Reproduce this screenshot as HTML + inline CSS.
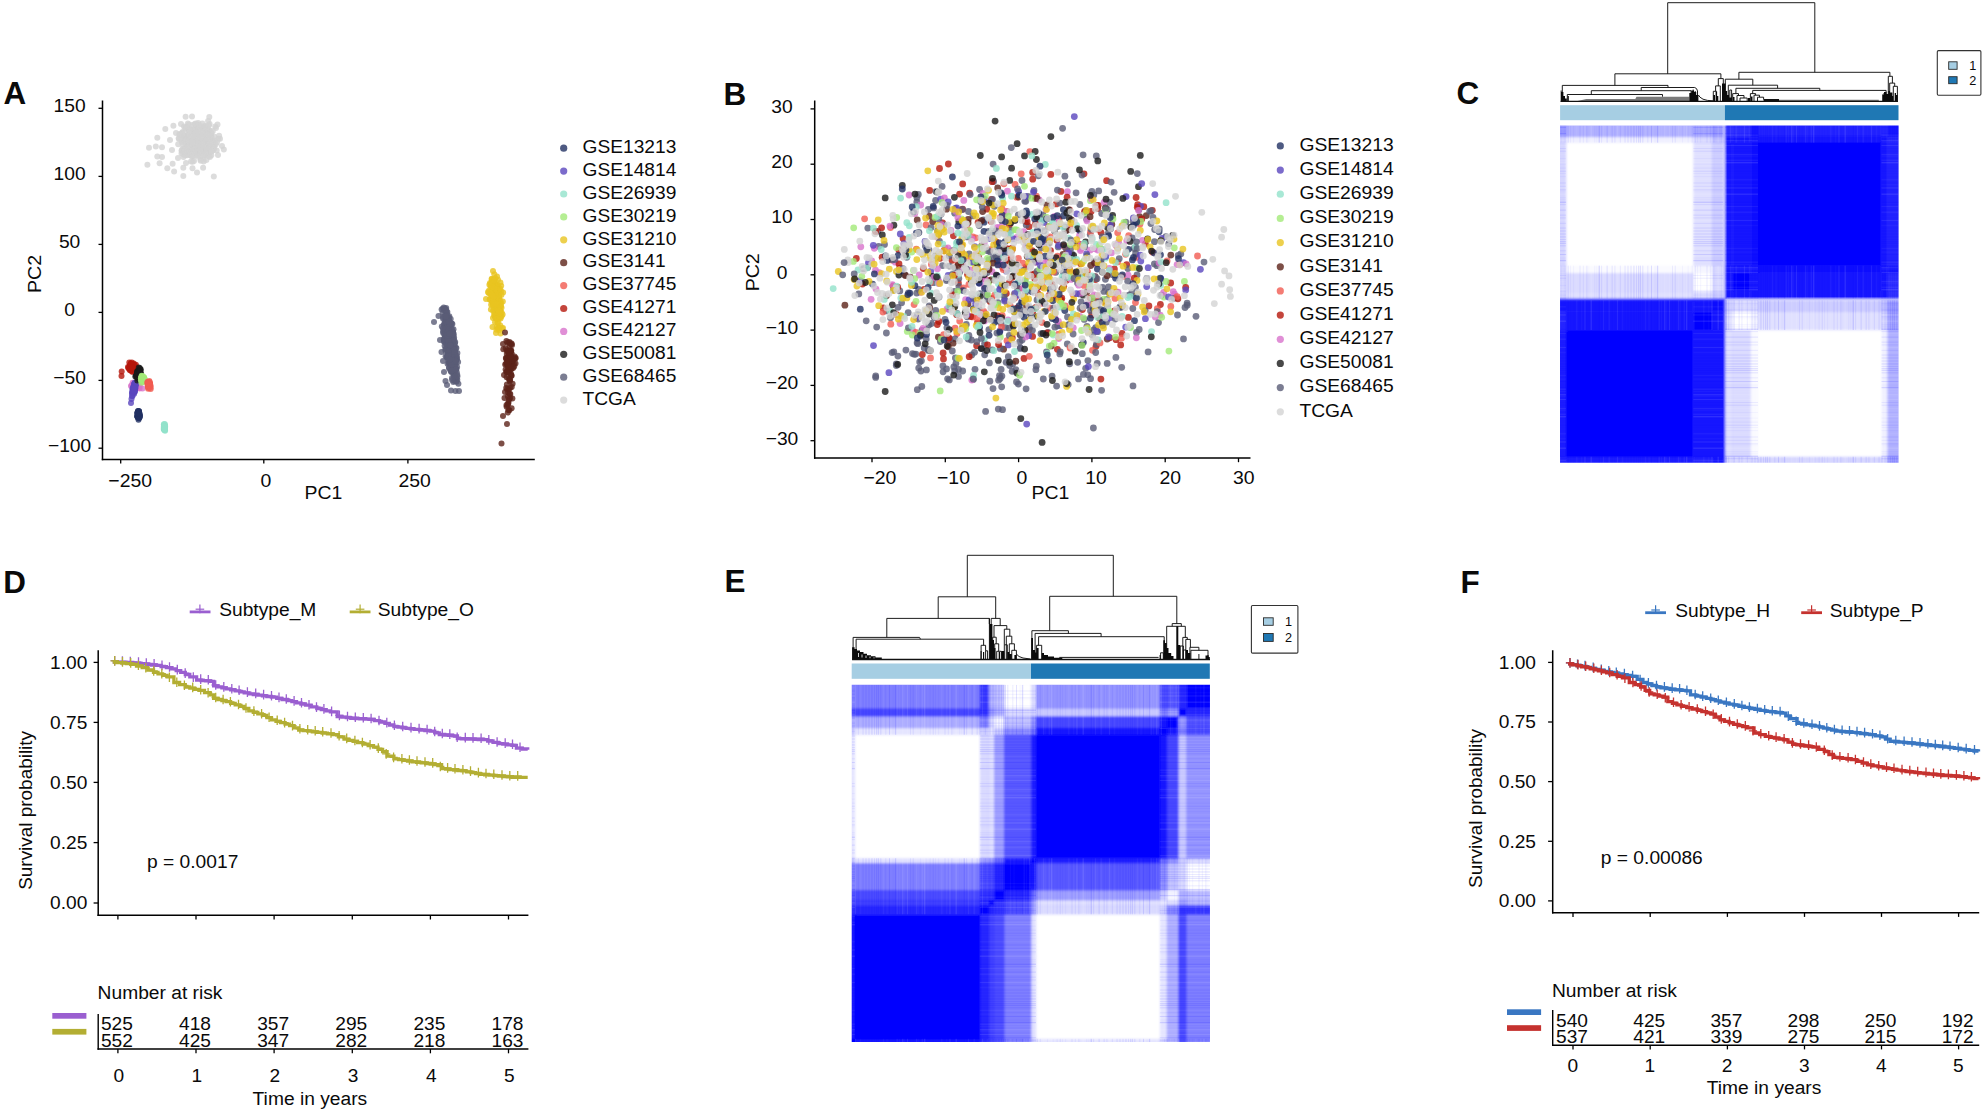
<!DOCTYPE html><html><head><meta charset="utf-8"><title>Figure</title>
<style>html,body{margin:0;padding:0;background:#fff}svg{display:block}text{font-family:'Liberation Sans', sans-serif;fill:#0a0a0a}</style></head><body>
<svg width="1984" height="1113" viewBox="0 0 1984 1113">
<rect width="1984" height="1113" fill="#fff"/>
<text transform="translate(3.4 104.1) scale(1.03 1)" font-size="30.5" text-anchor="start" font-weight="bold" fill="#000">A</text>
<text transform="translate(723.6 104.8) scale(1.03 1)" font-size="30.5" text-anchor="start" font-weight="bold" fill="#000">B</text>
<text transform="translate(1456.5 104.2) scale(1.03 1)" font-size="30.5" text-anchor="start" font-weight="bold" fill="#000">C</text>
<text transform="translate(3.2 593.0) scale(1.03 1)" font-size="30.5" text-anchor="start" font-weight="bold" fill="#000">D</text>
<text transform="translate(724.4 592.3) scale(1.03 1)" font-size="30.5" text-anchor="start" font-weight="bold" fill="#000">E</text>
<text transform="translate(1460.4 592.9) scale(1.03 1)" font-size="30.5" text-anchor="start" font-weight="bold" fill="#000">F</text>
<g fill="#d3d3d3" fill-opacity="0.8">
<circle cx="196.3" cy="145.9" r="3.0"/>
<circle cx="196.6" cy="138.8" r="3.0"/>
<circle cx="190.5" cy="139.7" r="3.0"/>
<circle cx="208.1" cy="145.1" r="3.0"/>
<circle cx="207.4" cy="143.6" r="3.0"/>
<circle cx="201.9" cy="143.1" r="3.0"/>
<circle cx="184.2" cy="148.9" r="3.0"/>
<circle cx="202.9" cy="145.8" r="3.0"/>
<circle cx="184.0" cy="126.5" r="3.0"/>
<circle cx="190.8" cy="137.5" r="3.0"/>
<circle cx="201.1" cy="141.1" r="3.0"/>
<circle cx="203.0" cy="136.0" r="3.0"/>
<circle cx="201.2" cy="144.9" r="3.0"/>
<circle cx="192.8" cy="156.3" r="3.0"/>
<circle cx="203.3" cy="151.8" r="3.0"/>
<circle cx="193.2" cy="135.1" r="3.0"/>
<circle cx="195.5" cy="140.6" r="3.0"/>
<circle cx="203.9" cy="143.6" r="3.0"/>
<circle cx="194.7" cy="133.3" r="3.0"/>
<circle cx="194.0" cy="152.0" r="3.0"/>
<circle cx="191.6" cy="143.6" r="3.0"/>
<circle cx="202.2" cy="128.7" r="3.0"/>
<circle cx="198.9" cy="152.7" r="3.0"/>
<circle cx="181.2" cy="138.7" r="3.0"/>
<circle cx="197.6" cy="134.5" r="3.0"/>
<circle cx="202.8" cy="141.0" r="3.0"/>
<circle cx="185.9" cy="148.6" r="3.0"/>
<circle cx="204.3" cy="149.6" r="3.0"/>
<circle cx="210.9" cy="144.6" r="3.0"/>
<circle cx="199.5" cy="130.3" r="3.0"/>
<circle cx="203.8" cy="136.2" r="3.0"/>
<circle cx="194.6" cy="130.6" r="3.0"/>
<circle cx="190.2" cy="136.9" r="3.0"/>
<circle cx="209.6" cy="124.0" r="3.0"/>
<circle cx="186.0" cy="143.6" r="3.0"/>
<circle cx="210.9" cy="146.5" r="3.0"/>
<circle cx="201.6" cy="135.2" r="3.0"/>
<circle cx="188.9" cy="149.9" r="3.0"/>
<circle cx="208.0" cy="142.9" r="3.0"/>
<circle cx="200.6" cy="145.2" r="3.0"/>
<circle cx="212.2" cy="146.8" r="3.0"/>
<circle cx="203.0" cy="146.2" r="3.0"/>
<circle cx="185.0" cy="152.5" r="3.0"/>
<circle cx="206.7" cy="146.1" r="3.0"/>
<circle cx="181.5" cy="136.1" r="3.0"/>
<circle cx="205.7" cy="125.9" r="3.0"/>
<circle cx="196.9" cy="150.3" r="3.0"/>
<circle cx="187.2" cy="155.3" r="3.0"/>
<circle cx="203.2" cy="140.2" r="3.0"/>
<circle cx="201.3" cy="147.1" r="3.0"/>
<circle cx="199.5" cy="151.4" r="3.0"/>
<circle cx="192.8" cy="137.9" r="3.0"/>
<circle cx="207.5" cy="141.7" r="3.0"/>
<circle cx="190.9" cy="149.6" r="3.0"/>
<circle cx="211.1" cy="137.7" r="3.0"/>
<circle cx="186.6" cy="140.3" r="3.0"/>
<circle cx="197.2" cy="138.9" r="3.0"/>
<circle cx="210.6" cy="132.7" r="3.0"/>
<circle cx="209.3" cy="130.6" r="3.0"/>
<circle cx="191.7" cy="146.9" r="3.0"/>
<circle cx="208.2" cy="148.9" r="3.0"/>
<circle cx="201.5" cy="142.7" r="3.0"/>
<circle cx="199.8" cy="146.4" r="3.0"/>
<circle cx="197.0" cy="143.9" r="3.0"/>
<circle cx="203.4" cy="141.5" r="3.0"/>
<circle cx="205.1" cy="146.4" r="3.0"/>
<circle cx="215.8" cy="144.3" r="3.0"/>
<circle cx="194.8" cy="138.3" r="3.0"/>
<circle cx="198.4" cy="149.4" r="3.0"/>
<circle cx="195.6" cy="144.8" r="3.0"/>
<circle cx="188.8" cy="143.6" r="3.0"/>
<circle cx="201.9" cy="143.6" r="3.0"/>
<circle cx="194.8" cy="147.1" r="3.0"/>
<circle cx="200.9" cy="137.0" r="3.0"/>
<circle cx="193.7" cy="140.6" r="3.0"/>
<circle cx="196.6" cy="141.0" r="3.0"/>
<circle cx="207.2" cy="131.5" r="3.0"/>
<circle cx="197.9" cy="149.7" r="3.0"/>
<circle cx="205.9" cy="154.3" r="3.0"/>
<circle cx="183.9" cy="138.5" r="3.0"/>
<circle cx="195.6" cy="146.9" r="3.0"/>
<circle cx="207.9" cy="129.1" r="3.0"/>
<circle cx="204.4" cy="128.7" r="3.0"/>
<circle cx="200.0" cy="151.8" r="3.0"/>
<circle cx="197.2" cy="143.1" r="3.0"/>
<circle cx="205.4" cy="142.7" r="3.0"/>
<circle cx="197.7" cy="154.7" r="3.0"/>
<circle cx="207.5" cy="139.0" r="3.0"/>
<circle cx="206.4" cy="139.2" r="3.0"/>
<circle cx="199.6" cy="147.6" r="3.0"/>
<circle cx="200.4" cy="147.0" r="3.0"/>
<circle cx="185.4" cy="128.5" r="3.0"/>
<circle cx="203.8" cy="133.2" r="3.0"/>
<circle cx="189.7" cy="128.9" r="3.0"/>
<circle cx="209.4" cy="147.9" r="3.0"/>
<circle cx="211.2" cy="133.4" r="3.0"/>
<circle cx="198.5" cy="131.7" r="3.0"/>
<circle cx="205.1" cy="155.2" r="3.0"/>
<circle cx="190.8" cy="154.9" r="3.0"/>
<circle cx="207.0" cy="140.0" r="3.0"/>
<circle cx="181.5" cy="153.6" r="3.0"/>
<circle cx="197.7" cy="136.3" r="3.0"/>
<circle cx="201.9" cy="145.0" r="3.0"/>
<circle cx="211.4" cy="132.7" r="3.0"/>
<circle cx="208.3" cy="154.3" r="3.0"/>
<circle cx="211.0" cy="139.9" r="3.0"/>
<circle cx="192.1" cy="150.3" r="3.0"/>
<circle cx="199.5" cy="142.6" r="3.0"/>
<circle cx="210.7" cy="139.2" r="3.0"/>
<circle cx="178.7" cy="138.2" r="3.0"/>
<circle cx="182.6" cy="148.5" r="3.0"/>
<circle cx="201.2" cy="136.2" r="3.0"/>
<circle cx="198.4" cy="148.7" r="3.0"/>
<circle cx="199.2" cy="152.9" r="3.0"/>
<circle cx="198.0" cy="150.4" r="3.0"/>
<circle cx="211.3" cy="155.3" r="3.0"/>
<circle cx="192.7" cy="149.1" r="3.0"/>
<circle cx="182.4" cy="132.2" r="3.0"/>
<circle cx="181.6" cy="150.7" r="3.0"/>
<circle cx="187.9" cy="141.4" r="3.0"/>
<circle cx="196.8" cy="141.3" r="3.0"/>
<circle cx="193.4" cy="143.5" r="3.0"/>
<circle cx="213.9" cy="141.9" r="3.0"/>
<circle cx="203.1" cy="150.1" r="3.0"/>
<circle cx="196.8" cy="130.7" r="3.0"/>
<circle cx="193.7" cy="150.7" r="3.0"/>
<circle cx="184.3" cy="136.4" r="3.0"/>
<circle cx="207.2" cy="148.3" r="3.0"/>
<circle cx="198.6" cy="148.4" r="3.0"/>
<circle cx="199.9" cy="131.4" r="3.0"/>
<circle cx="185.1" cy="136.0" r="3.0"/>
<circle cx="206.4" cy="136.6" r="3.0"/>
<circle cx="190.7" cy="134.9" r="3.0"/>
<circle cx="185.3" cy="140.5" r="3.0"/>
<circle cx="188.4" cy="144.6" r="3.0"/>
<circle cx="178.2" cy="144.3" r="3.0"/>
<circle cx="193.0" cy="124.8" r="3.0"/>
<circle cx="204.7" cy="139.1" r="3.0"/>
<circle cx="179.3" cy="134.0" r="3.0"/>
<circle cx="201.0" cy="137.6" r="3.0"/>
<circle cx="205.2" cy="147.9" r="3.0"/>
<circle cx="204.2" cy="144.3" r="3.0"/>
<circle cx="210.0" cy="147.2" r="3.0"/>
<circle cx="202.4" cy="123.6" r="3.0"/>
<circle cx="206.2" cy="152.8" r="3.0"/>
<circle cx="195.9" cy="137.5" r="3.0"/>
<circle cx="215.2" cy="126.4" r="3.0"/>
<circle cx="190.5" cy="147.4" r="3.0"/>
<circle cx="214.7" cy="140.5" r="3.0"/>
<circle cx="203.3" cy="149.3" r="3.0"/>
<circle cx="190.7" cy="140.7" r="3.0"/>
<circle cx="201.0" cy="148.6" r="3.0"/>
<circle cx="198.2" cy="139.8" r="3.0"/>
<circle cx="189.8" cy="138.4" r="3.0"/>
<circle cx="206.2" cy="142.4" r="3.0"/>
<circle cx="191.2" cy="134.3" r="3.0"/>
<circle cx="203.8" cy="145.6" r="3.0"/>
<circle cx="213.0" cy="145.2" r="3.0"/>
<circle cx="197.9" cy="146.0" r="3.0"/>
<circle cx="181.8" cy="150.4" r="3.0"/>
<circle cx="201.3" cy="135.5" r="3.0"/>
<circle cx="209.9" cy="157.1" r="3.0"/>
<circle cx="186.4" cy="135.8" r="3.0"/>
<circle cx="201.0" cy="143.1" r="3.0"/>
<circle cx="195.1" cy="133.1" r="3.0"/>
<circle cx="216.7" cy="150.4" r="3.0"/>
<circle cx="188.2" cy="129.9" r="3.0"/>
<circle cx="213.1" cy="150.0" r="3.0"/>
<circle cx="214.2" cy="148.5" r="3.0"/>
<circle cx="191.0" cy="143.7" r="3.0"/>
<circle cx="179.9" cy="135.1" r="3.0"/>
<circle cx="198.0" cy="146.0" r="3.0"/>
<circle cx="192.2" cy="140.4" r="3.0"/>
<circle cx="202.4" cy="144.7" r="3.0"/>
<circle cx="204.0" cy="143.3" r="3.0"/>
<circle cx="195.7" cy="148.3" r="3.0"/>
<circle cx="198.9" cy="134.4" r="3.0"/>
<circle cx="193.1" cy="141.5" r="3.0"/>
<circle cx="197.6" cy="142.9" r="3.0"/>
<circle cx="198.5" cy="143.0" r="3.0"/>
<circle cx="197.3" cy="130.7" r="3.0"/>
<circle cx="202.1" cy="150.6" r="3.0"/>
<circle cx="202.2" cy="139.9" r="3.0"/>
<circle cx="202.3" cy="133.2" r="3.0"/>
<circle cx="182.2" cy="142.0" r="3.0"/>
<circle cx="190.5" cy="147.9" r="3.0"/>
<circle cx="189.6" cy="155.1" r="3.0"/>
<circle cx="195.2" cy="129.7" r="3.0"/>
<circle cx="191.9" cy="146.0" r="3.0"/>
<circle cx="202.8" cy="143.0" r="3.0"/>
<circle cx="211.3" cy="147.6" r="3.0"/>
<circle cx="198.3" cy="146.6" r="3.0"/>
<circle cx="212.7" cy="149.9" r="3.0"/>
<circle cx="207.3" cy="132.2" r="3.0"/>
<circle cx="197.2" cy="147.8" r="3.0"/>
<circle cx="196.0" cy="150.7" r="3.0"/>
<circle cx="203.6" cy="149.3" r="3.0"/>
<circle cx="209.2" cy="139.6" r="3.0"/>
<circle cx="195.5" cy="149.0" r="3.0"/>
<circle cx="206.9" cy="141.6" r="3.0"/>
<circle cx="188.5" cy="143.1" r="3.0"/>
<circle cx="201.6" cy="151.2" r="3.0"/>
<circle cx="205.2" cy="141.7" r="3.0"/>
<circle cx="205.8" cy="146.1" r="3.0"/>
<circle cx="200.3" cy="142.0" r="3.0"/>
<circle cx="196.4" cy="147.4" r="3.0"/>
<circle cx="189.4" cy="136.1" r="3.0"/>
<circle cx="198.5" cy="128.9" r="3.0"/>
<circle cx="194.8" cy="124.2" r="3.0"/>
<circle cx="192.6" cy="146.4" r="3.0"/>
<circle cx="203.4" cy="141.0" r="3.0"/>
<circle cx="196.5" cy="129.3" r="3.0"/>
<circle cx="214.2" cy="145.9" r="3.0"/>
<circle cx="207.9" cy="133.9" r="3.0"/>
<circle cx="196.9" cy="125.9" r="3.0"/>
<circle cx="205.2" cy="149.5" r="3.0"/>
<circle cx="182.2" cy="141.1" r="3.0"/>
<circle cx="203.9" cy="126.3" r="3.0"/>
<circle cx="182.8" cy="132.3" r="3.0"/>
<circle cx="193.1" cy="129.4" r="3.0"/>
<circle cx="198.8" cy="143.6" r="3.0"/>
<circle cx="204.0" cy="147.5" r="3.0"/>
<circle cx="211.4" cy="151.5" r="3.0"/>
<circle cx="187.2" cy="137.2" r="3.0"/>
<circle cx="189.4" cy="132.2" r="3.0"/>
<circle cx="197.8" cy="141.5" r="3.0"/>
<circle cx="202.7" cy="127.9" r="3.0"/>
<circle cx="187.9" cy="141.3" r="3.0"/>
<circle cx="196.8" cy="138.8" r="3.0"/>
<circle cx="198.0" cy="135.0" r="3.0"/>
<circle cx="204.5" cy="144.5" r="3.0"/>
<circle cx="197.7" cy="135.7" r="3.0"/>
<circle cx="190.1" cy="141.8" r="3.0"/>
<circle cx="185.6" cy="143.2" r="3.0"/>
<circle cx="199.8" cy="129.7" r="3.0"/>
<circle cx="196.3" cy="138.8" r="3.0"/>
<circle cx="202.5" cy="146.8" r="3.0"/>
<circle cx="198.2" cy="134.2" r="3.0"/>
<circle cx="197.3" cy="140.9" r="3.0"/>
<circle cx="204.8" cy="144.0" r="3.0"/>
<circle cx="192.3" cy="129.9" r="3.0"/>
<circle cx="195.3" cy="135.1" r="3.0"/>
<circle cx="188.9" cy="140.5" r="3.0"/>
<circle cx="194.3" cy="142.4" r="3.0"/>
<circle cx="203.0" cy="137.9" r="3.0"/>
<circle cx="218.5" cy="138.7" r="3.0"/>
<circle cx="208.0" cy="142.5" r="3.0"/>
<circle cx="208.1" cy="121.1" r="3.0"/>
<circle cx="192.0" cy="143.6" r="3.0"/>
<circle cx="203.7" cy="161.6" r="3.0"/>
<circle cx="201.3" cy="152.5" r="3.0"/>
<circle cx="205.1" cy="149.6" r="3.0"/>
<circle cx="202.9" cy="140.2" r="3.0"/>
<circle cx="202.9" cy="132.2" r="3.0"/>
<circle cx="208.7" cy="132.8" r="3.0"/>
<circle cx="200.6" cy="159.7" r="3.0"/>
<circle cx="196.6" cy="141.7" r="3.0"/>
<circle cx="208.5" cy="141.7" r="3.0"/>
<circle cx="191.6" cy="143.7" r="3.0"/>
<circle cx="203.5" cy="147.6" r="3.0"/>
<circle cx="191.9" cy="156.6" r="3.0"/>
<circle cx="212.8" cy="141.7" r="3.0"/>
<circle cx="200.8" cy="137.8" r="3.0"/>
<circle cx="210.7" cy="135.4" r="3.0"/>
<circle cx="204.3" cy="137.4" r="3.0"/>
<circle cx="192.5" cy="147.7" r="3.0"/>
<circle cx="210.0" cy="141.4" r="3.0"/>
<circle cx="192.7" cy="148.5" r="3.0"/>
<circle cx="198.1" cy="144.2" r="3.0"/>
<circle cx="211.6" cy="151.2" r="3.0"/>
<circle cx="194.0" cy="161.1" r="3.0"/>
<circle cx="198.5" cy="148.3" r="3.0"/>
<circle cx="192.9" cy="141.1" r="3.0"/>
<circle cx="183.5" cy="156.9" r="3.0"/>
<circle cx="210.2" cy="131.0" r="3.0"/>
<circle cx="185.6" cy="127.6" r="3.0"/>
<circle cx="208.6" cy="137.5" r="3.0"/>
<circle cx="198.0" cy="138.8" r="3.0"/>
<circle cx="197.5" cy="132.1" r="3.0"/>
<circle cx="198.7" cy="129.1" r="3.0"/>
<circle cx="197.9" cy="144.2" r="3.0"/>
<circle cx="202.5" cy="139.5" r="3.0"/>
<circle cx="190.7" cy="142.9" r="3.0"/>
<circle cx="194.3" cy="155.0" r="3.0"/>
<circle cx="205.1" cy="140.5" r="3.0"/>
<circle cx="194.4" cy="135.5" r="3.0"/>
<circle cx="190.4" cy="138.5" r="3.0"/>
<circle cx="201.0" cy="145.9" r="3.0"/>
<circle cx="203.4" cy="159.5" r="3.0"/>
<circle cx="192.4" cy="141.6" r="3.0"/>
<circle cx="194.0" cy="143.0" r="3.0"/>
<circle cx="199.8" cy="145.0" r="3.0"/>
<circle cx="196.4" cy="144.6" r="3.0"/>
<circle cx="199.0" cy="148.1" r="3.0"/>
<circle cx="182.2" cy="133.9" r="3.0"/>
<circle cx="198.5" cy="132.6" r="3.0"/>
<circle cx="189.5" cy="146.9" r="3.0"/>
<circle cx="192.9" cy="147.0" r="3.0"/>
<circle cx="204.9" cy="144.1" r="3.0"/>
<circle cx="202.9" cy="140.6" r="3.0"/>
<circle cx="186.4" cy="141.2" r="3.0"/>
<circle cx="202.4" cy="136.9" r="3.0"/>
<circle cx="197.6" cy="147.9" r="3.0"/>
<circle cx="190.9" cy="147.0" r="3.0"/>
<circle cx="214.5" cy="136.7" r="3.0"/>
<circle cx="199.8" cy="140.2" r="3.0"/>
<circle cx="211.7" cy="144.2" r="3.0"/>
<circle cx="206.2" cy="135.6" r="3.0"/>
<circle cx="198.4" cy="141.4" r="3.0"/>
<circle cx="183.2" cy="153.9" r="3.0"/>
<circle cx="206.2" cy="126.5" r="3.0"/>
<circle cx="204.9" cy="140.4" r="3.0"/>
<circle cx="202.4" cy="144.7" r="3.0"/>
<circle cx="185.6" cy="139.7" r="3.0"/>
<circle cx="211.3" cy="136.6" r="3.0"/>
<circle cx="189.7" cy="129.8" r="3.0"/>
<circle cx="188.0" cy="144.4" r="3.0"/>
<circle cx="213.1" cy="145.2" r="3.0"/>
<circle cx="200.6" cy="160.7" r="3.0"/>
<circle cx="194.0" cy="135.7" r="3.0"/>
<circle cx="203.0" cy="146.2" r="3.0"/>
<circle cx="189.8" cy="131.4" r="3.0"/>
<circle cx="201.0" cy="143.6" r="3.0"/>
<circle cx="187.3" cy="139.8" r="3.0"/>
<circle cx="193.8" cy="145.5" r="3.0"/>
<circle cx="197.5" cy="140.8" r="3.0"/>
<circle cx="195.5" cy="150.6" r="3.0"/>
<circle cx="210.5" cy="138.3" r="3.0"/>
<circle cx="205.8" cy="135.0" r="3.0"/>
<circle cx="199.1" cy="147.9" r="3.0"/>
<circle cx="211.5" cy="138.2" r="3.0"/>
<circle cx="197.9" cy="143.2" r="3.0"/>
<circle cx="185.6" cy="141.6" r="3.0"/>
<circle cx="192.7" cy="144.7" r="3.0"/>
<circle cx="188.8" cy="124.5" r="3.0"/>
<circle cx="198.8" cy="143.7" r="3.0"/>
<circle cx="193.8" cy="149.1" r="3.0"/>
<circle cx="196.2" cy="136.3" r="3.0"/>
<circle cx="202.6" cy="128.0" r="3.0"/>
<circle cx="192.7" cy="141.3" r="3.0"/>
<circle cx="205.8" cy="140.1" r="3.0"/>
<circle cx="201.2" cy="135.9" r="3.0"/>
<circle cx="201.1" cy="155.8" r="3.0"/>
<circle cx="192.6" cy="161.8" r="3.0"/>
<circle cx="193.0" cy="141.6" r="3.0"/>
<circle cx="200.0" cy="150.3" r="3.0"/>
<circle cx="187.9" cy="123.4" r="3.0"/>
<circle cx="203.7" cy="148.3" r="3.0"/>
<circle cx="200.3" cy="143.7" r="3.0"/>
<circle cx="206.5" cy="144.7" r="3.0"/>
<circle cx="212.8" cy="130.9" r="3.0"/>
<circle cx="205.5" cy="138.3" r="3.0"/>
<circle cx="206.4" cy="160.0" r="3.0"/>
<circle cx="198.4" cy="139.3" r="3.0"/>
<circle cx="194.2" cy="134.3" r="3.0"/>
<circle cx="193.1" cy="147.0" r="3.0"/>
<circle cx="198.8" cy="142.1" r="3.0"/>
<circle cx="197.0" cy="149.4" r="3.0"/>
<circle cx="202.7" cy="140.3" r="3.0"/>
<circle cx="204.2" cy="140.2" r="3.0"/>
<circle cx="188.6" cy="154.0" r="3.0"/>
<circle cx="202.5" cy="133.3" r="3.0"/>
<circle cx="207.8" cy="144.5" r="3.0"/>
<circle cx="185.0" cy="155.3" r="3.0"/>
<circle cx="201.4" cy="149.2" r="3.0"/>
<circle cx="200.2" cy="140.2" r="3.0"/>
<circle cx="185.2" cy="149.9" r="3.0"/>
<circle cx="198.8" cy="139.0" r="3.0"/>
<circle cx="201.5" cy="142.2" r="3.0"/>
<circle cx="204.3" cy="138.3" r="3.0"/>
<circle cx="198.2" cy="123.1" r="3.0"/>
<circle cx="194.9" cy="147.3" r="3.0"/>
<circle cx="210.0" cy="138.4" r="3.0"/>
<circle cx="197.5" cy="155.1" r="3.0"/>
<circle cx="195.7" cy="147.8" r="3.0"/>
<circle cx="212.9" cy="141.8" r="3.0"/>
<circle cx="209.1" cy="135.4" r="3.0"/>
<circle cx="200.3" cy="140.8" r="3.0"/>
<circle cx="199.5" cy="151.2" r="3.0"/>
<circle cx="219.1" cy="135.8" r="3.0"/>
<circle cx="193.6" cy="145.8" r="3.0"/>
<circle cx="189.4" cy="145.8" r="3.0"/>
<circle cx="203.4" cy="139.1" r="3.0"/>
<circle cx="203.1" cy="128.2" r="3.0"/>
<circle cx="205.0" cy="128.2" r="3.0"/>
<circle cx="192.5" cy="136.7" r="3.0"/>
<circle cx="195.1" cy="148.9" r="3.0"/>
<circle cx="199.2" cy="138.1" r="3.0"/>
<circle cx="203.2" cy="155.1" r="3.0"/>
<circle cx="198.6" cy="144.6" r="3.0"/>
<circle cx="209.2" cy="143.8" r="3.0"/>
<circle cx="217.5" cy="124.4" r="3.0"/>
<circle cx="198.2" cy="145.1" r="3.0"/>
<circle cx="206.8" cy="147.3" r="3.0"/>
<circle cx="196.2" cy="132.4" r="3.0"/>
<circle cx="199.4" cy="150.4" r="3.0"/>
<circle cx="189.1" cy="132.7" r="3.0"/>
<circle cx="198.3" cy="124.8" r="3.0"/>
<circle cx="196.3" cy="137.7" r="3.0"/>
<circle cx="202.4" cy="135.5" r="3.0"/>
<circle cx="190.9" cy="138.1" r="3.0"/>
<circle cx="198.1" cy="135.8" r="3.0"/>
<circle cx="198.6" cy="148.0" r="3.0"/>
<circle cx="208.7" cy="156.2" r="3.0"/>
<circle cx="191.8" cy="137.9" r="3.0"/>
<circle cx="192.3" cy="141.2" r="3.0"/>
<circle cx="203.0" cy="129.8" r="3.0"/>
<circle cx="202.5" cy="141.3" r="3.0"/>
<circle cx="182.8" cy="144.0" r="3.0"/>
<circle cx="208.8" cy="125.4" r="3.0"/>
<circle cx="205.4" cy="143.3" r="3.0"/>
<circle cx="202.6" cy="145.3" r="3.0"/>
<circle cx="209.7" cy="139.6" r="3.0"/>
<circle cx="206.0" cy="138.0" r="3.0"/>
<circle cx="204.8" cy="134.5" r="3.0"/>
<circle cx="197.6" cy="156.4" r="3.0"/>
<circle cx="202.3" cy="140.1" r="3.0"/>
<circle cx="188.7" cy="134.7" r="3.0"/>
<circle cx="200.2" cy="149.6" r="3.0"/>
<circle cx="202.2" cy="146.0" r="3.0"/>
<circle cx="198.1" cy="153.1" r="3.0"/>
<circle cx="195.1" cy="136.8" r="3.0"/>
<circle cx="206.1" cy="142.0" r="3.0"/>
<circle cx="196.1" cy="136.5" r="3.0"/>
<circle cx="196.3" cy="146.9" r="3.0"/>
<circle cx="201.5" cy="131.1" r="3.0"/>
<circle cx="202.2" cy="143.0" r="3.0"/>
<circle cx="189.9" cy="148.1" r="3.0"/>
<circle cx="196.1" cy="138.6" r="3.0"/>
<circle cx="205.3" cy="152.9" r="3.0"/>
<circle cx="192.6" cy="145.3" r="3.0"/>
<circle cx="191.0" cy="161.4" r="3.0"/>
<circle cx="194.3" cy="151.8" r="3.0"/>
<circle cx="192.9" cy="148.5" r="3.0"/>
<circle cx="194.8" cy="145.8" r="3.0"/>
<circle cx="197.7" cy="135.8" r="3.0"/>
<circle cx="217.0" cy="142.2" r="3.0"/>
<circle cx="184.4" cy="148.8" r="3.0"/>
<circle cx="183.7" cy="151.4" r="3.0"/>
<circle cx="193.5" cy="142.7" r="3.0"/>
<circle cx="209.3" cy="142.5" r="3.0"/>
<circle cx="186.5" cy="126.9" r="3.0"/>
<circle cx="208.7" cy="147.9" r="3.0"/>
<circle cx="191.5" cy="148.9" r="3.0"/>
<circle cx="202.8" cy="147.1" r="3.0"/>
<circle cx="179.1" cy="138.9" r="3.0"/>
<circle cx="206.2" cy="147.8" r="3.0"/>
<circle cx="200.0" cy="145.7" r="3.0"/>
<circle cx="195.7" cy="141.8" r="3.0"/>
<circle cx="206.1" cy="137.7" r="3.0"/>
<circle cx="208.4" cy="134.7" r="3.0"/>
<circle cx="200.8" cy="137.0" r="3.0"/>
<circle cx="199.9" cy="135.6" r="3.0"/>
<circle cx="184.8" cy="150.9" r="3.0"/>
<circle cx="201.1" cy="136.7" r="3.0"/>
<circle cx="200.2" cy="150.0" r="3.0"/>
<circle cx="190.1" cy="140.6" r="3.0"/>
<circle cx="203.1" cy="146.0" r="3.0"/>
<circle cx="195.6" cy="123.4" r="3.0"/>
<circle cx="209.2" cy="144.3" r="3.0"/>
<circle cx="198.6" cy="139.1" r="3.0"/>
<circle cx="200.8" cy="137.8" r="3.0"/>
<circle cx="189.7" cy="135.1" r="3.0"/>
<circle cx="193.4" cy="136.2" r="3.0"/>
<circle cx="188.5" cy="147.0" r="3.0"/>
<circle cx="187.2" cy="147.2" r="3.0"/>
<circle cx="189.8" cy="144.5" r="3.0"/>
<circle cx="210.3" cy="143.2" r="3.0"/>
<circle cx="192.2" cy="141.9" r="3.0"/>
<circle cx="199.8" cy="126.6" r="3.0"/>
<circle cx="149.0" cy="147.7" r="3.0"/>
<circle cx="155.8" cy="146.4" r="3.0"/>
<circle cx="162.0" cy="147.2" r="3.0"/>
<circle cx="157.3" cy="137.7" r="3.0"/>
<circle cx="165.3" cy="128.9" r="3.0"/>
<circle cx="173.4" cy="125.8" r="3.0"/>
<circle cx="185.6" cy="116.7" r="3.0"/>
<circle cx="192.0" cy="116.4" r="3.0"/>
<circle cx="209.3" cy="117.0" r="3.0"/>
<circle cx="147.4" cy="164.8" r="3.0"/>
<circle cx="157.3" cy="156.4" r="3.0"/>
<circle cx="159.6" cy="163.2" r="3.0"/>
<circle cx="162.0" cy="157.0" r="3.0"/>
<circle cx="167.3" cy="168.3" r="3.0"/>
<circle cx="172.6" cy="163.7" r="3.0"/>
<circle cx="174.1" cy="171.6" r="3.0"/>
<circle cx="183.3" cy="167.8" r="3.0"/>
<circle cx="183.3" cy="175.9" r="3.0"/>
<circle cx="192.5" cy="168.3" r="3.0"/>
<circle cx="197.0" cy="172.4" r="3.0"/>
<circle cx="203.1" cy="167.8" r="3.0"/>
<circle cx="213.8" cy="176.5" r="3.0"/>
<circle cx="223.8" cy="149.5" r="3.0"/>
<circle cx="220.0" cy="138.8" r="3.0"/>
<circle cx="170.0" cy="140.0" r="3.0"/>
<circle cx="172.0" cy="150.0" r="3.0"/>
<circle cx="176.0" cy="133.0" r="3.0"/>
<circle cx="178.0" cy="158.0" r="3.0"/>
<circle cx="181.0" cy="124.0" r="3.0"/>
<circle cx="186.0" cy="163.0" r="3.0"/>
<circle cx="222.0" cy="146.0" r="3.0"/>
<circle cx="218.0" cy="155.0" r="3.0"/>
<circle cx="216.0" cy="128.0" r="3.0"/>
</g>
<g fill="#d873cc" fill-opacity="0.8">
<circle cx="135.4" cy="386.0" r="3.0"/>
<circle cx="135.7" cy="385.9" r="3.0"/>
<circle cx="138.5" cy="386.9" r="3.0"/>
<circle cx="138.9" cy="386.6" r="3.0"/>
<circle cx="136.1" cy="385.8" r="3.0"/>
<circle cx="136.2" cy="385.4" r="3.0"/>
<circle cx="136.4" cy="383.4" r="3.0"/>
<circle cx="136.0" cy="385.8" r="3.0"/>
<circle cx="134.6" cy="385.8" r="3.0"/>
<circle cx="138.0" cy="385.6" r="3.0"/>
<circle cx="136.3" cy="383.2" r="3.0"/>
<circle cx="131.0" cy="386.0" r="3.0"/>
<circle cx="138.0" cy="385.4" r="3.0"/>
<circle cx="138.1" cy="382.7" r="3.0"/>
<circle cx="138.8" cy="386.3" r="3.0"/>
<circle cx="136.9" cy="385.0" r="3.0"/>
<circle cx="138.3" cy="385.1" r="3.0"/>
<circle cx="137.3" cy="385.1" r="3.0"/>
<circle cx="131.6" cy="385.8" r="3.0"/>
<circle cx="137.3" cy="386.9" r="3.0"/>
<circle cx="134.8" cy="385.8" r="3.0"/>
<circle cx="138.2" cy="386.0" r="3.0"/>
<circle cx="139.7" cy="388.6" r="3.0"/>
<circle cx="134.7" cy="383.1" r="3.0"/>
<circle cx="138.8" cy="387.9" r="3.0"/>
<circle cx="138.9" cy="386.9" r="3.0"/>
<circle cx="135.4" cy="384.8" r="3.0"/>
<circle cx="138.8" cy="384.5" r="3.0"/>
<circle cx="132.6" cy="384.4" r="3.0"/>
<circle cx="142.5" cy="388.5" r="3.0"/>
<circle cx="135.2" cy="384.8" r="3.0"/>
<circle cx="137.3" cy="384.8" r="3.0"/>
<circle cx="139.8" cy="385.7" r="3.0"/>
<circle cx="134.3" cy="387.6" r="3.0"/>
<circle cx="135.5" cy="386.1" r="3.0"/>
<circle cx="136.8" cy="385.4" r="3.0"/>
<circle cx="137.5" cy="384.8" r="3.0"/>
<circle cx="132.6" cy="382.7" r="3.0"/>
<circle cx="133.9" cy="384.7" r="3.0"/>
<circle cx="136.7" cy="385.9" r="3.0"/>
</g>
<g fill="#b5160b" fill-opacity="0.8">
<circle cx="133.1" cy="367.5" r="3.0"/>
<circle cx="130.5" cy="365.9" r="3.0"/>
<circle cx="128.0" cy="367.0" r="3.0"/>
<circle cx="132.9" cy="368.4" r="3.0"/>
<circle cx="131.8" cy="367.0" r="3.0"/>
<circle cx="133.8" cy="367.3" r="3.0"/>
<circle cx="133.4" cy="368.5" r="3.0"/>
<circle cx="132.4" cy="369.9" r="3.0"/>
<circle cx="130.9" cy="366.6" r="3.0"/>
<circle cx="130.5" cy="365.7" r="3.0"/>
<circle cx="135.0" cy="370.8" r="3.0"/>
<circle cx="132.0" cy="368.4" r="3.0"/>
<circle cx="134.2" cy="368.9" r="3.0"/>
<circle cx="134.3" cy="364.8" r="3.0"/>
<circle cx="130.8" cy="368.2" r="3.0"/>
<circle cx="134.7" cy="367.5" r="3.0"/>
<circle cx="130.4" cy="366.6" r="3.0"/>
<circle cx="130.7" cy="365.6" r="3.0"/>
<circle cx="134.9" cy="366.0" r="3.0"/>
<circle cx="132.0" cy="371.6" r="3.0"/>
<circle cx="134.3" cy="368.0" r="3.0"/>
<circle cx="130.8" cy="368.1" r="3.0"/>
<circle cx="135.1" cy="368.5" r="3.0"/>
<circle cx="134.4" cy="367.5" r="3.0"/>
<circle cx="133.0" cy="366.9" r="3.0"/>
<circle cx="132.8" cy="369.9" r="3.0"/>
<circle cx="129.3" cy="367.2" r="3.0"/>
<circle cx="132.5" cy="366.2" r="3.0"/>
<circle cx="131.4" cy="368.9" r="3.0"/>
<circle cx="135.8" cy="368.6" r="3.0"/>
<circle cx="132.6" cy="364.2" r="3.0"/>
<circle cx="135.7" cy="367.5" r="3.0"/>
<circle cx="131.9" cy="365.1" r="3.0"/>
<circle cx="131.9" cy="365.1" r="3.0"/>
<circle cx="132.1" cy="368.2" r="3.0"/>
<circle cx="132.1" cy="367.9" r="3.0"/>
<circle cx="130.4" cy="370.2" r="3.0"/>
<circle cx="130.8" cy="363.7" r="3.0"/>
<circle cx="131.6" cy="365.8" r="3.0"/>
<circle cx="130.1" cy="366.6" r="3.0"/>
<circle cx="132.6" cy="364.9" r="3.0"/>
<circle cx="131.7" cy="370.2" r="3.0"/>
<circle cx="133.3" cy="367.0" r="3.0"/>
<circle cx="132.2" cy="367.1" r="3.0"/>
<circle cx="131.9" cy="368.8" r="3.0"/>
<circle cx="131.8" cy="362.5" r="3.0"/>
<circle cx="132.0" cy="365.5" r="3.0"/>
<circle cx="133.2" cy="366.1" r="3.0"/>
<circle cx="132.3" cy="371.7" r="3.0"/>
<circle cx="130.0" cy="365.1" r="3.0"/>
<circle cx="129.3" cy="362.5" r="3.0"/>
<circle cx="128.4" cy="368.0" r="3.0"/>
<circle cx="130.8" cy="363.6" r="3.0"/>
<circle cx="129.2" cy="368.5" r="3.0"/>
<circle cx="130.5" cy="366.6" r="3.0"/>
<circle cx="132.6" cy="370.0" r="3.0"/>
<circle cx="135.7" cy="369.4" r="3.0"/>
<circle cx="132.3" cy="367.7" r="3.0"/>
<circle cx="135.4" cy="370.2" r="3.0"/>
<circle cx="131.4" cy="368.2" r="3.0"/>
<circle cx="132.5" cy="367.4" r="3.0"/>
<circle cx="131.0" cy="364.6" r="3.0"/>
<circle cx="131.0" cy="364.2" r="3.0"/>
<circle cx="134.3" cy="368.4" r="3.0"/>
<circle cx="129.7" cy="370.1" r="3.0"/>
<circle cx="133.7" cy="363.5" r="3.0"/>
<circle cx="135.5" cy="368.9" r="3.0"/>
<circle cx="135.9" cy="364.8" r="3.0"/>
<circle cx="133.0" cy="368.1" r="3.0"/>
<circle cx="132.4" cy="367.6" r="3.0"/>
<circle cx="121.7" cy="371.5" r="3.0"/>
<circle cx="121.5" cy="376.0" r="3.0"/>
</g>
<g fill="#5a46be" fill-opacity="0.8">
<circle cx="136.1" cy="384.0" r="3.0"/>
<circle cx="134.0" cy="383.9" r="3.0"/>
<circle cx="134.1" cy="386.5" r="3.0"/>
<circle cx="134.4" cy="389.4" r="3.0"/>
<circle cx="134.7" cy="386.4" r="3.0"/>
<circle cx="133.2" cy="391.4" r="3.0"/>
<circle cx="134.8" cy="389.0" r="3.0"/>
<circle cx="132.9" cy="393.3" r="3.0"/>
<circle cx="133.3" cy="390.4" r="3.0"/>
<circle cx="135.4" cy="387.9" r="3.0"/>
<circle cx="135.6" cy="385.1" r="3.0"/>
<circle cx="135.0" cy="389.3" r="3.0"/>
<circle cx="132.4" cy="390.3" r="3.0"/>
<circle cx="132.6" cy="392.4" r="3.0"/>
<circle cx="133.7" cy="387.9" r="3.0"/>
<circle cx="134.7" cy="387.5" r="3.0"/>
<circle cx="134.8" cy="386.8" r="3.0"/>
<circle cx="134.8" cy="388.6" r="3.0"/>
<circle cx="135.2" cy="388.8" r="3.0"/>
<circle cx="132.6" cy="388.5" r="3.0"/>
<circle cx="133.9" cy="391.9" r="3.0"/>
<circle cx="132.3" cy="393.2" r="3.0"/>
<circle cx="132.5" cy="396.0" r="3.0"/>
<circle cx="133.6" cy="390.6" r="3.0"/>
<circle cx="134.6" cy="384.9" r="3.0"/>
<circle cx="134.6" cy="391.5" r="3.0"/>
<circle cx="135.0" cy="391.5" r="3.0"/>
<circle cx="134.8" cy="383.2" r="3.0"/>
<circle cx="134.1" cy="386.3" r="3.0"/>
<circle cx="133.1" cy="390.2" r="3.0"/>
<circle cx="134.7" cy="387.7" r="3.0"/>
<circle cx="134.4" cy="388.1" r="3.0"/>
<circle cx="133.9" cy="390.9" r="3.0"/>
<circle cx="135.5" cy="386.5" r="3.0"/>
<circle cx="132.0" cy="392.7" r="3.0"/>
<circle cx="133.6" cy="392.0" r="3.0"/>
<circle cx="133.0" cy="387.2" r="3.0"/>
<circle cx="135.1" cy="384.0" r="3.0"/>
<circle cx="133.3" cy="390.7" r="3.0"/>
<circle cx="134.1" cy="393.7" r="3.0"/>
<circle cx="134.3" cy="384.0" r="3.0"/>
<circle cx="134.1" cy="391.5" r="3.0"/>
<circle cx="135.2" cy="384.5" r="3.0"/>
<circle cx="134.4" cy="391.1" r="3.0"/>
<circle cx="135.0" cy="387.1" r="3.0"/>
<circle cx="134.0" cy="391.0" r="3.0"/>
<circle cx="134.9" cy="382.6" r="3.0"/>
<circle cx="134.2" cy="390.1" r="3.0"/>
<circle cx="133.6" cy="391.3" r="3.0"/>
<circle cx="133.7" cy="388.1" r="3.0"/>
<circle cx="131.5" cy="399.0" r="3.0"/>
<circle cx="131.0" cy="403.0" r="3.0"/>
<circle cx="132.0" cy="396.0" r="3.0"/>
</g>
<g fill="#1a1a1a" fill-opacity="0.8">
<circle cx="137.8" cy="375.0" r="3.0"/>
<circle cx="140.6" cy="373.3" r="3.0"/>
<circle cx="139.9" cy="378.3" r="3.0"/>
<circle cx="139.1" cy="375.3" r="3.0"/>
<circle cx="140.8" cy="373.5" r="3.0"/>
<circle cx="139.2" cy="370.6" r="3.0"/>
<circle cx="138.2" cy="377.3" r="3.0"/>
<circle cx="138.9" cy="374.8" r="3.0"/>
<circle cx="138.2" cy="373.9" r="3.0"/>
<circle cx="136.2" cy="375.9" r="3.0"/>
<circle cx="138.9" cy="370.4" r="3.0"/>
<circle cx="138.3" cy="371.0" r="3.0"/>
<circle cx="138.9" cy="376.6" r="3.0"/>
<circle cx="136.4" cy="375.6" r="3.0"/>
<circle cx="140.0" cy="372.2" r="3.0"/>
<circle cx="137.4" cy="371.0" r="3.0"/>
<circle cx="137.6" cy="374.2" r="3.0"/>
<circle cx="139.6" cy="367.9" r="3.0"/>
<circle cx="139.9" cy="369.4" r="3.0"/>
<circle cx="140.5" cy="370.5" r="3.0"/>
<circle cx="138.4" cy="371.0" r="3.0"/>
<circle cx="137.1" cy="376.9" r="3.0"/>
<circle cx="139.2" cy="375.4" r="3.0"/>
<circle cx="140.0" cy="369.4" r="3.0"/>
<circle cx="138.4" cy="371.8" r="3.0"/>
<circle cx="137.1" cy="374.6" r="3.0"/>
<circle cx="138.2" cy="371.4" r="3.0"/>
<circle cx="138.8" cy="367.6" r="3.0"/>
<circle cx="138.4" cy="377.3" r="3.0"/>
<circle cx="139.5" cy="370.9" r="3.0"/>
<circle cx="139.8" cy="374.7" r="3.0"/>
<circle cx="138.7" cy="377.8" r="3.0"/>
<circle cx="140.2" cy="372.6" r="3.0"/>
<circle cx="139.3" cy="375.9" r="3.0"/>
<circle cx="137.1" cy="371.9" r="3.0"/>
<circle cx="137.0" cy="372.8" r="3.0"/>
<circle cx="140.0" cy="370.8" r="3.0"/>
<circle cx="135.3" cy="376.4" r="3.0"/>
<circle cx="138.0" cy="377.6" r="3.0"/>
<circle cx="136.3" cy="376.0" r="3.0"/>
<circle cx="139.6" cy="379.6" r="3.0"/>
<circle cx="138.2" cy="374.2" r="3.0"/>
<circle cx="137.7" cy="376.2" r="3.0"/>
<circle cx="139.7" cy="374.0" r="3.0"/>
<circle cx="136.5" cy="375.1" r="3.0"/>
<circle cx="137.6" cy="375.1" r="3.0"/>
<circle cx="137.8" cy="378.0" r="3.0"/>
<circle cx="140.2" cy="372.6" r="3.0"/>
<circle cx="137.8" cy="378.4" r="3.0"/>
<circle cx="137.7" cy="374.5" r="3.0"/>
<circle cx="139.1" cy="377.3" r="3.0"/>
<circle cx="140.1" cy="370.1" r="3.0"/>
<circle cx="137.0" cy="373.8" r="3.0"/>
<circle cx="137.3" cy="380.5" r="3.0"/>
<circle cx="136.8" cy="376.3" r="3.0"/>
<circle cx="140.7" cy="369.2" r="3.0"/>
<circle cx="137.5" cy="373.7" r="3.0"/>
<circle cx="138.1" cy="372.9" r="3.0"/>
<circle cx="139.7" cy="371.4" r="3.0"/>
<circle cx="139.6" cy="371.9" r="3.0"/>
</g>
<g fill="#a2ea78" fill-opacity="0.8">
<circle cx="142.1" cy="379.8" r="3.0"/>
<circle cx="142.1" cy="379.4" r="3.0"/>
<circle cx="144.0" cy="379.0" r="3.0"/>
<circle cx="142.5" cy="380.1" r="3.0"/>
<circle cx="142.3" cy="380.6" r="3.0"/>
<circle cx="141.4" cy="379.9" r="3.0"/>
<circle cx="142.1" cy="377.8" r="3.0"/>
<circle cx="144.2" cy="377.7" r="3.0"/>
<circle cx="144.2" cy="380.0" r="3.0"/>
<circle cx="143.9" cy="377.5" r="3.0"/>
<circle cx="143.7" cy="381.2" r="3.0"/>
<circle cx="142.5" cy="378.8" r="3.0"/>
<circle cx="144.8" cy="379.3" r="3.0"/>
<circle cx="142.2" cy="378.1" r="3.0"/>
<circle cx="143.0" cy="379.5" r="3.0"/>
<circle cx="142.8" cy="381.6" r="3.0"/>
<circle cx="142.3" cy="379.7" r="3.0"/>
<circle cx="143.9" cy="377.5" r="3.0"/>
<circle cx="143.5" cy="381.7" r="3.0"/>
<circle cx="141.4" cy="377.4" r="3.0"/>
<circle cx="141.7" cy="376.2" r="3.0"/>
<circle cx="143.0" cy="376.2" r="3.0"/>
<circle cx="143.0" cy="381.2" r="3.0"/>
<circle cx="141.1" cy="378.5" r="3.0"/>
<circle cx="140.9" cy="380.2" r="3.0"/>
<circle cx="141.9" cy="378.6" r="3.0"/>
<circle cx="142.6" cy="379.8" r="3.0"/>
<circle cx="142.3" cy="379.0" r="3.0"/>
<circle cx="142.1" cy="379.2" r="3.0"/>
<circle cx="141.5" cy="379.1" r="3.0"/>
<circle cx="140.9" cy="378.3" r="3.0"/>
<circle cx="144.3" cy="379.1" r="3.0"/>
<circle cx="141.5" cy="379.4" r="3.0"/>
<circle cx="141.7" cy="376.5" r="3.0"/>
<circle cx="141.9" cy="380.1" r="3.0"/>
<circle cx="142.9" cy="378.9" r="3.0"/>
<circle cx="141.8" cy="377.4" r="3.0"/>
<circle cx="143.8" cy="379.4" r="3.0"/>
<circle cx="141.7" cy="375.8" r="3.0"/>
<circle cx="141.4" cy="382.7" r="3.0"/>
</g>
<g fill="#f15b51" fill-opacity="0.8">
<circle cx="148.0" cy="385.1" r="3.0"/>
<circle cx="149.2" cy="385.0" r="3.0"/>
<circle cx="148.7" cy="382.6" r="3.0"/>
<circle cx="148.1" cy="388.7" r="3.0"/>
<circle cx="148.3" cy="387.0" r="3.0"/>
<circle cx="147.5" cy="384.8" r="3.0"/>
<circle cx="149.2" cy="387.4" r="3.0"/>
<circle cx="148.0" cy="386.5" r="3.0"/>
<circle cx="149.3" cy="383.8" r="3.0"/>
<circle cx="149.4" cy="383.5" r="3.0"/>
<circle cx="148.3" cy="385.3" r="3.0"/>
<circle cx="148.1" cy="382.4" r="3.0"/>
<circle cx="148.6" cy="386.8" r="3.0"/>
<circle cx="148.6" cy="387.8" r="3.0"/>
<circle cx="148.0" cy="382.7" r="3.0"/>
<circle cx="150.4" cy="386.1" r="3.0"/>
<circle cx="149.9" cy="383.6" r="3.0"/>
<circle cx="149.7" cy="385.8" r="3.0"/>
<circle cx="149.6" cy="385.4" r="3.0"/>
<circle cx="150.1" cy="384.0" r="3.0"/>
<circle cx="148.1" cy="382.3" r="3.0"/>
<circle cx="150.0" cy="383.8" r="3.0"/>
<circle cx="148.1" cy="383.4" r="3.0"/>
<circle cx="148.6" cy="382.8" r="3.0"/>
<circle cx="148.7" cy="384.0" r="3.0"/>
<circle cx="148.5" cy="383.4" r="3.0"/>
<circle cx="149.0" cy="384.4" r="3.0"/>
<circle cx="149.1" cy="385.8" r="3.0"/>
<circle cx="149.3" cy="380.9" r="3.0"/>
<circle cx="148.5" cy="383.7" r="3.0"/>
<circle cx="149.7" cy="382.1" r="3.0"/>
<circle cx="148.4" cy="384.7" r="3.0"/>
<circle cx="148.7" cy="387.3" r="3.0"/>
<circle cx="148.6" cy="387.2" r="3.0"/>
<circle cx="147.7" cy="381.7" r="3.0"/>
<circle cx="150.1" cy="386.2" r="3.0"/>
<circle cx="149.4" cy="385.5" r="3.0"/>
<circle cx="149.4" cy="382.9" r="3.0"/>
<circle cx="149.9" cy="384.2" r="3.0"/>
<circle cx="149.9" cy="385.5" r="3.0"/>
<circle cx="147.2" cy="382.7" r="3.0"/>
<circle cx="150.0" cy="385.0" r="3.0"/>
<circle cx="148.6" cy="385.8" r="3.0"/>
<circle cx="148.6" cy="384.2" r="3.0"/>
<circle cx="149.1" cy="385.6" r="3.0"/>
<circle cx="150.4" cy="385.4" r="3.0"/>
<circle cx="150.7" cy="388.9" r="3.0"/>
<circle cx="150.5" cy="387.4" r="3.0"/>
<circle cx="149.1" cy="385.6" r="3.0"/>
<circle cx="148.9" cy="383.8" r="3.0"/>
</g>
<g fill="#223163" fill-opacity="0.8">
<circle cx="138.5" cy="413.6" r="3.0"/>
<circle cx="139.5" cy="415.8" r="3.0"/>
<circle cx="138.2" cy="411.2" r="3.0"/>
<circle cx="138.5" cy="414.0" r="3.0"/>
<circle cx="137.8" cy="412.6" r="3.0"/>
<circle cx="137.1" cy="415.9" r="3.0"/>
<circle cx="138.5" cy="419.7" r="3.0"/>
<circle cx="138.5" cy="414.5" r="3.0"/>
<circle cx="139.4" cy="415.1" r="3.0"/>
<circle cx="138.6" cy="414.1" r="3.0"/>
<circle cx="138.1" cy="417.6" r="3.0"/>
<circle cx="139.1" cy="418.1" r="3.0"/>
<circle cx="138.3" cy="414.9" r="3.0"/>
<circle cx="138.0" cy="416.6" r="3.0"/>
<circle cx="137.7" cy="415.9" r="3.0"/>
<circle cx="139.2" cy="417.5" r="3.0"/>
<circle cx="137.9" cy="416.9" r="3.0"/>
<circle cx="138.1" cy="413.4" r="3.0"/>
<circle cx="137.7" cy="417.0" r="3.0"/>
<circle cx="139.5" cy="413.7" r="3.0"/>
<circle cx="138.0" cy="414.2" r="3.0"/>
<circle cx="140.0" cy="416.7" r="3.0"/>
<circle cx="138.2" cy="411.4" r="3.0"/>
<circle cx="138.1" cy="417.1" r="3.0"/>
<circle cx="139.6" cy="414.3" r="3.0"/>
<circle cx="138.1" cy="413.8" r="3.0"/>
<circle cx="137.4" cy="416.5" r="3.0"/>
<circle cx="137.8" cy="416.8" r="3.0"/>
<circle cx="137.5" cy="412.4" r="3.0"/>
<circle cx="138.7" cy="413.3" r="3.0"/>
<circle cx="139.0" cy="414.8" r="3.0"/>
<circle cx="137.8" cy="416.0" r="3.0"/>
<circle cx="139.0" cy="411.2" r="3.0"/>
<circle cx="139.6" cy="415.7" r="3.0"/>
<circle cx="139.0" cy="411.3" r="3.0"/>
<circle cx="138.1" cy="414.1" r="3.0"/>
<circle cx="139.1" cy="412.0" r="3.0"/>
<circle cx="138.0" cy="410.9" r="3.0"/>
<circle cx="138.4" cy="415.5" r="3.0"/>
<circle cx="137.5" cy="413.7" r="3.0"/>
<circle cx="138.8" cy="417.8" r="3.0"/>
<circle cx="138.9" cy="414.2" r="3.0"/>
<circle cx="137.8" cy="413.0" r="3.0"/>
<circle cx="138.1" cy="415.1" r="3.0"/>
<circle cx="138.5" cy="418.0" r="3.0"/>
<circle cx="138.7" cy="412.8" r="3.0"/>
<circle cx="139.4" cy="416.6" r="3.0"/>
<circle cx="138.6" cy="413.4" r="3.0"/>
<circle cx="137.4" cy="412.9" r="3.0"/>
<circle cx="139.0" cy="413.3" r="3.0"/>
</g>
<g fill="#92e2ca" fill-opacity="0.8">
<circle cx="164.0" cy="428.3" r="3.0"/>
<circle cx="164.6" cy="429.0" r="3.0"/>
<circle cx="164.7" cy="430.3" r="3.0"/>
<circle cx="164.2" cy="429.6" r="3.0"/>
<circle cx="164.2" cy="429.1" r="3.0"/>
<circle cx="164.6" cy="428.4" r="3.0"/>
<circle cx="164.8" cy="428.0" r="3.0"/>
<circle cx="164.9" cy="429.4" r="3.0"/>
<circle cx="164.5" cy="427.1" r="3.0"/>
<circle cx="164.2" cy="427.2" r="3.0"/>
<circle cx="164.4" cy="428.0" r="3.0"/>
<circle cx="164.8" cy="426.6" r="3.0"/>
<circle cx="164.3" cy="427.5" r="3.0"/>
<circle cx="164.6" cy="426.3" r="3.0"/>
<circle cx="165.1" cy="427.1" r="3.0"/>
<circle cx="164.9" cy="424.3" r="3.0"/>
<circle cx="164.5" cy="428.4" r="3.0"/>
<circle cx="164.6" cy="429.0" r="3.0"/>
<circle cx="164.6" cy="428.3" r="3.0"/>
<circle cx="163.8" cy="426.9" r="3.0"/>
<circle cx="163.7" cy="429.0" r="3.0"/>
<circle cx="164.6" cy="427.7" r="3.0"/>
<circle cx="164.2" cy="427.1" r="3.0"/>
<circle cx="165.1" cy="430.8" r="3.0"/>
<circle cx="164.5" cy="430.1" r="3.0"/>
<circle cx="163.9" cy="424.9" r="3.0"/>
<circle cx="164.3" cy="426.6" r="3.0"/>
<circle cx="164.3" cy="428.3" r="3.0"/>
<circle cx="164.5" cy="428.4" r="3.0"/>
<circle cx="164.5" cy="429.5" r="3.0"/>
<circle cx="165.1" cy="426.0" r="3.0"/>
<circle cx="164.6" cy="427.6" r="3.0"/>
<circle cx="164.6" cy="425.5" r="3.0"/>
<circle cx="163.9" cy="424.3" r="3.0"/>
<circle cx="164.7" cy="428.3" r="3.0"/>
<circle cx="164.5" cy="424.2" r="3.0"/>
<circle cx="164.4" cy="426.8" r="3.0"/>
<circle cx="164.0" cy="426.5" r="3.0"/>
<circle cx="164.7" cy="428.9" r="3.0"/>
<circle cx="164.5" cy="428.8" r="3.0"/>
</g>
<g fill="#5a5c77" fill-opacity="0.8">
<circle cx="448.1" cy="329.9" r="3.0"/>
<circle cx="451.5" cy="342.8" r="3.0"/>
<circle cx="449.0" cy="340.6" r="3.0"/>
<circle cx="447.4" cy="339.3" r="3.0"/>
<circle cx="452.4" cy="352.3" r="3.0"/>
<circle cx="450.2" cy="370.1" r="3.0"/>
<circle cx="454.0" cy="355.9" r="3.0"/>
<circle cx="457.3" cy="379.7" r="3.0"/>
<circle cx="448.7" cy="357.4" r="3.0"/>
<circle cx="447.9" cy="324.6" r="3.0"/>
<circle cx="448.2" cy="352.1" r="3.0"/>
<circle cx="447.4" cy="334.3" r="3.0"/>
<circle cx="450.9" cy="343.2" r="3.0"/>
<circle cx="445.2" cy="336.3" r="3.0"/>
<circle cx="457.1" cy="366.9" r="3.0"/>
<circle cx="452.4" cy="339.9" r="3.0"/>
<circle cx="452.9" cy="350.9" r="3.0"/>
<circle cx="448.8" cy="351.6" r="3.0"/>
<circle cx="454.2" cy="353.5" r="3.0"/>
<circle cx="452.4" cy="324.1" r="3.0"/>
<circle cx="458.4" cy="383.8" r="3.0"/>
<circle cx="456.6" cy="381.8" r="3.0"/>
<circle cx="446.9" cy="335.2" r="3.0"/>
<circle cx="447.7" cy="325.7" r="3.0"/>
<circle cx="451.6" cy="341.3" r="3.0"/>
<circle cx="451.6" cy="341.5" r="3.0"/>
<circle cx="451.8" cy="351.5" r="3.0"/>
<circle cx="448.7" cy="337.8" r="3.0"/>
<circle cx="447.8" cy="325.5" r="3.0"/>
<circle cx="450.6" cy="341.5" r="3.0"/>
<circle cx="447.3" cy="324.9" r="3.0"/>
<circle cx="451.6" cy="343.0" r="3.0"/>
<circle cx="447.7" cy="320.7" r="3.0"/>
<circle cx="454.1" cy="361.7" r="3.0"/>
<circle cx="447.2" cy="334.6" r="3.0"/>
<circle cx="451.2" cy="337.3" r="3.0"/>
<circle cx="453.8" cy="373.1" r="3.0"/>
<circle cx="448.9" cy="329.1" r="3.0"/>
<circle cx="447.6" cy="346.1" r="3.0"/>
<circle cx="447.3" cy="327.3" r="3.0"/>
<circle cx="448.3" cy="355.4" r="3.0"/>
<circle cx="448.0" cy="321.6" r="3.0"/>
<circle cx="446.4" cy="317.5" r="3.0"/>
<circle cx="450.4" cy="349.0" r="3.0"/>
<circle cx="446.6" cy="321.6" r="3.0"/>
<circle cx="449.7" cy="335.4" r="3.0"/>
<circle cx="450.2" cy="325.2" r="3.0"/>
<circle cx="444.5" cy="308.5" r="3.0"/>
<circle cx="452.6" cy="342.2" r="3.0"/>
<circle cx="449.5" cy="329.8" r="3.0"/>
<circle cx="450.2" cy="330.7" r="3.0"/>
<circle cx="453.9" cy="376.7" r="3.0"/>
<circle cx="448.2" cy="350.9" r="3.0"/>
<circle cx="455.6" cy="361.5" r="3.0"/>
<circle cx="446.4" cy="342.7" r="3.0"/>
<circle cx="454.2" cy="350.0" r="3.0"/>
<circle cx="454.9" cy="363.8" r="3.0"/>
<circle cx="451.7" cy="328.4" r="3.0"/>
<circle cx="448.9" cy="317.5" r="3.0"/>
<circle cx="456.4" cy="379.6" r="3.0"/>
<circle cx="452.1" cy="364.4" r="3.0"/>
<circle cx="445.9" cy="317.5" r="3.0"/>
<circle cx="449.0" cy="338.0" r="3.0"/>
<circle cx="451.3" cy="355.9" r="3.0"/>
<circle cx="451.5" cy="345.8" r="3.0"/>
<circle cx="455.2" cy="341.9" r="3.0"/>
<circle cx="451.2" cy="350.8" r="3.0"/>
<circle cx="447.2" cy="337.8" r="3.0"/>
<circle cx="453.9" cy="368.9" r="3.0"/>
<circle cx="445.1" cy="320.4" r="3.0"/>
<circle cx="447.9" cy="339.3" r="3.0"/>
<circle cx="449.9" cy="363.7" r="3.0"/>
<circle cx="451.5" cy="351.8" r="3.0"/>
<circle cx="446.4" cy="318.4" r="3.0"/>
<circle cx="450.9" cy="340.1" r="3.0"/>
<circle cx="449.3" cy="333.0" r="3.0"/>
<circle cx="442.7" cy="308.7" r="3.0"/>
<circle cx="454.8" cy="357.7" r="3.0"/>
<circle cx="447.8" cy="341.7" r="3.0"/>
<circle cx="447.5" cy="363.7" r="3.0"/>
<circle cx="449.2" cy="326.0" r="3.0"/>
<circle cx="448.6" cy="355.1" r="3.0"/>
<circle cx="454.2" cy="371.0" r="3.0"/>
<circle cx="447.2" cy="324.1" r="3.0"/>
<circle cx="452.3" cy="360.0" r="3.0"/>
<circle cx="454.7" cy="364.2" r="3.0"/>
<circle cx="447.0" cy="357.4" r="3.0"/>
<circle cx="453.9" cy="364.8" r="3.0"/>
<circle cx="447.9" cy="329.8" r="3.0"/>
<circle cx="451.1" cy="362.9" r="3.0"/>
<circle cx="446.6" cy="327.9" r="3.0"/>
<circle cx="446.2" cy="340.5" r="3.0"/>
<circle cx="452.6" cy="351.7" r="3.0"/>
<circle cx="455.0" cy="343.4" r="3.0"/>
<circle cx="452.6" cy="335.4" r="3.0"/>
<circle cx="450.3" cy="331.1" r="3.0"/>
<circle cx="449.7" cy="346.0" r="3.0"/>
<circle cx="446.5" cy="332.1" r="3.0"/>
<circle cx="446.5" cy="335.1" r="3.0"/>
<circle cx="446.4" cy="330.1" r="3.0"/>
<circle cx="445.1" cy="331.5" r="3.0"/>
<circle cx="451.6" cy="339.3" r="3.0"/>
<circle cx="447.5" cy="337.0" r="3.0"/>
<circle cx="455.8" cy="369.1" r="3.0"/>
<circle cx="455.4" cy="360.4" r="3.0"/>
<circle cx="448.4" cy="335.5" r="3.0"/>
<circle cx="451.5" cy="364.3" r="3.0"/>
<circle cx="450.5" cy="339.6" r="3.0"/>
<circle cx="449.9" cy="349.5" r="3.0"/>
<circle cx="452.0" cy="361.7" r="3.0"/>
<circle cx="454.7" cy="356.5" r="3.0"/>
<circle cx="453.6" cy="355.2" r="3.0"/>
<circle cx="443.1" cy="318.8" r="3.0"/>
<circle cx="449.3" cy="329.6" r="3.0"/>
<circle cx="451.4" cy="372.0" r="3.0"/>
<circle cx="448.0" cy="348.1" r="3.0"/>
<circle cx="446.8" cy="327.4" r="3.0"/>
<circle cx="452.3" cy="355.8" r="3.0"/>
<circle cx="450.7" cy="365.6" r="3.0"/>
<circle cx="454.7" cy="359.8" r="3.0"/>
<circle cx="451.3" cy="343.4" r="3.0"/>
<circle cx="444.9" cy="330.7" r="3.0"/>
<circle cx="446.6" cy="333.9" r="3.0"/>
<circle cx="453.1" cy="332.3" r="3.0"/>
<circle cx="451.2" cy="346.0" r="3.0"/>
<circle cx="449.7" cy="356.9" r="3.0"/>
<circle cx="453.3" cy="360.3" r="3.0"/>
<circle cx="446.6" cy="311.7" r="3.0"/>
<circle cx="452.6" cy="353.1" r="3.0"/>
<circle cx="453.4" cy="373.7" r="3.0"/>
<circle cx="453.3" cy="352.2" r="3.0"/>
<circle cx="450.3" cy="324.0" r="3.0"/>
<circle cx="442.6" cy="313.0" r="3.0"/>
<circle cx="448.0" cy="352.4" r="3.0"/>
<circle cx="444.4" cy="339.7" r="3.0"/>
<circle cx="446.5" cy="343.4" r="3.0"/>
<circle cx="446.1" cy="348.8" r="3.0"/>
<circle cx="450.2" cy="351.0" r="3.0"/>
<circle cx="449.7" cy="343.3" r="3.0"/>
<circle cx="446.1" cy="344.6" r="3.0"/>
<circle cx="447.0" cy="342.7" r="3.0"/>
<circle cx="449.6" cy="332.9" r="3.0"/>
<circle cx="445.8" cy="326.7" r="3.0"/>
<circle cx="447.5" cy="320.9" r="3.0"/>
<circle cx="446.8" cy="339.2" r="3.0"/>
<circle cx="449.0" cy="322.3" r="3.0"/>
<circle cx="449.4" cy="328.8" r="3.0"/>
<circle cx="445.5" cy="351.0" r="3.0"/>
<circle cx="446.6" cy="320.3" r="3.0"/>
<circle cx="453.0" cy="348.8" r="3.0"/>
<circle cx="454.8" cy="358.0" r="3.0"/>
<circle cx="448.0" cy="334.5" r="3.0"/>
<circle cx="450.7" cy="357.5" r="3.0"/>
<circle cx="448.7" cy="363.1" r="3.0"/>
<circle cx="451.1" cy="355.1" r="3.0"/>
<circle cx="453.3" cy="361.6" r="3.0"/>
<circle cx="446.5" cy="342.4" r="3.0"/>
<circle cx="452.8" cy="332.7" r="3.0"/>
<circle cx="447.3" cy="325.5" r="3.0"/>
<circle cx="443.9" cy="324.9" r="3.0"/>
<circle cx="448.1" cy="339.4" r="3.0"/>
<circle cx="444.8" cy="323.8" r="3.0"/>
<circle cx="449.0" cy="363.0" r="3.0"/>
<circle cx="454.4" cy="381.1" r="3.0"/>
<circle cx="448.5" cy="320.1" r="3.0"/>
<circle cx="448.3" cy="353.3" r="3.0"/>
<circle cx="446.7" cy="357.0" r="3.0"/>
<circle cx="450.0" cy="323.5" r="3.0"/>
<circle cx="445.1" cy="336.9" r="3.0"/>
<circle cx="453.8" cy="352.3" r="3.0"/>
<circle cx="444.2" cy="341.6" r="3.0"/>
<circle cx="449.9" cy="335.1" r="3.0"/>
<circle cx="457.0" cy="357.4" r="3.0"/>
<circle cx="447.5" cy="336.9" r="3.0"/>
<circle cx="453.2" cy="341.2" r="3.0"/>
<circle cx="450.4" cy="323.2" r="3.0"/>
<circle cx="450.1" cy="358.0" r="3.0"/>
<circle cx="453.0" cy="351.2" r="3.0"/>
<circle cx="446.1" cy="318.3" r="3.0"/>
<circle cx="452.1" cy="346.8" r="3.0"/>
<circle cx="444.4" cy="323.4" r="3.0"/>
<circle cx="448.5" cy="338.2" r="3.0"/>
<circle cx="447.4" cy="312.1" r="3.0"/>
<circle cx="452.3" cy="331.3" r="3.0"/>
<circle cx="452.2" cy="359.0" r="3.0"/>
<circle cx="448.7" cy="356.5" r="3.0"/>
<circle cx="447.0" cy="335.5" r="3.0"/>
<circle cx="446.1" cy="316.6" r="3.0"/>
<circle cx="453.6" cy="339.1" r="3.0"/>
<circle cx="445.1" cy="328.6" r="3.0"/>
<circle cx="449.6" cy="332.7" r="3.0"/>
<circle cx="450.9" cy="350.1" r="3.0"/>
<circle cx="449.8" cy="332.5" r="3.0"/>
<circle cx="445.3" cy="349.2" r="3.0"/>
<circle cx="444.8" cy="336.8" r="3.0"/>
<circle cx="446.6" cy="318.4" r="3.0"/>
<circle cx="450.2" cy="343.2" r="3.0"/>
<circle cx="446.6" cy="324.5" r="3.0"/>
<circle cx="448.1" cy="323.7" r="3.0"/>
<circle cx="456.6" cy="355.8" r="3.0"/>
<circle cx="451.4" cy="367.3" r="3.0"/>
<circle cx="445.6" cy="332.8" r="3.0"/>
<circle cx="456.4" cy="348.1" r="3.0"/>
<circle cx="445.6" cy="356.2" r="3.0"/>
<circle cx="442.9" cy="316.9" r="3.0"/>
<circle cx="451.2" cy="352.3" r="3.0"/>
<circle cx="455.8" cy="348.0" r="3.0"/>
<circle cx="445.0" cy="325.5" r="3.0"/>
<circle cx="455.9" cy="381.3" r="3.0"/>
<circle cx="441.8" cy="326.4" r="3.0"/>
<circle cx="445.3" cy="311.5" r="3.0"/>
<circle cx="450.0" cy="343.4" r="3.0"/>
<circle cx="452.2" cy="361.9" r="3.0"/>
<circle cx="445.6" cy="328.1" r="3.0"/>
<circle cx="452.1" cy="380.0" r="3.0"/>
<circle cx="450.3" cy="345.5" r="3.0"/>
<circle cx="450.3" cy="354.3" r="3.0"/>
<circle cx="453.5" cy="352.0" r="3.0"/>
<circle cx="447.9" cy="339.1" r="3.0"/>
<circle cx="446.3" cy="338.3" r="3.0"/>
<circle cx="448.2" cy="337.8" r="3.0"/>
<circle cx="454.3" cy="346.2" r="3.0"/>
<circle cx="452.4" cy="368.2" r="3.0"/>
<circle cx="452.2" cy="354.1" r="3.0"/>
<circle cx="451.9" cy="357.2" r="3.0"/>
<circle cx="449.0" cy="347.3" r="3.0"/>
<circle cx="449.8" cy="326.3" r="3.0"/>
<circle cx="455.0" cy="368.0" r="3.0"/>
<circle cx="451.7" cy="350.7" r="3.0"/>
<circle cx="443.2" cy="333.0" r="3.0"/>
<circle cx="452.1" cy="355.3" r="3.0"/>
<circle cx="445.3" cy="330.9" r="3.0"/>
<circle cx="449.1" cy="367.6" r="3.0"/>
<circle cx="455.9" cy="377.2" r="3.0"/>
<circle cx="447.6" cy="327.6" r="3.0"/>
<circle cx="448.7" cy="331.9" r="3.0"/>
<circle cx="446.8" cy="337.8" r="3.0"/>
<circle cx="450.8" cy="363.5" r="3.0"/>
<circle cx="449.8" cy="331.8" r="3.0"/>
<circle cx="446.9" cy="331.2" r="3.0"/>
<circle cx="449.6" cy="349.1" r="3.0"/>
<circle cx="445.8" cy="317.1" r="3.0"/>
<circle cx="454.1" cy="337.6" r="3.0"/>
<circle cx="449.0" cy="320.1" r="3.0"/>
<circle cx="446.4" cy="326.3" r="3.0"/>
<circle cx="449.5" cy="335.5" r="3.0"/>
<circle cx="456.9" cy="359.3" r="3.0"/>
<circle cx="451.6" cy="329.3" r="3.0"/>
<circle cx="454.6" cy="361.9" r="3.0"/>
<circle cx="450.0" cy="326.8" r="3.0"/>
<circle cx="450.4" cy="339.9" r="3.0"/>
<circle cx="450.9" cy="336.6" r="3.0"/>
<circle cx="455.7" cy="364.3" r="3.0"/>
<circle cx="452.1" cy="337.9" r="3.0"/>
<circle cx="451.8" cy="371.0" r="3.0"/>
<circle cx="451.0" cy="371.4" r="3.0"/>
<circle cx="452.9" cy="352.9" r="3.0"/>
<circle cx="454.5" cy="371.7" r="3.0"/>
<circle cx="446.0" cy="332.4" r="3.0"/>
<circle cx="447.9" cy="317.0" r="3.0"/>
<circle cx="446.9" cy="337.3" r="3.0"/>
<circle cx="449.0" cy="352.6" r="3.0"/>
<circle cx="447.1" cy="333.3" r="3.0"/>
<circle cx="457.3" cy="375.1" r="3.0"/>
<circle cx="444.5" cy="338.8" r="3.0"/>
<circle cx="450.7" cy="347.5" r="3.0"/>
<circle cx="452.3" cy="349.0" r="3.0"/>
<circle cx="451.5" cy="335.6" r="3.0"/>
<circle cx="452.7" cy="358.7" r="3.0"/>
<circle cx="447.1" cy="333.9" r="3.0"/>
<circle cx="448.6" cy="355.9" r="3.0"/>
<circle cx="447.0" cy="338.8" r="3.0"/>
<circle cx="447.0" cy="314.1" r="3.0"/>
<circle cx="449.7" cy="341.5" r="3.0"/>
<circle cx="448.2" cy="359.5" r="3.0"/>
<circle cx="450.3" cy="340.7" r="3.0"/>
<circle cx="449.1" cy="358.6" r="3.0"/>
<circle cx="452.3" cy="356.3" r="3.0"/>
<circle cx="456.2" cy="369.1" r="3.0"/>
<circle cx="457.4" cy="353.0" r="3.0"/>
<circle cx="448.4" cy="342.0" r="3.0"/>
<circle cx="445.9" cy="335.2" r="3.0"/>
<circle cx="444.0" cy="341.4" r="3.0"/>
<circle cx="450.7" cy="340.3" r="3.0"/>
<circle cx="451.6" cy="361.8" r="3.0"/>
<circle cx="452.2" cy="369.8" r="3.0"/>
<circle cx="443.7" cy="339.3" r="3.0"/>
<circle cx="445.3" cy="326.8" r="3.0"/>
<circle cx="455.0" cy="371.2" r="3.0"/>
<circle cx="447.9" cy="320.4" r="3.0"/>
<circle cx="450.4" cy="351.4" r="3.0"/>
<circle cx="448.8" cy="342.4" r="3.0"/>
<circle cx="443.1" cy="331.4" r="3.0"/>
<circle cx="453.2" cy="340.2" r="3.0"/>
<circle cx="453.1" cy="370.0" r="3.0"/>
<circle cx="447.0" cy="327.4" r="3.0"/>
<circle cx="453.1" cy="359.5" r="3.0"/>
<circle cx="449.1" cy="330.6" r="3.0"/>
<circle cx="450.6" cy="338.0" r="3.0"/>
<circle cx="444.3" cy="334.0" r="3.0"/>
<circle cx="452.1" cy="343.1" r="3.0"/>
<circle cx="446.3" cy="320.4" r="3.0"/>
<circle cx="451.2" cy="359.1" r="3.0"/>
<circle cx="453.5" cy="329.3" r="3.0"/>
<circle cx="454.7" cy="358.2" r="3.0"/>
<circle cx="451.3" cy="323.6" r="3.0"/>
<circle cx="444.0" cy="309.7" r="3.0"/>
<circle cx="455.3" cy="356.4" r="3.0"/>
<circle cx="445.3" cy="323.9" r="3.0"/>
<circle cx="444.6" cy="345.8" r="3.0"/>
<circle cx="453.0" cy="354.4" r="3.0"/>
<circle cx="450.0" cy="333.3" r="3.0"/>
<circle cx="452.7" cy="357.1" r="3.0"/>
<circle cx="455.4" cy="352.1" r="3.0"/>
<circle cx="448.8" cy="332.7" r="3.0"/>
<circle cx="451.1" cy="331.9" r="3.0"/>
<circle cx="449.9" cy="334.1" r="3.0"/>
<circle cx="450.2" cy="344.7" r="3.0"/>
<circle cx="454.3" cy="375.3" r="3.0"/>
<circle cx="455.4" cy="369.5" r="3.0"/>
<circle cx="453.0" cy="367.6" r="3.0"/>
<circle cx="454.2" cy="360.0" r="3.0"/>
<circle cx="448.7" cy="330.1" r="3.0"/>
<circle cx="449.2" cy="339.5" r="3.0"/>
<circle cx="451.6" cy="367.2" r="3.0"/>
<circle cx="441.6" cy="309.5" r="3.0"/>
<circle cx="446.6" cy="333.3" r="3.0"/>
<circle cx="451.4" cy="342.3" r="3.0"/>
<circle cx="455.1" cy="376.0" r="3.0"/>
<circle cx="448.9" cy="350.9" r="3.0"/>
<circle cx="455.0" cy="353.2" r="3.0"/>
<circle cx="449.0" cy="367.9" r="3.0"/>
<circle cx="456.3" cy="359.2" r="3.0"/>
<circle cx="448.0" cy="357.9" r="3.0"/>
<circle cx="450.5" cy="336.1" r="3.0"/>
<circle cx="448.5" cy="350.0" r="3.0"/>
<circle cx="449.7" cy="324.8" r="3.0"/>
<circle cx="449.3" cy="316.3" r="3.0"/>
<circle cx="450.6" cy="342.4" r="3.0"/>
<circle cx="444.6" cy="316.3" r="3.0"/>
<circle cx="447.6" cy="355.3" r="3.0"/>
<circle cx="453.3" cy="381.9" r="3.0"/>
<circle cx="446.4" cy="318.5" r="3.0"/>
<circle cx="453.1" cy="351.3" r="3.0"/>
<circle cx="448.1" cy="334.9" r="3.0"/>
<circle cx="447.4" cy="337.5" r="3.0"/>
<circle cx="453.0" cy="360.5" r="3.0"/>
<circle cx="448.3" cy="345.0" r="3.0"/>
<circle cx="450.3" cy="346.8" r="3.0"/>
<circle cx="452.6" cy="340.5" r="3.0"/>
<circle cx="445.4" cy="308.9" r="3.0"/>
<circle cx="445.9" cy="321.5" r="3.0"/>
<circle cx="451.5" cy="370.8" r="3.0"/>
<circle cx="447.7" cy="340.1" r="3.0"/>
<circle cx="449.8" cy="360.2" r="3.0"/>
<circle cx="446.0" cy="309.7" r="3.0"/>
<circle cx="447.8" cy="335.2" r="3.0"/>
<circle cx="450.5" cy="362.8" r="3.0"/>
<circle cx="449.1" cy="334.8" r="3.0"/>
<circle cx="449.4" cy="349.9" r="3.0"/>
<circle cx="458.1" cy="361.9" r="3.0"/>
<circle cx="453.8" cy="334.2" r="3.0"/>
<circle cx="452.8" cy="369.0" r="3.0"/>
<circle cx="449.1" cy="344.6" r="3.0"/>
<circle cx="444.4" cy="329.8" r="3.0"/>
<circle cx="452.3" cy="334.4" r="3.0"/>
<circle cx="452.0" cy="363.9" r="3.0"/>
<circle cx="446.3" cy="331.9" r="3.0"/>
<circle cx="450.7" cy="319.0" r="3.0"/>
<circle cx="451.8" cy="354.7" r="3.0"/>
<circle cx="445.5" cy="332.6" r="3.0"/>
<circle cx="455.1" cy="367.3" r="3.0"/>
<circle cx="449.6" cy="323.7" r="3.0"/>
<circle cx="448.2" cy="320.7" r="3.0"/>
<circle cx="446.0" cy="323.5" r="3.0"/>
<circle cx="452.2" cy="351.5" r="3.0"/>
<circle cx="450.4" cy="361.4" r="3.0"/>
<circle cx="456.8" cy="372.3" r="3.0"/>
<circle cx="451.0" cy="341.8" r="3.0"/>
<circle cx="447.1" cy="327.1" r="3.0"/>
<circle cx="446.2" cy="316.6" r="3.0"/>
<circle cx="454.1" cy="345.8" r="3.0"/>
<circle cx="454.4" cy="360.2" r="3.0"/>
<circle cx="448.0" cy="335.1" r="3.0"/>
<circle cx="449.4" cy="335.5" r="3.0"/>
<circle cx="447.6" cy="356.8" r="3.0"/>
<circle cx="448.3" cy="332.1" r="3.0"/>
<circle cx="452.9" cy="332.1" r="3.0"/>
<circle cx="453.9" cy="340.1" r="3.0"/>
<circle cx="451.7" cy="364.5" r="3.0"/>
<circle cx="454.4" cy="349.7" r="3.0"/>
<circle cx="449.0" cy="335.6" r="3.0"/>
<circle cx="448.3" cy="331.3" r="3.0"/>
<circle cx="448.9" cy="335.2" r="3.0"/>
<circle cx="455.9" cy="361.2" r="3.0"/>
<circle cx="450.6" cy="344.6" r="3.0"/>
<circle cx="451.3" cy="358.4" r="3.0"/>
<circle cx="449.5" cy="321.7" r="3.0"/>
<circle cx="449.5" cy="324.1" r="3.0"/>
<circle cx="451.7" cy="323.5" r="3.0"/>
<circle cx="448.9" cy="322.0" r="3.0"/>
<circle cx="451.8" cy="370.8" r="3.0"/>
<circle cx="452.0" cy="370.5" r="3.0"/>
<circle cx="446.2" cy="308.1" r="3.0"/>
<circle cx="451.1" cy="355.5" r="3.0"/>
<circle cx="448.6" cy="340.9" r="3.0"/>
<circle cx="447.8" cy="334.7" r="3.0"/>
<circle cx="443.7" cy="307.6" r="3.0"/>
<circle cx="457.4" cy="376.6" r="3.0"/>
<circle cx="446.7" cy="335.1" r="3.0"/>
<circle cx="453.8" cy="349.6" r="3.0"/>
<circle cx="448.5" cy="355.9" r="3.0"/>
<circle cx="450.5" cy="345.1" r="3.0"/>
<circle cx="456.2" cy="369.6" r="3.0"/>
<circle cx="454.5" cy="352.1" r="3.0"/>
<circle cx="452.9" cy="334.4" r="3.0"/>
<circle cx="449.6" cy="333.8" r="3.0"/>
<circle cx="449.9" cy="359.6" r="3.0"/>
<circle cx="443.0" cy="328.5" r="3.0"/>
<circle cx="450.0" cy="345.2" r="3.0"/>
<circle cx="434.0" cy="322.0" r="3.0"/>
<circle cx="438.5" cy="316.0" r="3.0"/>
<circle cx="440.0" cy="340.0" r="3.0"/>
<circle cx="441.5" cy="352.0" r="3.0"/>
<circle cx="443.0" cy="361.0" r="3.0"/>
<circle cx="444.0" cy="372.0" r="3.0"/>
<circle cx="445.5" cy="381.0" r="3.0"/>
<circle cx="451.0" cy="390.5" r="3.0"/>
<circle cx="455.5" cy="391.0" r="3.0"/>
<circle cx="459.0" cy="391.0" r="3.0"/>
<circle cx="447.0" cy="385.0" r="3.0"/>
<circle cx="452.0" cy="378.0" r="3.0"/>
</g>
<g fill="#e8c420" fill-opacity="0.8">
<circle cx="497.6" cy="294.8" r="3.0"/>
<circle cx="496.5" cy="298.9" r="3.0"/>
<circle cx="498.7" cy="295.6" r="3.0"/>
<circle cx="497.4" cy="322.8" r="3.0"/>
<circle cx="493.2" cy="286.6" r="3.0"/>
<circle cx="498.4" cy="300.4" r="3.0"/>
<circle cx="498.4" cy="287.6" r="3.0"/>
<circle cx="497.5" cy="285.4" r="3.0"/>
<circle cx="498.3" cy="304.9" r="3.0"/>
<circle cx="498.4" cy="328.2" r="3.0"/>
<circle cx="497.7" cy="297.0" r="3.0"/>
<circle cx="493.1" cy="310.8" r="3.0"/>
<circle cx="494.0" cy="302.9" r="3.0"/>
<circle cx="501.5" cy="307.7" r="3.0"/>
<circle cx="495.9" cy="299.9" r="3.0"/>
<circle cx="496.5" cy="301.7" r="3.0"/>
<circle cx="499.0" cy="309.6" r="3.0"/>
<circle cx="495.1" cy="301.4" r="3.0"/>
<circle cx="494.8" cy="289.4" r="3.0"/>
<circle cx="497.4" cy="315.5" r="3.0"/>
<circle cx="497.9" cy="317.3" r="3.0"/>
<circle cx="496.6" cy="293.0" r="3.0"/>
<circle cx="490.5" cy="299.0" r="3.0"/>
<circle cx="499.5" cy="290.3" r="3.0"/>
<circle cx="491.9" cy="281.8" r="3.0"/>
<circle cx="493.3" cy="284.5" r="3.0"/>
<circle cx="499.0" cy="307.8" r="3.0"/>
<circle cx="496.5" cy="318.8" r="3.0"/>
<circle cx="501.1" cy="291.3" r="3.0"/>
<circle cx="491.9" cy="298.1" r="3.0"/>
<circle cx="493.1" cy="290.6" r="3.0"/>
<circle cx="494.0" cy="285.6" r="3.0"/>
<circle cx="498.4" cy="311.0" r="3.0"/>
<circle cx="494.6" cy="280.6" r="3.0"/>
<circle cx="495.4" cy="285.9" r="3.0"/>
<circle cx="498.9" cy="299.6" r="3.0"/>
<circle cx="497.4" cy="294.8" r="3.0"/>
<circle cx="498.9" cy="327.5" r="3.0"/>
<circle cx="495.9" cy="284.7" r="3.0"/>
<circle cx="494.1" cy="288.4" r="3.0"/>
<circle cx="497.6" cy="301.7" r="3.0"/>
<circle cx="498.8" cy="295.4" r="3.0"/>
<circle cx="491.5" cy="296.6" r="3.0"/>
<circle cx="496.2" cy="311.0" r="3.0"/>
<circle cx="495.9" cy="315.5" r="3.0"/>
<circle cx="498.0" cy="306.9" r="3.0"/>
<circle cx="491.6" cy="279.1" r="3.0"/>
<circle cx="493.0" cy="318.1" r="3.0"/>
<circle cx="500.7" cy="311.5" r="3.0"/>
<circle cx="499.1" cy="305.9" r="3.0"/>
<circle cx="495.6" cy="292.5" r="3.0"/>
<circle cx="498.0" cy="302.2" r="3.0"/>
<circle cx="496.4" cy="308.7" r="3.0"/>
<circle cx="493.6" cy="289.8" r="3.0"/>
<circle cx="491.1" cy="304.7" r="3.0"/>
<circle cx="493.6" cy="282.4" r="3.0"/>
<circle cx="494.7" cy="291.8" r="3.0"/>
<circle cx="495.0" cy="294.6" r="3.0"/>
<circle cx="490.9" cy="309.6" r="3.0"/>
<circle cx="497.5" cy="295.1" r="3.0"/>
<circle cx="500.8" cy="305.8" r="3.0"/>
<circle cx="494.4" cy="313.4" r="3.0"/>
<circle cx="495.9" cy="307.8" r="3.0"/>
<circle cx="500.2" cy="288.4" r="3.0"/>
<circle cx="492.7" cy="290.7" r="3.0"/>
<circle cx="492.9" cy="293.7" r="3.0"/>
<circle cx="498.6" cy="312.7" r="3.0"/>
<circle cx="499.0" cy="318.0" r="3.0"/>
<circle cx="499.0" cy="290.9" r="3.0"/>
<circle cx="493.9" cy="290.4" r="3.0"/>
<circle cx="496.2" cy="296.9" r="3.0"/>
<circle cx="496.0" cy="315.3" r="3.0"/>
<circle cx="496.6" cy="303.9" r="3.0"/>
<circle cx="491.6" cy="282.3" r="3.0"/>
<circle cx="497.4" cy="296.2" r="3.0"/>
<circle cx="498.3" cy="303.5" r="3.0"/>
<circle cx="494.8" cy="299.9" r="3.0"/>
<circle cx="493.4" cy="304.9" r="3.0"/>
<circle cx="493.7" cy="281.1" r="3.0"/>
<circle cx="493.2" cy="279.9" r="3.0"/>
<circle cx="493.6" cy="289.1" r="3.0"/>
<circle cx="493.4" cy="298.6" r="3.0"/>
<circle cx="489.9" cy="293.5" r="3.0"/>
<circle cx="493.4" cy="301.2" r="3.0"/>
<circle cx="496.7" cy="304.7" r="3.0"/>
<circle cx="496.1" cy="288.4" r="3.0"/>
<circle cx="496.1" cy="294.3" r="3.0"/>
<circle cx="491.2" cy="300.6" r="3.0"/>
<circle cx="497.0" cy="302.3" r="3.0"/>
<circle cx="497.4" cy="286.1" r="3.0"/>
<circle cx="496.3" cy="298.5" r="3.0"/>
<circle cx="497.6" cy="293.1" r="3.0"/>
<circle cx="500.3" cy="300.5" r="3.0"/>
<circle cx="494.7" cy="305.3" r="3.0"/>
<circle cx="499.2" cy="296.2" r="3.0"/>
<circle cx="497.1" cy="294.3" r="3.0"/>
<circle cx="496.3" cy="306.3" r="3.0"/>
<circle cx="497.2" cy="301.0" r="3.0"/>
<circle cx="493.8" cy="301.0" r="3.0"/>
<circle cx="497.3" cy="315.6" r="3.0"/>
<circle cx="493.1" cy="290.8" r="3.0"/>
<circle cx="493.0" cy="304.1" r="3.0"/>
<circle cx="501.2" cy="285.7" r="3.0"/>
<circle cx="500.7" cy="316.9" r="3.0"/>
<circle cx="499.5" cy="317.7" r="3.0"/>
<circle cx="497.0" cy="276.4" r="3.0"/>
<circle cx="499.1" cy="316.0" r="3.0"/>
<circle cx="501.6" cy="316.0" r="3.0"/>
<circle cx="496.1" cy="292.5" r="3.0"/>
<circle cx="496.9" cy="309.7" r="3.0"/>
<circle cx="497.8" cy="314.1" r="3.0"/>
<circle cx="497.4" cy="308.6" r="3.0"/>
<circle cx="491.9" cy="279.1" r="3.0"/>
<circle cx="501.1" cy="303.0" r="3.0"/>
<circle cx="502.6" cy="314.6" r="3.0"/>
<circle cx="494.9" cy="306.7" r="3.0"/>
<circle cx="489.6" cy="299.5" r="3.0"/>
<circle cx="499.2" cy="296.6" r="3.0"/>
<circle cx="499.3" cy="301.9" r="3.0"/>
<circle cx="495.3" cy="317.2" r="3.0"/>
<circle cx="489.2" cy="290.3" r="3.0"/>
<circle cx="496.6" cy="285.4" r="3.0"/>
<circle cx="496.7" cy="327.3" r="3.0"/>
<circle cx="499.1" cy="317.9" r="3.0"/>
<circle cx="503.1" cy="292.5" r="3.0"/>
<circle cx="496.9" cy="298.3" r="3.0"/>
<circle cx="502.0" cy="328.2" r="3.0"/>
<circle cx="499.2" cy="330.0" r="3.0"/>
<circle cx="501.6" cy="312.5" r="3.0"/>
<circle cx="498.1" cy="306.2" r="3.0"/>
<circle cx="494.6" cy="296.7" r="3.0"/>
<circle cx="500.4" cy="282.5" r="3.0"/>
<circle cx="488.6" cy="293.1" r="3.0"/>
<circle cx="496.5" cy="302.8" r="3.0"/>
<circle cx="502.8" cy="301.6" r="3.0"/>
<circle cx="495.2" cy="297.8" r="3.0"/>
<circle cx="495.3" cy="289.0" r="3.0"/>
<circle cx="496.4" cy="293.2" r="3.0"/>
<circle cx="493.8" cy="304.6" r="3.0"/>
<circle cx="500.3" cy="325.5" r="3.0"/>
<circle cx="499.5" cy="310.3" r="3.0"/>
<circle cx="499.4" cy="310.4" r="3.0"/>
<circle cx="500.6" cy="318.4" r="3.0"/>
<circle cx="496.5" cy="317.6" r="3.0"/>
<circle cx="493.7" cy="299.2" r="3.0"/>
<circle cx="500.0" cy="312.2" r="3.0"/>
<circle cx="497.7" cy="292.9" r="3.0"/>
<circle cx="494.6" cy="316.1" r="3.0"/>
<circle cx="498.4" cy="297.9" r="3.0"/>
<circle cx="497.6" cy="298.7" r="3.0"/>
<circle cx="498.6" cy="315.3" r="3.0"/>
<circle cx="497.1" cy="284.2" r="3.0"/>
<circle cx="496.5" cy="297.9" r="3.0"/>
<circle cx="490.9" cy="291.5" r="3.0"/>
<circle cx="493.7" cy="282.2" r="3.0"/>
<circle cx="494.9" cy="284.6" r="3.0"/>
<circle cx="494.3" cy="314.9" r="3.0"/>
<circle cx="497.1" cy="289.3" r="3.0"/>
<circle cx="495.8" cy="317.5" r="3.0"/>
<circle cx="495.5" cy="308.2" r="3.0"/>
<circle cx="497.0" cy="303.4" r="3.0"/>
<circle cx="489.8" cy="299.2" r="3.0"/>
<circle cx="494.4" cy="279.2" r="3.0"/>
<circle cx="496.5" cy="318.4" r="3.0"/>
<circle cx="497.4" cy="306.5" r="3.0"/>
<circle cx="500.2" cy="305.8" r="3.0"/>
<circle cx="495.1" cy="278.8" r="3.0"/>
<circle cx="494.9" cy="296.8" r="3.0"/>
<circle cx="492.7" cy="287.6" r="3.0"/>
<circle cx="491.6" cy="285.2" r="3.0"/>
<circle cx="498.3" cy="322.4" r="3.0"/>
<circle cx="494.0" cy="309.3" r="3.0"/>
<circle cx="494.3" cy="274.3" r="3.0"/>
<circle cx="497.9" cy="318.8" r="3.0"/>
<circle cx="494.3" cy="285.5" r="3.0"/>
<circle cx="490.7" cy="285.6" r="3.0"/>
<circle cx="494.6" cy="296.0" r="3.0"/>
<circle cx="492.4" cy="288.1" r="3.0"/>
<circle cx="495.9" cy="286.5" r="3.0"/>
<circle cx="497.4" cy="318.2" r="3.0"/>
<circle cx="496.4" cy="329.7" r="3.0"/>
<circle cx="492.6" cy="302.9" r="3.0"/>
<circle cx="496.4" cy="297.0" r="3.0"/>
<circle cx="500.7" cy="306.8" r="3.0"/>
<circle cx="491.4" cy="291.6" r="3.0"/>
<circle cx="497.0" cy="296.6" r="3.0"/>
<circle cx="498.4" cy="289.7" r="3.0"/>
<circle cx="495.0" cy="322.2" r="3.0"/>
<circle cx="500.2" cy="304.1" r="3.0"/>
<circle cx="495.7" cy="302.0" r="3.0"/>
<circle cx="498.0" cy="279.8" r="3.0"/>
<circle cx="494.8" cy="302.2" r="3.0"/>
<circle cx="499.0" cy="305.3" r="3.0"/>
<circle cx="499.1" cy="309.7" r="3.0"/>
<circle cx="492.7" cy="304.8" r="3.0"/>
<circle cx="496.2" cy="293.5" r="3.0"/>
<circle cx="498.2" cy="328.3" r="3.0"/>
<circle cx="489.4" cy="284.8" r="3.0"/>
<circle cx="496.7" cy="302.6" r="3.0"/>
<circle cx="494.1" cy="291.2" r="3.0"/>
<circle cx="492.8" cy="287.1" r="3.0"/>
<circle cx="493.9" cy="297.9" r="3.0"/>
<circle cx="496.6" cy="308.5" r="3.0"/>
<circle cx="497.8" cy="301.0" r="3.0"/>
<circle cx="499.5" cy="316.5" r="3.0"/>
<circle cx="496.0" cy="302.3" r="3.0"/>
<circle cx="494.2" cy="288.2" r="3.0"/>
<circle cx="497.8" cy="308.5" r="3.0"/>
<circle cx="491.2" cy="293.9" r="3.0"/>
<circle cx="495.2" cy="278.3" r="3.0"/>
<circle cx="498.6" cy="313.2" r="3.0"/>
<circle cx="494.0" cy="280.5" r="3.0"/>
<circle cx="493.3" cy="302.2" r="3.0"/>
<circle cx="496.0" cy="303.9" r="3.0"/>
<circle cx="491.2" cy="287.8" r="3.0"/>
<circle cx="498.4" cy="310.3" r="3.0"/>
<circle cx="491.9" cy="287.1" r="3.0"/>
<circle cx="499.2" cy="311.3" r="3.0"/>
<circle cx="501.4" cy="295.0" r="3.0"/>
<circle cx="492.2" cy="295.2" r="3.0"/>
<circle cx="486.0" cy="299.0" r="3.0"/>
<circle cx="488.0" cy="292.0" r="3.0"/>
<circle cx="490.0" cy="283.0" r="3.0"/>
<circle cx="492.5" cy="327.0" r="3.0"/>
<circle cx="496.0" cy="333.0" r="3.0"/>
<circle cx="500.5" cy="333.5" r="3.0"/>
<circle cx="503.0" cy="328.0" r="3.0"/>
<circle cx="493.0" cy="271.0" r="3.0"/>
</g>
<g fill="#5c2319" fill-opacity="0.8">
<circle cx="512.7" cy="358.4" r="3.0"/>
<circle cx="510.7" cy="360.3" r="3.0"/>
<circle cx="507.2" cy="350.2" r="3.0"/>
<circle cx="509.3" cy="371.6" r="3.0"/>
<circle cx="507.2" cy="371.2" r="3.0"/>
<circle cx="510.4" cy="350.8" r="3.0"/>
<circle cx="510.5" cy="364.7" r="3.0"/>
<circle cx="507.4" cy="342.4" r="3.0"/>
<circle cx="510.7" cy="350.8" r="3.0"/>
<circle cx="511.0" cy="344.2" r="3.0"/>
<circle cx="509.4" cy="353.3" r="3.0"/>
<circle cx="505.9" cy="358.0" r="3.0"/>
<circle cx="510.3" cy="355.4" r="3.0"/>
<circle cx="506.7" cy="361.8" r="3.0"/>
<circle cx="505.2" cy="364.4" r="3.0"/>
<circle cx="511.1" cy="373.9" r="3.0"/>
<circle cx="512.1" cy="362.9" r="3.0"/>
<circle cx="510.5" cy="360.2" r="3.0"/>
<circle cx="506.3" cy="372.1" r="3.0"/>
<circle cx="511.2" cy="357.6" r="3.0"/>
<circle cx="506.8" cy="372.3" r="3.0"/>
<circle cx="511.2" cy="350.2" r="3.0"/>
<circle cx="511.6" cy="375.7" r="3.0"/>
<circle cx="509.7" cy="363.3" r="3.0"/>
<circle cx="508.7" cy="354.8" r="3.0"/>
<circle cx="510.1" cy="359.0" r="3.0"/>
<circle cx="511.9" cy="357.5" r="3.0"/>
<circle cx="511.7" cy="366.8" r="3.0"/>
<circle cx="507.1" cy="351.1" r="3.0"/>
<circle cx="509.6" cy="366.9" r="3.0"/>
<circle cx="510.5" cy="370.2" r="3.0"/>
<circle cx="506.2" cy="364.1" r="3.0"/>
<circle cx="508.2" cy="360.8" r="3.0"/>
<circle cx="510.6" cy="352.0" r="3.0"/>
<circle cx="509.2" cy="350.4" r="3.0"/>
<circle cx="510.5" cy="353.0" r="3.0"/>
<circle cx="508.5" cy="361.8" r="3.0"/>
<circle cx="508.1" cy="369.5" r="3.0"/>
<circle cx="508.1" cy="367.0" r="3.0"/>
<circle cx="510.5" cy="351.5" r="3.0"/>
<circle cx="509.2" cy="353.1" r="3.0"/>
<circle cx="508.9" cy="357.8" r="3.0"/>
<circle cx="514.6" cy="356.5" r="3.0"/>
<circle cx="513.9" cy="363.7" r="3.0"/>
<circle cx="506.4" cy="340.9" r="3.0"/>
<circle cx="511.6" cy="343.6" r="3.0"/>
<circle cx="511.7" cy="368.5" r="3.0"/>
<circle cx="510.8" cy="358.3" r="3.0"/>
<circle cx="509.1" cy="362.1" r="3.0"/>
<circle cx="509.0" cy="355.6" r="3.0"/>
<circle cx="508.8" cy="369.6" r="3.0"/>
<circle cx="508.2" cy="363.1" r="3.0"/>
<circle cx="506.8" cy="354.1" r="3.0"/>
<circle cx="506.2" cy="358.4" r="3.0"/>
<circle cx="511.6" cy="362.5" r="3.0"/>
<circle cx="508.5" cy="365.0" r="3.0"/>
<circle cx="508.9" cy="363.1" r="3.0"/>
<circle cx="510.5" cy="364.5" r="3.0"/>
<circle cx="503.3" cy="349.3" r="3.0"/>
<circle cx="511.8" cy="359.1" r="3.0"/>
<circle cx="515.7" cy="358.1" r="3.0"/>
<circle cx="508.4" cy="372.3" r="3.0"/>
<circle cx="511.3" cy="375.6" r="3.0"/>
<circle cx="511.1" cy="358.3" r="3.0"/>
<circle cx="511.7" cy="353.5" r="3.0"/>
<circle cx="508.6" cy="355.4" r="3.0"/>
<circle cx="509.2" cy="366.4" r="3.0"/>
<circle cx="508.5" cy="362.6" r="3.0"/>
<circle cx="508.5" cy="367.3" r="3.0"/>
<circle cx="510.2" cy="351.1" r="3.0"/>
<circle cx="512.4" cy="361.8" r="3.0"/>
<circle cx="513.1" cy="367.9" r="3.0"/>
<circle cx="511.5" cy="358.8" r="3.0"/>
<circle cx="507.0" cy="358.2" r="3.0"/>
<circle cx="508.6" cy="362.1" r="3.0"/>
<circle cx="505.6" cy="369.6" r="3.0"/>
<circle cx="508.6" cy="358.0" r="3.0"/>
<circle cx="512.2" cy="360.0" r="3.0"/>
<circle cx="506.6" cy="363.4" r="3.0"/>
<circle cx="509.3" cy="343.1" r="3.0"/>
<circle cx="510.3" cy="351.3" r="3.0"/>
<circle cx="507.9" cy="364.0" r="3.0"/>
<circle cx="510.6" cy="357.6" r="3.0"/>
<circle cx="515.5" cy="363.4" r="3.0"/>
<circle cx="508.2" cy="361.9" r="3.0"/>
<circle cx="509.5" cy="341.9" r="3.0"/>
<circle cx="505.7" cy="348.6" r="3.0"/>
<circle cx="515.2" cy="358.5" r="3.0"/>
<circle cx="509.1" cy="355.4" r="3.0"/>
<circle cx="512.4" cy="360.2" r="3.0"/>
<circle cx="514.2" cy="366.5" r="3.0"/>
<circle cx="514.1" cy="359.0" r="3.0"/>
<circle cx="510.8" cy="356.4" r="3.0"/>
<circle cx="509.4" cy="345.8" r="3.0"/>
<circle cx="508.3" cy="352.2" r="3.0"/>
<circle cx="506.6" cy="377.2" r="3.0"/>
<circle cx="508.6" cy="378.6" r="3.0"/>
<circle cx="509.8" cy="379.8" r="3.0"/>
<circle cx="510.1" cy="379.8" r="3.0"/>
<circle cx="509.7" cy="381.5" r="3.0"/>
<circle cx="506.9" cy="384.4" r="3.0"/>
<circle cx="512.6" cy="383.8" r="3.0"/>
<circle cx="511.7" cy="387.0" r="3.0"/>
<circle cx="506.2" cy="387.9" r="3.0"/>
<circle cx="508.8" cy="389.4" r="3.0"/>
<circle cx="507.2" cy="389.3" r="3.0"/>
<circle cx="508.1" cy="392.8" r="3.0"/>
<circle cx="509.7" cy="394.0" r="3.0"/>
<circle cx="510.3" cy="393.9" r="3.0"/>
<circle cx="507.9" cy="396.6" r="3.0"/>
<circle cx="510.1" cy="397.9" r="3.0"/>
<circle cx="509.1" cy="399.3" r="3.0"/>
<circle cx="512.4" cy="398.5" r="3.0"/>
<circle cx="507.9" cy="404.5" r="3.0"/>
<circle cx="508.5" cy="401.8" r="3.0"/>
<circle cx="508.3" cy="403.6" r="3.0"/>
<circle cx="506.6" cy="406.7" r="3.0"/>
<circle cx="511.6" cy="408.3" r="3.0"/>
<circle cx="509.4" cy="410.3" r="3.0"/>
<circle cx="508.4" cy="410.0" r="3.0"/>
<circle cx="507.8" cy="412.6" r="3.0"/>
<circle cx="505.0" cy="332.5" r="3.0"/>
<circle cx="503.0" cy="344.0" r="3.0"/>
<circle cx="512.0" cy="345.0" r="3.0"/>
<circle cx="504.0" cy="375.0" r="3.0"/>
<circle cx="505.0" cy="392.0" r="3.0"/>
<circle cx="506.5" cy="405.0" r="3.0"/>
<circle cx="503.0" cy="416.0" r="3.0"/>
<circle cx="507.0" cy="424.0" r="3.0"/>
<circle cx="501.5" cy="443.5" r="3.0"/>
<circle cx="504.5" cy="398.0" r="3.0"/>
<circle cx="510.0" cy="388.0" r="3.0"/>
</g>
<line x1="102.5" y1="100.5" x2="102.5" y2="460.3" stroke="#000" stroke-width="1.5" />
<line x1="101.8" y1="459.6" x2="534.8" y2="459.6" stroke="#000" stroke-width="1.5" />
<line x1="98.5" y1="108.3" x2="102.5" y2="108.3" stroke="#000" stroke-width="1.3" />
<text transform="translate(69.6 112.0) scale(1.04 1)" font-size="18.5" text-anchor="middle" >150</text>
<line x1="98.5" y1="176.4" x2="102.5" y2="176.4" stroke="#000" stroke-width="1.3" />
<text transform="translate(69.6 180.1) scale(1.04 1)" font-size="18.5" text-anchor="middle" >100</text>
<line x1="98.5" y1="244.4" x2="102.5" y2="244.4" stroke="#000" stroke-width="1.3" />
<text transform="translate(69.6 248.1) scale(1.04 1)" font-size="18.5" text-anchor="middle" >50</text>
<line x1="98.5" y1="312.4" x2="102.5" y2="312.4" stroke="#000" stroke-width="1.3" />
<text transform="translate(69.6 316.1) scale(1.04 1)" font-size="18.5" text-anchor="middle" >0</text>
<line x1="98.5" y1="380.4" x2="102.5" y2="380.4" stroke="#000" stroke-width="1.3" />
<text transform="translate(69.6 384.1) scale(1.04 1)" font-size="18.5" text-anchor="middle" >−50</text>
<line x1="98.5" y1="448.2" x2="102.5" y2="448.2" stroke="#000" stroke-width="1.3" />
<text transform="translate(69.6 451.9) scale(1.04 1)" font-size="18.5" text-anchor="middle" >−100</text>
<line x1="120.7" y1="459.6" x2="120.7" y2="463.6" stroke="#000" stroke-width="1.3" />
<line x1="263.8" y1="459.6" x2="263.8" y2="463.6" stroke="#000" stroke-width="1.3" />
<line x1="407.9" y1="459.6" x2="407.9" y2="463.6" stroke="#000" stroke-width="1.3" />
<text transform="translate(130.2 486.6) scale(1.05 1)" font-size="18.5" text-anchor="middle" >−250</text>
<text transform="translate(265.8 486.6) scale(1.05 1)" font-size="18.5" text-anchor="middle" >0</text>
<text transform="translate(414.6 486.6) scale(1.05 1)" font-size="18.5" text-anchor="middle" >250</text>
<text transform="translate(323.4 498.8) scale(1.05 1)" font-size="18.5" text-anchor="middle" >PC1</text>
<text transform="translate(41,273.9) rotate(-90) scale(1.06 1)" font-size="18.5" text-anchor="middle">PC2</text>
<circle cx="563.7" cy="148.2" r="3.6" fill="#223163" fill-opacity="0.8"/>
<text transform="translate(582.5 152.9) scale(1.01 1)" font-size="19" text-anchor="start" >GSE13213</text>
<circle cx="563.7" cy="171.1" r="3.6" fill="#5a46be" fill-opacity="0.8"/>
<text transform="translate(582.5 175.8) scale(1.01 1)" font-size="19" text-anchor="start" >GSE14814</text>
<circle cx="563.7" cy="194.0" r="3.6" fill="#92e2ca" fill-opacity="0.8"/>
<text transform="translate(582.5 198.7) scale(1.01 1)" font-size="19" text-anchor="start" >GSE26939</text>
<circle cx="563.7" cy="216.9" r="3.6" fill="#a2ea78" fill-opacity="0.8"/>
<text transform="translate(582.5 221.6) scale(1.01 1)" font-size="19" text-anchor="start" >GSE30219</text>
<circle cx="563.7" cy="239.8" r="3.6" fill="#e8c420" fill-opacity="0.8"/>
<text transform="translate(582.5 244.5) scale(1.01 1)" font-size="19" text-anchor="start" >GSE31210</text>
<circle cx="563.7" cy="262.7" r="3.6" fill="#5c2319" fill-opacity="0.8"/>
<text transform="translate(582.5 267.4) scale(1.01 1)" font-size="19" text-anchor="start" >GSE3141</text>
<circle cx="563.7" cy="285.6" r="3.6" fill="#f15b51" fill-opacity="0.8"/>
<text transform="translate(582.5 290.3) scale(1.01 1)" font-size="19" text-anchor="start" >GSE37745</text>
<circle cx="563.7" cy="308.5" r="3.6" fill="#b5160b" fill-opacity="0.8"/>
<text transform="translate(582.5 313.2) scale(1.01 1)" font-size="19" text-anchor="start" >GSE41271</text>
<circle cx="563.7" cy="331.4" r="3.6" fill="#d873cc" fill-opacity="0.8"/>
<text transform="translate(582.5 336.1) scale(1.01 1)" font-size="19" text-anchor="start" >GSE42127</text>
<circle cx="563.7" cy="354.3" r="3.6" fill="#1a1a1a" fill-opacity="0.8"/>
<text transform="translate(582.5 359.0) scale(1.01 1)" font-size="19" text-anchor="start" >GSE50081</text>
<circle cx="563.7" cy="377.2" r="3.6" fill="#5a5c77" fill-opacity="0.8"/>
<text transform="translate(582.5 381.9) scale(1.01 1)" font-size="19" text-anchor="start" >GSE68465</text>
<circle cx="563.7" cy="400.1" r="3.6" fill="#d3d3d3" fill-opacity="0.8"/>
<text transform="translate(582.5 404.8) scale(1.01 1)" font-size="19" text-anchor="start" >TCGA</text>
<g fill-opacity="0.8">
<circle cx="1170.7" cy="283.0" r="3.4" fill="#b5160b"/>
<circle cx="1066.9" cy="270.5" r="3.4" fill="#5a5c77"/>
<circle cx="1060.9" cy="191.4" r="3.4" fill="#b5160b"/>
<circle cx="1116.1" cy="339.7" r="3.4" fill="#b5160b"/>
<circle cx="1025.5" cy="299.2" r="3.4" fill="#b5160b"/>
<circle cx="1019.6" cy="342.0" r="3.4" fill="#5a5c77"/>
<circle cx="1137.7" cy="204.7" r="3.4" fill="#b5160b"/>
<circle cx="1114.6" cy="310.9" r="3.4" fill="#b5160b"/>
<circle cx="923.3" cy="268.5" r="3.4" fill="#b5160b"/>
<circle cx="1085.6" cy="210.7" r="3.4" fill="#5a5c77"/>
<circle cx="924.2" cy="289.4" r="3.4" fill="#b5160b"/>
<circle cx="962.6" cy="209.2" r="3.4" fill="#b5160b"/>
<circle cx="1029.0" cy="226.7" r="3.4" fill="#b5160b"/>
<circle cx="1049.1" cy="295.4" r="3.4" fill="#b5160b"/>
<circle cx="1048.9" cy="243.2" r="3.4" fill="#f15b51"/>
<circle cx="1056.3" cy="203.9" r="3.4" fill="#b5160b"/>
<circle cx="1115.0" cy="298.4" r="3.4" fill="#f15b51"/>
<circle cx="1012.4" cy="277.3" r="3.4" fill="#b5160b"/>
<circle cx="959.7" cy="321.1" r="3.4" fill="#f15b51"/>
<circle cx="886.4" cy="333.0" r="3.4" fill="#5a5c77"/>
<circle cx="1095.6" cy="279.6" r="3.4" fill="#b5160b"/>
<circle cx="1038.4" cy="260.0" r="3.4" fill="#b5160b"/>
<circle cx="1015.9" cy="369.7" r="3.4" fill="#5a5c77"/>
<circle cx="877.8" cy="231.3" r="3.4" fill="#5a5c77"/>
<circle cx="1072.2" cy="260.8" r="3.4" fill="#b5160b"/>
<circle cx="1056.6" cy="386.1" r="3.4" fill="#5a5c77"/>
<circle cx="1154.7" cy="229.6" r="3.4" fill="#5a5c77"/>
<circle cx="1017.4" cy="307.9" r="3.4" fill="#b5160b"/>
<circle cx="1034.7" cy="278.4" r="3.4" fill="#b5160b"/>
<circle cx="1064.9" cy="176.2" r="3.4" fill="#5a5c77"/>
<circle cx="937.6" cy="230.9" r="3.4" fill="#5a5c77"/>
<circle cx="1032.6" cy="336.4" r="3.4" fill="#b5160b"/>
<circle cx="972.7" cy="316.9" r="3.4" fill="#f15b51"/>
<circle cx="1012.3" cy="337.8" r="3.4" fill="#b5160b"/>
<circle cx="991.5" cy="199.4" r="3.4" fill="#b5160b"/>
<circle cx="878.7" cy="246.3" r="3.4" fill="#5a5c77"/>
<circle cx="1084.5" cy="211.7" r="3.4" fill="#b5160b"/>
<circle cx="1128.4" cy="317.4" r="3.4" fill="#b5160b"/>
<circle cx="1031.8" cy="274.7" r="3.4" fill="#b5160b"/>
<circle cx="1026.1" cy="388.8" r="3.4" fill="#5a5c77"/>
<circle cx="1116.2" cy="292.2" r="3.4" fill="#b5160b"/>
<circle cx="1029.0" cy="329.9" r="3.4" fill="#f15b51"/>
<circle cx="1059.0" cy="218.8" r="3.4" fill="#b5160b"/>
<circle cx="942.6" cy="222.9" r="3.4" fill="#b5160b"/>
<circle cx="1187.2" cy="305.2" r="3.4" fill="#5a5c77"/>
<circle cx="1148.9" cy="305.9" r="3.4" fill="#b5160b"/>
<circle cx="1180.8" cy="253.9" r="3.4" fill="#5a5c77"/>
<circle cx="1027.3" cy="246.1" r="3.4" fill="#5a5c77"/>
<circle cx="1099.6" cy="318.4" r="3.4" fill="#b5160b"/>
<circle cx="1057.4" cy="349.3" r="3.4" fill="#b5160b"/>
<circle cx="979.3" cy="309.4" r="3.4" fill="#5a5c77"/>
<circle cx="978.1" cy="222.4" r="3.4" fill="#b5160b"/>
<circle cx="993.1" cy="164.1" r="3.4" fill="#5a5c77"/>
<circle cx="1117.7" cy="232.8" r="3.4" fill="#f15b51"/>
<circle cx="1090.2" cy="234.6" r="3.4" fill="#5a5c77"/>
<circle cx="1125.8" cy="222.2" r="3.4" fill="#5a5c77"/>
<circle cx="1064.6" cy="258.8" r="3.4" fill="#5a5c77"/>
<circle cx="976.6" cy="345.7" r="3.4" fill="#b5160b"/>
<circle cx="1025.5" cy="292.6" r="3.4" fill="#5a5c77"/>
<circle cx="1066.6" cy="248.9" r="3.4" fill="#b5160b"/>
<circle cx="968.5" cy="211.5" r="3.4" fill="#5a5c77"/>
<circle cx="942.1" cy="186.4" r="3.4" fill="#5a5c77"/>
<circle cx="1167.1" cy="260.9" r="3.4" fill="#f15b51"/>
<circle cx="1025.3" cy="221.3" r="3.4" fill="#b5160b"/>
<circle cx="1006.3" cy="293.5" r="3.4" fill="#b5160b"/>
<circle cx="940.1" cy="258.3" r="3.4" fill="#b5160b"/>
<circle cx="939.5" cy="168.5" r="3.4" fill="#b5160b"/>
<circle cx="939.0" cy="297.0" r="3.4" fill="#5a5c77"/>
<circle cx="937.8" cy="278.1" r="3.4" fill="#5a5c77"/>
<circle cx="948.8" cy="340.4" r="3.4" fill="#b5160b"/>
<circle cx="1084.8" cy="246.9" r="3.4" fill="#5a5c77"/>
<circle cx="1000.8" cy="288.5" r="3.4" fill="#f15b51"/>
<circle cx="1063.8" cy="246.0" r="3.4" fill="#f15b51"/>
<circle cx="937.1" cy="237.1" r="3.4" fill="#f15b51"/>
<circle cx="906.8" cy="257.3" r="3.4" fill="#5a5c77"/>
<circle cx="1084.2" cy="272.1" r="3.4" fill="#d873cc"/>
<circle cx="971.3" cy="340.0" r="3.4" fill="#5a5c77"/>
<circle cx="899.8" cy="268.2" r="3.4" fill="#b5160b"/>
<circle cx="1009.4" cy="224.8" r="3.4" fill="#b5160b"/>
<circle cx="1009.9" cy="268.3" r="3.4" fill="#5a5c77"/>
<circle cx="921.4" cy="360.8" r="3.4" fill="#5a5c77"/>
<circle cx="1084.0" cy="173.8" r="3.4" fill="#b5160b"/>
<circle cx="1032.9" cy="310.9" r="3.4" fill="#b5160b"/>
<circle cx="929.7" cy="190.4" r="3.4" fill="#b5160b"/>
<circle cx="928.4" cy="350.4" r="3.4" fill="#5a5c77"/>
<circle cx="1097.2" cy="229.1" r="3.4" fill="#f15b51"/>
<circle cx="988.9" cy="329.7" r="3.4" fill="#5a5c77"/>
<circle cx="933.6" cy="207.9" r="3.4" fill="#5a5c77"/>
<circle cx="1093.8" cy="329.8" r="3.4" fill="#5a5c77"/>
<circle cx="949.5" cy="307.3" r="3.4" fill="#f15b51"/>
<circle cx="1106.6" cy="180.7" r="3.4" fill="#b5160b"/>
<circle cx="991.8" cy="279.7" r="3.4" fill="#b5160b"/>
<circle cx="1118.1" cy="292.1" r="3.4" fill="#d873cc"/>
<circle cx="1035.9" cy="307.5" r="3.4" fill="#b5160b"/>
<circle cx="1026.2" cy="266.8" r="3.4" fill="#b5160b"/>
<circle cx="1018.3" cy="282.6" r="3.4" fill="#5a5c77"/>
<circle cx="979.2" cy="225.5" r="3.4" fill="#5a5c77"/>
<circle cx="1096.0" cy="346.3" r="3.4" fill="#b5160b"/>
<circle cx="1096.6" cy="205.3" r="3.4" fill="#b5160b"/>
<circle cx="989.4" cy="362.9" r="3.4" fill="#5a5c77"/>
<circle cx="1073.1" cy="294.5" r="3.4" fill="#f15b51"/>
<circle cx="1095.2" cy="276.6" r="3.4" fill="#f15b51"/>
<circle cx="1101.0" cy="232.6" r="3.4" fill="#b5160b"/>
<circle cx="1069.3" cy="268.9" r="3.4" fill="#b5160b"/>
<circle cx="1092.5" cy="350.3" r="3.4" fill="#f15b51"/>
<circle cx="972.8" cy="237.0" r="3.4" fill="#f15b51"/>
<circle cx="866.2" cy="320.8" r="3.4" fill="#5a5c77"/>
<circle cx="1042.1" cy="322.6" r="3.4" fill="#f15b51"/>
<circle cx="973.4" cy="379.5" r="3.4" fill="#5a5c77"/>
<circle cx="1117.8" cy="261.9" r="3.4" fill="#f15b51"/>
<circle cx="930.5" cy="357.9" r="3.4" fill="#f15b51"/>
<circle cx="946.5" cy="280.6" r="3.4" fill="#5a5c77"/>
<circle cx="1038.3" cy="294.2" r="3.4" fill="#b5160b"/>
<circle cx="1090.5" cy="232.1" r="3.4" fill="#f15b51"/>
<circle cx="1007.4" cy="191.2" r="3.4" fill="#d873cc"/>
<circle cx="992.5" cy="199.5" r="3.4" fill="#5a5c77"/>
<circle cx="958.4" cy="283.0" r="3.4" fill="#b5160b"/>
<circle cx="985.0" cy="279.0" r="3.4" fill="#f15b51"/>
<circle cx="1114.1" cy="192.3" r="3.4" fill="#5a5c77"/>
<circle cx="993.6" cy="181.5" r="3.4" fill="#5a5c77"/>
<circle cx="994.4" cy="206.3" r="3.4" fill="#5a5c77"/>
<circle cx="1052.1" cy="264.4" r="3.4" fill="#b5160b"/>
<circle cx="1037.0" cy="299.9" r="3.4" fill="#5a5c77"/>
<circle cx="1042.9" cy="214.9" r="3.4" fill="#5a5c77"/>
<circle cx="1008.0" cy="319.8" r="3.4" fill="#d873cc"/>
<circle cx="882.1" cy="257.2" r="3.4" fill="#b5160b"/>
<circle cx="954.2" cy="291.4" r="3.4" fill="#5a5c77"/>
<circle cx="1091.7" cy="314.9" r="3.4" fill="#b5160b"/>
<circle cx="1032.1" cy="250.6" r="3.4" fill="#b5160b"/>
<circle cx="1017.9" cy="290.9" r="3.4" fill="#5a5c77"/>
<circle cx="1057.1" cy="226.8" r="3.4" fill="#5a5c77"/>
<circle cx="890.5" cy="317.7" r="3.4" fill="#5a5c77"/>
<circle cx="1025.8" cy="311.2" r="3.4" fill="#5a5c77"/>
<circle cx="1050.1" cy="308.1" r="3.4" fill="#f15b51"/>
<circle cx="1079.9" cy="244.3" r="3.4" fill="#b5160b"/>
<circle cx="1174.5" cy="294.1" r="3.4" fill="#d873cc"/>
<circle cx="892.4" cy="260.2" r="3.4" fill="#f15b51"/>
<circle cx="1067.5" cy="316.9" r="3.4" fill="#5a5c77"/>
<circle cx="1002.4" cy="225.5" r="3.4" fill="#d873cc"/>
<circle cx="1004.2" cy="295.7" r="3.4" fill="#5a5c77"/>
<circle cx="1025.9" cy="246.0" r="3.4" fill="#d873cc"/>
<circle cx="1024.0" cy="358.4" r="3.4" fill="#b5160b"/>
<circle cx="958.9" cy="286.4" r="3.4" fill="#5a5c77"/>
<circle cx="1096.4" cy="344.4" r="3.4" fill="#5a5c77"/>
<circle cx="945.1" cy="248.1" r="3.4" fill="#f15b51"/>
<circle cx="1094.2" cy="261.7" r="3.4" fill="#5a5c77"/>
<circle cx="969.6" cy="193.2" r="3.4" fill="#b5160b"/>
<circle cx="1032.7" cy="179.2" r="3.4" fill="#b5160b"/>
<circle cx="1111.1" cy="182.1" r="3.4" fill="#5a5c77"/>
<circle cx="903.1" cy="238.6" r="3.4" fill="#b5160b"/>
<circle cx="991.2" cy="221.6" r="3.4" fill="#b5160b"/>
<circle cx="1160.4" cy="304.5" r="3.4" fill="#b5160b"/>
<circle cx="928.8" cy="325.0" r="3.4" fill="#5a5c77"/>
<circle cx="990.2" cy="249.6" r="3.4" fill="#f15b51"/>
<circle cx="1076.1" cy="192.8" r="3.4" fill="#5a5c77"/>
<circle cx="1090.0" cy="297.8" r="3.4" fill="#b5160b"/>
<circle cx="856.3" cy="258.5" r="3.4" fill="#b5160b"/>
<circle cx="1054.6" cy="216.5" r="3.4" fill="#d873cc"/>
<circle cx="971.8" cy="380.1" r="3.4" fill="#d873cc"/>
<circle cx="915.8" cy="354.1" r="3.4" fill="#5a5c77"/>
<circle cx="1137.0" cy="275.0" r="3.4" fill="#5a5c77"/>
<circle cx="1178.2" cy="255.5" r="3.4" fill="#5a5c77"/>
<circle cx="1010.6" cy="263.9" r="3.4" fill="#b5160b"/>
<circle cx="898.9" cy="250.0" r="3.4" fill="#b5160b"/>
<circle cx="1156.9" cy="265.7" r="3.4" fill="#5a5c77"/>
<circle cx="1125.6" cy="254.3" r="3.4" fill="#f15b51"/>
<circle cx="968.9" cy="284.3" r="3.4" fill="#f15b51"/>
<circle cx="1087.5" cy="271.6" r="3.4" fill="#f15b51"/>
<circle cx="982.7" cy="278.8" r="3.4" fill="#d873cc"/>
<circle cx="933.3" cy="265.8" r="3.4" fill="#5a5c77"/>
<circle cx="871.1" cy="299.3" r="3.4" fill="#d873cc"/>
<circle cx="1097.6" cy="331.7" r="3.4" fill="#5a5c77"/>
<circle cx="1152.3" cy="210.3" r="3.4" fill="#b5160b"/>
<circle cx="1031.1" cy="315.3" r="3.4" fill="#5a5c77"/>
<circle cx="1123.0" cy="276.6" r="3.4" fill="#f15b51"/>
<circle cx="1003.6" cy="349.2" r="3.4" fill="#5c2319"/>
<circle cx="959.8" cy="272.0" r="3.4" fill="#5a5c77"/>
<circle cx="1082.4" cy="309.5" r="3.4" fill="#b5160b"/>
<circle cx="1170.8" cy="306.4" r="3.4" fill="#f15b51"/>
<circle cx="1000.5" cy="257.4" r="3.4" fill="#5a5c77"/>
<circle cx="998.3" cy="409.1" r="3.4" fill="#5a5c77"/>
<circle cx="1007.0" cy="340.7" r="3.4" fill="#f15b51"/>
<circle cx="1111.5" cy="252.8" r="3.4" fill="#d873cc"/>
<circle cx="938.4" cy="337.1" r="3.4" fill="#5c2319"/>
<circle cx="1068.2" cy="384.6" r="3.4" fill="#5a5c77"/>
<circle cx="966.3" cy="324.4" r="3.4" fill="#5a5c77"/>
<circle cx="967.0" cy="258.1" r="3.4" fill="#f15b51"/>
<circle cx="1022.8" cy="263.2" r="3.4" fill="#f15b51"/>
<circle cx="1110.6" cy="228.8" r="3.4" fill="#5a5c77"/>
<circle cx="1114.4" cy="268.9" r="3.4" fill="#b5160b"/>
<circle cx="1109.2" cy="268.3" r="3.4" fill="#d873cc"/>
<circle cx="1011.9" cy="250.3" r="3.4" fill="#b5160b"/>
<circle cx="991.6" cy="298.4" r="3.4" fill="#b5160b"/>
<circle cx="959.6" cy="194.1" r="3.4" fill="#b5160b"/>
<circle cx="892.1" cy="352.6" r="3.4" fill="#5a5c77"/>
<circle cx="1048.7" cy="226.4" r="3.4" fill="#b5160b"/>
<circle cx="1146.3" cy="215.6" r="3.4" fill="#5c2319"/>
<circle cx="1090.3" cy="250.1" r="3.4" fill="#d873cc"/>
<circle cx="1129.9" cy="327.6" r="3.4" fill="#92e2ca"/>
<circle cx="979.6" cy="189.5" r="3.4" fill="#5a5c77"/>
<circle cx="955.9" cy="363.4" r="3.4" fill="#5a5c77"/>
<circle cx="952.0" cy="260.3" r="3.4" fill="#b5160b"/>
<circle cx="920.9" cy="371.0" r="3.4" fill="#5a5c77"/>
<circle cx="1046.5" cy="351.9" r="3.4" fill="#5a5c77"/>
<circle cx="918.5" cy="316.6" r="3.4" fill="#5a5c77"/>
<circle cx="1154.4" cy="241.7" r="3.4" fill="#5a5c77"/>
<circle cx="1008.3" cy="234.0" r="3.4" fill="#5a5c77"/>
<circle cx="898.0" cy="307.3" r="3.4" fill="#5a5c77"/>
<circle cx="862.5" cy="284.0" r="3.4" fill="#b5160b"/>
<circle cx="1084.3" cy="319.4" r="3.4" fill="#5a5c77"/>
<circle cx="1036.4" cy="196.2" r="3.4" fill="#f15b51"/>
<circle cx="1096.7" cy="301.7" r="3.4" fill="#b5160b"/>
<circle cx="1066.4" cy="280.2" r="3.4" fill="#b5160b"/>
<circle cx="1054.9" cy="327.2" r="3.4" fill="#5a5c77"/>
<circle cx="992.2" cy="181.7" r="3.4" fill="#b5160b"/>
<circle cx="922.3" cy="354.5" r="3.4" fill="#b5160b"/>
<circle cx="972.9" cy="298.1" r="3.4" fill="#5a5c77"/>
<circle cx="1047.6" cy="279.4" r="3.4" fill="#f15b51"/>
<circle cx="1107.9" cy="233.9" r="3.4" fill="#5a5c77"/>
<circle cx="1126.8" cy="240.8" r="3.4" fill="#d873cc"/>
<circle cx="1022.1" cy="340.0" r="3.4" fill="#5a5c77"/>
<circle cx="974.8" cy="246.6" r="3.4" fill="#5a46be"/>
<circle cx="1136.1" cy="257.4" r="3.4" fill="#f15b51"/>
<circle cx="973.5" cy="280.5" r="3.4" fill="#b5160b"/>
<circle cx="1128.7" cy="235.6" r="3.4" fill="#f15b51"/>
<circle cx="1002.2" cy="218.5" r="3.4" fill="#b5160b"/>
<circle cx="871.7" cy="260.8" r="3.4" fill="#d873cc"/>
<circle cx="1012.9" cy="324.6" r="3.4" fill="#5c2319"/>
<circle cx="926.4" cy="369.9" r="3.4" fill="#5a5c77"/>
<circle cx="920.6" cy="336.1" r="3.4" fill="#5a5c77"/>
<circle cx="1015.1" cy="298.0" r="3.4" fill="#f15b51"/>
<circle cx="1050.5" cy="250.6" r="3.4" fill="#b5160b"/>
<circle cx="977.4" cy="322.9" r="3.4" fill="#b5160b"/>
<circle cx="1071.1" cy="279.4" r="3.4" fill="#d873cc"/>
<circle cx="1082.0" cy="175.0" r="3.4" fill="#5a5c77"/>
<circle cx="1151.5" cy="331.6" r="3.4" fill="#92e2ca"/>
<circle cx="1060.1" cy="325.7" r="3.4" fill="#5a46be"/>
<circle cx="979.1" cy="303.7" r="3.4" fill="#d873cc"/>
<circle cx="1002.8" cy="267.5" r="3.4" fill="#b5160b"/>
<circle cx="948.4" cy="164.0" r="3.4" fill="#b5160b"/>
<circle cx="1100.8" cy="309.6" r="3.4" fill="#5a5c77"/>
<circle cx="989.9" cy="381.2" r="3.4" fill="#5a5c77"/>
<circle cx="1102.2" cy="236.9" r="3.4" fill="#5a5c77"/>
<circle cx="1107.6" cy="305.4" r="3.4" fill="#5a5c77"/>
<circle cx="935.6" cy="200.4" r="3.4" fill="#5a5c77"/>
<circle cx="985.3" cy="313.4" r="3.4" fill="#d873cc"/>
<circle cx="1050.8" cy="174.4" r="3.4" fill="#b5160b"/>
<circle cx="923.8" cy="332.6" r="3.4" fill="#d873cc"/>
<circle cx="1065.4" cy="305.9" r="3.4" fill="#f15b51"/>
<circle cx="1100.9" cy="379.1" r="3.4" fill="#b5160b"/>
<circle cx="987.5" cy="266.9" r="3.4" fill="#d873cc"/>
<circle cx="1126.1" cy="196.6" r="3.4" fill="#5a46be"/>
<circle cx="978.6" cy="257.0" r="3.4" fill="#b5160b"/>
<circle cx="1024.0" cy="237.6" r="3.4" fill="#5a5c77"/>
<circle cx="1145.2" cy="310.6" r="3.4" fill="#5a5c77"/>
<circle cx="1049.5" cy="263.6" r="3.4" fill="#b5160b"/>
<circle cx="1154.4" cy="263.9" r="3.4" fill="#5a5c77"/>
<circle cx="946.9" cy="327.8" r="3.4" fill="#5a5c77"/>
<circle cx="953.1" cy="299.1" r="3.4" fill="#92e2ca"/>
<circle cx="957.0" cy="333.6" r="3.4" fill="#f15b51"/>
<circle cx="863.4" cy="268.7" r="3.4" fill="#5a5c77"/>
<circle cx="984.6" cy="343.6" r="3.4" fill="#5a5c77"/>
<circle cx="929.0" cy="249.8" r="3.4" fill="#5a5c77"/>
<circle cx="1041.7" cy="303.3" r="3.4" fill="#f15b51"/>
<circle cx="1106.7" cy="299.4" r="3.4" fill="#5a5c77"/>
<circle cx="986.8" cy="209.2" r="3.4" fill="#b5160b"/>
<circle cx="1118.6" cy="242.1" r="3.4" fill="#d873cc"/>
<circle cx="1004.6" cy="299.6" r="3.4" fill="#5a5c77"/>
<circle cx="955.0" cy="338.9" r="3.4" fill="#5a5c77"/>
<circle cx="928.1" cy="349.5" r="3.4" fill="#5a5c77"/>
<circle cx="1108.6" cy="292.5" r="3.4" fill="#5a5c77"/>
<circle cx="967.2" cy="316.8" r="3.4" fill="#5a5c77"/>
<circle cx="1068.2" cy="325.3" r="3.4" fill="#5a5c77"/>
<circle cx="1012.7" cy="363.9" r="3.4" fill="#5a5c77"/>
<circle cx="918.3" cy="194.5" r="3.4" fill="#5a5c77"/>
<circle cx="926.2" cy="338.9" r="3.4" fill="#5a5c77"/>
<circle cx="919.2" cy="275.0" r="3.4" fill="#d873cc"/>
<circle cx="1035.5" cy="198.4" r="3.4" fill="#5c2319"/>
<circle cx="988.9" cy="259.9" r="3.4" fill="#5a5c77"/>
<circle cx="1079.8" cy="293.9" r="3.4" fill="#5a5c77"/>
<circle cx="1087.9" cy="360.6" r="3.4" fill="#5a5c77"/>
<circle cx="883.2" cy="308.0" r="3.4" fill="#b5160b"/>
<circle cx="945.0" cy="319.3" r="3.4" fill="#5a5c77"/>
<circle cx="1069.7" cy="363.8" r="3.4" fill="#5a5c77"/>
<circle cx="893.1" cy="285.8" r="3.4" fill="#b5160b"/>
<circle cx="988.6" cy="231.4" r="3.4" fill="#5a5c77"/>
<circle cx="1040.0" cy="298.9" r="3.4" fill="#d873cc"/>
<circle cx="998.6" cy="380.2" r="3.4" fill="#5a5c77"/>
<circle cx="1134.1" cy="248.5" r="3.4" fill="#5a5c77"/>
<circle cx="1052.0" cy="284.5" r="3.4" fill="#b5160b"/>
<circle cx="1048.5" cy="275.0" r="3.4" fill="#5a5c77"/>
<circle cx="1024.8" cy="201.2" r="3.4" fill="#5a5c77"/>
<circle cx="1040.1" cy="243.0" r="3.4" fill="#5a46be"/>
<circle cx="980.1" cy="293.6" r="3.4" fill="#5a5c77"/>
<circle cx="895.3" cy="262.2" r="3.4" fill="#d873cc"/>
<circle cx="1039.2" cy="199.8" r="3.4" fill="#d873cc"/>
<circle cx="1048.4" cy="242.7" r="3.4" fill="#b5160b"/>
<circle cx="953.1" cy="343.2" r="3.4" fill="#5c2319"/>
<circle cx="1083.4" cy="272.6" r="3.4" fill="#5a5c77"/>
<circle cx="896.3" cy="365.5" r="3.4" fill="#5a5c77"/>
<circle cx="1139.6" cy="216.7" r="3.4" fill="#5c2319"/>
<circle cx="1041.1" cy="248.1" r="3.4" fill="#5a5c77"/>
<circle cx="941.9" cy="229.6" r="3.4" fill="#5a5c77"/>
<circle cx="1009.4" cy="282.6" r="3.4" fill="#b5160b"/>
<circle cx="940.4" cy="341.6" r="3.4" fill="#5a5c77"/>
<circle cx="943.1" cy="352.9" r="3.4" fill="#b5160b"/>
<circle cx="958.5" cy="376.4" r="3.4" fill="#5a5c77"/>
<circle cx="942.5" cy="265.6" r="3.4" fill="#5a5c77"/>
<circle cx="956.7" cy="314.7" r="3.4" fill="#b5160b"/>
<circle cx="1097.0" cy="278.7" r="3.4" fill="#5a5c77"/>
<circle cx="1136.1" cy="197.5" r="3.4" fill="#b5160b"/>
<circle cx="1088.5" cy="304.7" r="3.4" fill="#5a5c77"/>
<circle cx="1011.2" cy="248.6" r="3.4" fill="#b5160b"/>
<circle cx="1177.5" cy="315.0" r="3.4" fill="#5a5c77"/>
<circle cx="1021.2" cy="173.8" r="3.4" fill="#f15b51"/>
<circle cx="1111.8" cy="224.5" r="3.4" fill="#5c2319"/>
<circle cx="957.1" cy="313.4" r="3.4" fill="#5a5c77"/>
<circle cx="1134.2" cy="278.2" r="3.4" fill="#b5160b"/>
<circle cx="1067.6" cy="183.8" r="3.4" fill="#5a5c77"/>
<circle cx="998.4" cy="263.9" r="3.4" fill="#f15b51"/>
<circle cx="1016.5" cy="382.0" r="3.4" fill="#5a5c77"/>
<circle cx="948.7" cy="309.1" r="3.4" fill="#5a5c77"/>
<circle cx="949.3" cy="379.9" r="3.4" fill="#5a5c77"/>
<circle cx="963.3" cy="268.6" r="3.4" fill="#d873cc"/>
<circle cx="1073.4" cy="273.2" r="3.4" fill="#f15b51"/>
<circle cx="1057.4" cy="190.1" r="3.4" fill="#5a5c77"/>
<circle cx="975.0" cy="369.3" r="3.4" fill="#5a5c77"/>
<circle cx="1006.4" cy="271.2" r="3.4" fill="#5a46be"/>
<circle cx="953.4" cy="235.8" r="3.4" fill="#b5160b"/>
<circle cx="890.5" cy="227.6" r="3.4" fill="#f15b51"/>
<circle cx="1011.2" cy="230.4" r="3.4" fill="#5a5c77"/>
<circle cx="858.0" cy="270.0" r="3.4" fill="#92e2ca"/>
<circle cx="1139.9" cy="224.3" r="3.4" fill="#f15b51"/>
<circle cx="1126.7" cy="264.6" r="3.4" fill="#b5160b"/>
<circle cx="1103.8" cy="291.4" r="3.4" fill="#5a5c77"/>
<circle cx="962.7" cy="371.0" r="3.4" fill="#5a5c77"/>
<circle cx="1029.9" cy="307.9" r="3.4" fill="#5a5c77"/>
<circle cx="1083.9" cy="285.4" r="3.4" fill="#f15b51"/>
<circle cx="975.8" cy="237.8" r="3.4" fill="#f15b51"/>
<circle cx="920.4" cy="292.4" r="3.4" fill="#d873cc"/>
<circle cx="1177.1" cy="264.6" r="3.4" fill="#d873cc"/>
<circle cx="1064.2" cy="279.8" r="3.4" fill="#b5160b"/>
<circle cx="1103.0" cy="301.3" r="3.4" fill="#d873cc"/>
<circle cx="986.8" cy="293.0" r="3.4" fill="#5a5c77"/>
<circle cx="944.0" cy="250.8" r="3.4" fill="#b5160b"/>
<circle cx="928.3" cy="209.5" r="3.4" fill="#5a5c77"/>
<circle cx="1029.8" cy="151.6" r="3.4" fill="#f15b51"/>
<circle cx="1069.9" cy="226.6" r="3.4" fill="#f15b51"/>
<circle cx="997.4" cy="227.3" r="3.4" fill="#d873cc"/>
<circle cx="1153.0" cy="217.5" r="3.4" fill="#5a5c77"/>
<circle cx="1043.8" cy="222.5" r="3.4" fill="#5a46be"/>
<circle cx="940.6" cy="199.1" r="3.4" fill="#5a46be"/>
<circle cx="1097.9" cy="208.6" r="3.4" fill="#b5160b"/>
<circle cx="934.2" cy="317.3" r="3.4" fill="#5a5c77"/>
<circle cx="1055.8" cy="272.3" r="3.4" fill="#5a5c77"/>
<circle cx="938.8" cy="321.5" r="3.4" fill="#b5160b"/>
<circle cx="1098.2" cy="205.3" r="3.4" fill="#b5160b"/>
<circle cx="1065.5" cy="230.9" r="3.4" fill="#5a5c77"/>
<circle cx="1044.1" cy="230.9" r="3.4" fill="#5a5c77"/>
<circle cx="963.5" cy="288.0" r="3.4" fill="#f15b51"/>
<circle cx="1184.4" cy="281.4" r="3.4" fill="#a2ea78"/>
<circle cx="1109.8" cy="337.8" r="3.4" fill="#b5160b"/>
<circle cx="938.8" cy="219.4" r="3.4" fill="#5a5c77"/>
<circle cx="976.2" cy="254.4" r="3.4" fill="#f15b51"/>
<circle cx="1165.9" cy="236.6" r="3.4" fill="#5a5c77"/>
<circle cx="901.5" cy="271.0" r="3.4" fill="#d873cc"/>
<circle cx="989.7" cy="238.5" r="3.4" fill="#5a46be"/>
<circle cx="1001.5" cy="194.6" r="3.4" fill="#5a5c77"/>
<circle cx="908.4" cy="292.9" r="3.4" fill="#5a5c77"/>
<circle cx="987.5" cy="344.9" r="3.4" fill="#b5160b"/>
<circle cx="990.1" cy="301.6" r="3.4" fill="#b5160b"/>
<circle cx="1143.8" cy="206.7" r="3.4" fill="#b5160b"/>
<circle cx="1005.5" cy="327.6" r="3.4" fill="#5a5c77"/>
<circle cx="1022.0" cy="180.5" r="3.4" fill="#5a5c77"/>
<circle cx="1003.2" cy="269.6" r="3.4" fill="#f15b51"/>
<circle cx="1079.6" cy="235.2" r="3.4" fill="#d873cc"/>
<circle cx="899.8" cy="290.9" r="3.4" fill="#5a5c77"/>
<circle cx="997.5" cy="320.6" r="3.4" fill="#5a5c77"/>
<circle cx="1055.0" cy="265.0" r="3.4" fill="#5a5c77"/>
<circle cx="1034.0" cy="190.5" r="3.4" fill="#5a5c77"/>
<circle cx="1036.3" cy="289.2" r="3.4" fill="#f15b51"/>
<circle cx="1168.8" cy="243.7" r="3.4" fill="#5a5c77"/>
<circle cx="1095.3" cy="264.1" r="3.4" fill="#d873cc"/>
<circle cx="930.7" cy="271.3" r="3.4" fill="#5a46be"/>
<circle cx="996.2" cy="242.0" r="3.4" fill="#b5160b"/>
<circle cx="1157.3" cy="308.7" r="3.4" fill="#f15b51"/>
<circle cx="881.6" cy="227.8" r="3.4" fill="#b5160b"/>
<circle cx="1019.0" cy="289.2" r="3.4" fill="#b5160b"/>
<circle cx="1015.1" cy="184.5" r="3.4" fill="#f15b51"/>
<circle cx="1000.3" cy="348.4" r="3.4" fill="#5a5c77"/>
<circle cx="1152.5" cy="252.2" r="3.4" fill="#f15b51"/>
<circle cx="899.0" cy="263.9" r="3.4" fill="#b5160b"/>
<circle cx="1120.7" cy="344.9" r="3.4" fill="#b5160b"/>
<circle cx="1100.0" cy="342.9" r="3.4" fill="#f15b51"/>
<circle cx="973.0" cy="298.3" r="3.4" fill="#5a5c77"/>
<circle cx="1063.0" cy="254.5" r="3.4" fill="#5c2319"/>
<circle cx="875.6" cy="231.5" r="3.4" fill="#b5160b"/>
<circle cx="1148.1" cy="351.9" r="3.4" fill="#5a5c77"/>
<circle cx="886.0" cy="310.9" r="3.4" fill="#5a5c77"/>
<circle cx="1028.7" cy="256.2" r="3.4" fill="#5a5c77"/>
<circle cx="1145.4" cy="244.0" r="3.4" fill="#b5160b"/>
<circle cx="1149.7" cy="211.4" r="3.4" fill="#5a5c77"/>
<circle cx="1102.8" cy="311.9" r="3.4" fill="#5a5c77"/>
<circle cx="1012.4" cy="248.4" r="3.4" fill="#b5160b"/>
<circle cx="1010.1" cy="305.3" r="3.4" fill="#f15b51"/>
<circle cx="1058.7" cy="338.5" r="3.4" fill="#d873cc"/>
<circle cx="1136.5" cy="332.5" r="3.4" fill="#5a5c77"/>
<circle cx="1140.8" cy="261.0" r="3.4" fill="#5a46be"/>
<circle cx="1029.7" cy="243.9" r="3.4" fill="#b5160b"/>
<circle cx="917.3" cy="389.7" r="3.4" fill="#5a5c77"/>
<circle cx="957.8" cy="262.5" r="3.4" fill="#f15b51"/>
<circle cx="893.4" cy="290.1" r="3.4" fill="#5a5c77"/>
<circle cx="1018.2" cy="295.2" r="3.4" fill="#5a46be"/>
<circle cx="987.8" cy="299.3" r="3.4" fill="#5a5c77"/>
<circle cx="1087.8" cy="374.8" r="3.4" fill="#5a5c77"/>
<circle cx="1029.3" cy="356.3" r="3.4" fill="#f15b51"/>
<circle cx="957.5" cy="242.1" r="3.4" fill="#5a5c77"/>
<circle cx="935.6" cy="255.8" r="3.4" fill="#5a5c77"/>
<circle cx="1008.3" cy="356.7" r="3.4" fill="#5a5c77"/>
<circle cx="1185.7" cy="287.3" r="3.4" fill="#b5160b"/>
<circle cx="1001.1" cy="323.3" r="3.4" fill="#5a5c77"/>
<circle cx="972.2" cy="239.0" r="3.4" fill="#d873cc"/>
<circle cx="897.7" cy="287.2" r="3.4" fill="#b5160b"/>
<circle cx="1187.1" cy="303.2" r="3.4" fill="#5a5c77"/>
<circle cx="1142.5" cy="240.3" r="3.4" fill="#d873cc"/>
<circle cx="1185.0" cy="307.5" r="3.4" fill="#5a5c77"/>
<circle cx="1053.6" cy="272.0" r="3.4" fill="#f15b51"/>
<circle cx="1041.0" cy="333.7" r="3.4" fill="#5a5c77"/>
<circle cx="1022.5" cy="270.5" r="3.4" fill="#5a5c77"/>
<circle cx="1032.7" cy="172.4" r="3.4" fill="#b5160b"/>
<circle cx="1002.2" cy="315.3" r="3.4" fill="#f15b51"/>
<circle cx="1161.5" cy="295.2" r="3.4" fill="#5a5c77"/>
<circle cx="1116.0" cy="245.6" r="3.4" fill="#d873cc"/>
<circle cx="912.5" cy="330.2" r="3.4" fill="#d873cc"/>
<circle cx="1104.8" cy="302.0" r="3.4" fill="#b5160b"/>
<circle cx="1119.2" cy="258.7" r="3.4" fill="#5a5c77"/>
<circle cx="916.8" cy="202.0" r="3.4" fill="#5a5c77"/>
<circle cx="1006.7" cy="211.6" r="3.4" fill="#b5160b"/>
<circle cx="1141.8" cy="218.9" r="3.4" fill="#b5160b"/>
<circle cx="1091.1" cy="211.4" r="3.4" fill="#b5160b"/>
<circle cx="997.7" cy="316.0" r="3.4" fill="#b5160b"/>
<circle cx="999.4" cy="227.8" r="3.4" fill="#d873cc"/>
<circle cx="943.5" cy="358.9" r="3.4" fill="#b5160b"/>
<circle cx="1038.3" cy="287.3" r="3.4" fill="#b5160b"/>
<circle cx="1083.4" cy="374.4" r="3.4" fill="#5a5c77"/>
<circle cx="983.5" cy="219.8" r="3.4" fill="#5a5c77"/>
<circle cx="893.9" cy="225.2" r="3.4" fill="#1a1a1a"/>
<circle cx="937.3" cy="324.5" r="3.4" fill="#b5160b"/>
<circle cx="1056.7" cy="220.0" r="3.4" fill="#d873cc"/>
<circle cx="908.2" cy="312.7" r="3.4" fill="#5a5c77"/>
<circle cx="1101.7" cy="249.3" r="3.4" fill="#f15b51"/>
<circle cx="1107.4" cy="209.4" r="3.4" fill="#5a5c77"/>
<circle cx="917.1" cy="342.7" r="3.4" fill="#5a5c77"/>
<circle cx="1063.7" cy="286.2" r="3.4" fill="#b5160b"/>
<circle cx="1108.5" cy="286.8" r="3.4" fill="#5a5c77"/>
<circle cx="1021.7" cy="314.5" r="3.4" fill="#5a5c77"/>
<circle cx="1067.4" cy="191.6" r="3.4" fill="#d873cc"/>
<circle cx="1101.6" cy="390.3" r="3.4" fill="#5a5c77"/>
<circle cx="1027.9" cy="196.3" r="3.4" fill="#5a5c77"/>
<circle cx="1002.6" cy="198.5" r="3.4" fill="#92e2ca"/>
<circle cx="992.2" cy="349.9" r="3.4" fill="#5a5c77"/>
<circle cx="918.7" cy="368.1" r="3.4" fill="#5a5c77"/>
<circle cx="1020.2" cy="348.4" r="3.4" fill="#5a5c77"/>
<circle cx="987.5" cy="250.7" r="3.4" fill="#5a5c77"/>
<circle cx="904.0" cy="243.6" r="3.4" fill="#5a46be"/>
<circle cx="1042.4" cy="287.1" r="3.4" fill="#f15b51"/>
<circle cx="944.4" cy="197.8" r="3.4" fill="#d873cc"/>
<circle cx="1109.7" cy="202.3" r="3.4" fill="#5a5c77"/>
<circle cx="1121.9" cy="306.5" r="3.4" fill="#5a46be"/>
<circle cx="1000.0" cy="330.8" r="3.4" fill="#5a46be"/>
<circle cx="1064.8" cy="227.0" r="3.4" fill="#5a5c77"/>
<circle cx="933.4" cy="282.7" r="3.4" fill="#5a5c77"/>
<circle cx="955.0" cy="268.0" r="3.4" fill="#5a5c77"/>
<circle cx="1101.7" cy="213.5" r="3.4" fill="#5a5c77"/>
<circle cx="1090.9" cy="229.0" r="3.4" fill="#5a5c77"/>
<circle cx="954.7" cy="370.9" r="3.4" fill="#5a5c77"/>
<circle cx="943.1" cy="371.8" r="3.4" fill="#5a5c77"/>
<circle cx="968.0" cy="303.9" r="3.4" fill="#5c2319"/>
<circle cx="991.1" cy="300.8" r="3.4" fill="#5c2319"/>
<circle cx="1068.5" cy="238.2" r="3.4" fill="#92e2ca"/>
<circle cx="998.1" cy="247.7" r="3.4" fill="#92e2ca"/>
<circle cx="1025.8" cy="201.3" r="3.4" fill="#5a5c77"/>
<circle cx="948.3" cy="346.8" r="3.4" fill="#5c2319"/>
<circle cx="854.2" cy="273.9" r="3.4" fill="#5a5c77"/>
<circle cx="947.0" cy="308.9" r="3.4" fill="#d873cc"/>
<circle cx="1035.6" cy="262.1" r="3.4" fill="#f15b51"/>
<circle cx="993.3" cy="279.2" r="3.4" fill="#92e2ca"/>
<circle cx="1018.4" cy="384.1" r="3.4" fill="#5a5c77"/>
<circle cx="1016.6" cy="270.2" r="3.4" fill="#d873cc"/>
<circle cx="977.3" cy="275.1" r="3.4" fill="#f15b51"/>
<circle cx="972.9" cy="215.9" r="3.4" fill="#5a5c77"/>
<circle cx="924.2" cy="348.0" r="3.4" fill="#5a5c77"/>
<circle cx="896.4" cy="247.6" r="3.4" fill="#a2ea78"/>
<circle cx="1006.8" cy="248.7" r="3.4" fill="#b5160b"/>
<circle cx="1083.3" cy="295.2" r="3.4" fill="#1a1a1a"/>
<circle cx="1001.1" cy="369.4" r="3.4" fill="#5a5c77"/>
<circle cx="982.6" cy="211.6" r="3.4" fill="#5c2319"/>
<circle cx="938.3" cy="283.2" r="3.4" fill="#92e2ca"/>
<circle cx="1079.8" cy="204.5" r="3.4" fill="#5a5c77"/>
<circle cx="983.0" cy="193.3" r="3.4" fill="#d873cc"/>
<circle cx="1135.6" cy="253.5" r="3.4" fill="#5a5c77"/>
<circle cx="1073.1" cy="334.0" r="3.4" fill="#5a5c77"/>
<circle cx="1043.9" cy="266.3" r="3.4" fill="#5c2319"/>
<circle cx="1085.7" cy="213.1" r="3.4" fill="#a2ea78"/>
<circle cx="1129.0" cy="295.2" r="3.4" fill="#5a5c77"/>
<circle cx="1150.9" cy="223.6" r="3.4" fill="#5a5c77"/>
<circle cx="1095.2" cy="276.6" r="3.4" fill="#5a5c77"/>
<circle cx="951.6" cy="250.7" r="3.4" fill="#5a5c77"/>
<circle cx="1058.5" cy="334.2" r="3.4" fill="#f15b51"/>
<circle cx="917.8" cy="343.7" r="3.4" fill="#5a5c77"/>
<circle cx="916.3" cy="249.1" r="3.4" fill="#f15b51"/>
<circle cx="1053.1" cy="288.1" r="3.4" fill="#5a5c77"/>
<circle cx="931.4" cy="264.4" r="3.4" fill="#f15b51"/>
<circle cx="983.5" cy="274.9" r="3.4" fill="#5a5c77"/>
<circle cx="958.8" cy="278.4" r="3.4" fill="#5a5c77"/>
<circle cx="890.8" cy="324.2" r="3.4" fill="#f15b51"/>
<circle cx="970.2" cy="275.0" r="3.4" fill="#5a5c77"/>
<circle cx="1122.0" cy="333.4" r="3.4" fill="#b5160b"/>
<circle cx="1034.5" cy="290.5" r="3.4" fill="#5a5c77"/>
<circle cx="1025.0" cy="281.4" r="3.4" fill="#5a5c77"/>
<circle cx="1133.1" cy="221.4" r="3.4" fill="#5a5c77"/>
<circle cx="1127.9" cy="268.6" r="3.4" fill="#5a5c77"/>
<circle cx="1100.6" cy="260.0" r="3.4" fill="#5a5c77"/>
<circle cx="1086.5" cy="253.8" r="3.4" fill="#5a46be"/>
<circle cx="1056.9" cy="240.2" r="3.4" fill="#b5160b"/>
<circle cx="946.5" cy="209.2" r="3.4" fill="#5c2319"/>
<circle cx="930.8" cy="292.9" r="3.4" fill="#92e2ca"/>
<circle cx="1052.3" cy="221.6" r="3.4" fill="#92e2ca"/>
<circle cx="1001.9" cy="208.4" r="3.4" fill="#f15b51"/>
<circle cx="968.9" cy="335.5" r="3.4" fill="#5a5c77"/>
<circle cx="996.4" cy="257.7" r="3.4" fill="#5a5c77"/>
<circle cx="1179.9" cy="264.5" r="3.4" fill="#f15b51"/>
<circle cx="1009.3" cy="335.4" r="3.4" fill="#5a5c77"/>
<circle cx="1061.8" cy="298.2" r="3.4" fill="#b5160b"/>
<circle cx="971.7" cy="354.9" r="3.4" fill="#5a5c77"/>
<circle cx="1105.3" cy="258.2" r="3.4" fill="#92e2ca"/>
<circle cx="1001.9" cy="376.1" r="3.4" fill="#5a5c77"/>
<circle cx="1004.3" cy="214.0" r="3.4" fill="#d873cc"/>
<circle cx="1092.5" cy="335.1" r="3.4" fill="#5a5c77"/>
<circle cx="1018.3" cy="214.8" r="3.4" fill="#5a5c77"/>
<circle cx="1093.8" cy="194.9" r="3.4" fill="#5a5c77"/>
<circle cx="1050.5" cy="289.6" r="3.4" fill="#5a5c77"/>
<circle cx="999.5" cy="375.6" r="3.4" fill="#5a5c77"/>
<circle cx="1039.4" cy="275.1" r="3.4" fill="#5a5c77"/>
<circle cx="954.7" cy="213.2" r="3.4" fill="#5a5c77"/>
<circle cx="956.3" cy="243.1" r="3.4" fill="#92e2ca"/>
<circle cx="1095.7" cy="352.5" r="3.4" fill="#5a5c77"/>
<circle cx="1053.6" cy="308.1" r="3.4" fill="#5a5c77"/>
<circle cx="935.9" cy="191.6" r="3.4" fill="#5a5c77"/>
<circle cx="1087.3" cy="275.2" r="3.4" fill="#5c2319"/>
<circle cx="1014.2" cy="312.0" r="3.4" fill="#5a5c77"/>
<circle cx="1067.4" cy="230.0" r="3.4" fill="#5c2319"/>
<circle cx="1026.2" cy="224.9" r="3.4" fill="#5a5c77"/>
<circle cx="1020.0" cy="309.3" r="3.4" fill="#5a5c77"/>
<circle cx="868.5" cy="262.7" r="3.4" fill="#5a46be"/>
<circle cx="1025.2" cy="285.8" r="3.4" fill="#92e2ca"/>
<circle cx="971.0" cy="316.6" r="3.4" fill="#b5160b"/>
<circle cx="1106.6" cy="322.0" r="3.4" fill="#5a5c77"/>
<circle cx="963.8" cy="200.4" r="3.4" fill="#d873cc"/>
<circle cx="1070.6" cy="248.7" r="3.4" fill="#5a5c77"/>
<circle cx="900.0" cy="269.3" r="3.4" fill="#d873cc"/>
<circle cx="939.1" cy="281.6" r="3.4" fill="#d873cc"/>
<circle cx="962.7" cy="183.9" r="3.4" fill="#b5160b"/>
<circle cx="1159.0" cy="262.8" r="3.4" fill="#d873cc"/>
<circle cx="1059.8" cy="353.9" r="3.4" fill="#5a5c77"/>
<circle cx="969.2" cy="254.0" r="3.4" fill="#5a5c77"/>
<circle cx="998.4" cy="283.8" r="3.4" fill="#92e2ca"/>
<circle cx="902.8" cy="268.6" r="3.4" fill="#5a5c77"/>
<circle cx="998.0" cy="302.6" r="3.4" fill="#5a5c77"/>
<circle cx="1061.0" cy="300.0" r="3.4" fill="#b5160b"/>
<circle cx="1001.7" cy="386.8" r="3.4" fill="#5a5c77"/>
<circle cx="1097.2" cy="363.4" r="3.4" fill="#5a5c77"/>
<circle cx="1155.3" cy="317.0" r="3.4" fill="#d873cc"/>
<circle cx="896.5" cy="314.7" r="3.4" fill="#b5160b"/>
<circle cx="1054.6" cy="297.4" r="3.4" fill="#b5160b"/>
<circle cx="939.5" cy="241.5" r="3.4" fill="#5a5c77"/>
<circle cx="1052.1" cy="376.1" r="3.4" fill="#5a5c77"/>
<circle cx="974.5" cy="352.3" r="3.4" fill="#5a5c77"/>
<circle cx="1135.4" cy="287.5" r="3.4" fill="#5a5c77"/>
<circle cx="1000.2" cy="217.7" r="3.4" fill="#f15b51"/>
<circle cx="875.7" cy="376.0" r="3.4" fill="#5a5c77"/>
<circle cx="1132.2" cy="237.9" r="3.4" fill="#5a5c77"/>
<circle cx="931.3" cy="323.5" r="3.4" fill="#5a5c77"/>
<circle cx="904.8" cy="274.9" r="3.4" fill="#5a5c77"/>
<circle cx="1020.0" cy="334.5" r="3.4" fill="#5c2319"/>
<circle cx="1132.8" cy="308.5" r="3.4" fill="#5a5c77"/>
<circle cx="984.2" cy="243.1" r="3.4" fill="#d873cc"/>
<circle cx="1020.3" cy="347.9" r="3.4" fill="#5a5c77"/>
<circle cx="977.1" cy="318.2" r="3.4" fill="#f15b51"/>
<circle cx="910.2" cy="277.2" r="3.4" fill="#5c2319"/>
<circle cx="1034.5" cy="274.0" r="3.4" fill="#b5160b"/>
<circle cx="918.9" cy="232.4" r="3.4" fill="#5a5c77"/>
<circle cx="929.2" cy="305.8" r="3.4" fill="#5a5c77"/>
<circle cx="1138.9" cy="209.8" r="3.4" fill="#5a5c77"/>
<circle cx="1027.2" cy="256.4" r="3.4" fill="#5c2319"/>
<circle cx="943.7" cy="334.6" r="3.4" fill="#f15b51"/>
<circle cx="930.3" cy="282.5" r="3.4" fill="#f15b51"/>
<circle cx="1043.3" cy="379.0" r="3.4" fill="#5a5c77"/>
<circle cx="976.9" cy="256.1" r="3.4" fill="#5c2319"/>
<circle cx="1055.0" cy="318.1" r="3.4" fill="#d873cc"/>
<circle cx="1039.4" cy="218.4" r="3.4" fill="#5a5c77"/>
<circle cx="989.9" cy="280.3" r="3.4" fill="#5c2319"/>
<circle cx="1006.5" cy="260.5" r="3.4" fill="#5a5c77"/>
<circle cx="1003.9" cy="183.8" r="3.4" fill="#f15b51"/>
<circle cx="1097.8" cy="250.0" r="3.4" fill="#d873cc"/>
<circle cx="1000.2" cy="378.5" r="3.4" fill="#5a5c77"/>
<circle cx="997.8" cy="304.3" r="3.4" fill="#a2ea78"/>
<circle cx="1025.0" cy="239.9" r="3.4" fill="#f15b51"/>
<circle cx="914.8" cy="213.6" r="3.4" fill="#d873cc"/>
<circle cx="1157.3" cy="311.6" r="3.4" fill="#5a5c77"/>
<circle cx="942.9" cy="365.9" r="3.4" fill="#5a5c77"/>
<circle cx="1086.7" cy="219.2" r="3.4" fill="#5a5c77"/>
<circle cx="1085.7" cy="368.3" r="3.4" fill="#5a5c77"/>
<circle cx="1048.1" cy="238.2" r="3.4" fill="#5a5c77"/>
<circle cx="926.1" cy="225.0" r="3.4" fill="#f15b51"/>
<circle cx="993.0" cy="216.5" r="3.4" fill="#e8c420"/>
<circle cx="1047.8" cy="260.8" r="3.4" fill="#d873cc"/>
<circle cx="1107.2" cy="339.1" r="3.4" fill="#5c2319"/>
<circle cx="874.3" cy="248.3" r="3.4" fill="#d873cc"/>
<circle cx="962.8" cy="264.5" r="3.4" fill="#d873cc"/>
<circle cx="932.7" cy="221.8" r="3.4" fill="#5c2319"/>
<circle cx="1050.2" cy="236.8" r="3.4" fill="#f15b51"/>
<circle cx="918.7" cy="289.4" r="3.4" fill="#5a5c77"/>
<circle cx="1037.0" cy="271.5" r="3.4" fill="#5a5c77"/>
<circle cx="915.7" cy="332.3" r="3.4" fill="#f15b51"/>
<circle cx="949.8" cy="339.2" r="3.4" fill="#5a5c77"/>
<circle cx="1185.7" cy="290.0" r="3.4" fill="#5a46be"/>
<circle cx="938.9" cy="283.6" r="3.4" fill="#d873cc"/>
<circle cx="901.6" cy="302.8" r="3.4" fill="#5a5c77"/>
<circle cx="947.2" cy="279.1" r="3.4" fill="#5a5c77"/>
<circle cx="921.8" cy="386.5" r="3.4" fill="#5a5c77"/>
<circle cx="1065.6" cy="247.8" r="3.4" fill="#5a5c77"/>
<circle cx="967.0" cy="314.4" r="3.4" fill="#5a46be"/>
<circle cx="1067.1" cy="197.2" r="3.4" fill="#b5160b"/>
<circle cx="969.0" cy="231.8" r="3.4" fill="#f15b51"/>
<circle cx="873.3" cy="245.3" r="3.4" fill="#5a46be"/>
<circle cx="1012.6" cy="309.3" r="3.4" fill="#a2ea78"/>
<circle cx="1028.7" cy="335.7" r="3.4" fill="#5a46be"/>
<circle cx="990.7" cy="201.4" r="3.4" fill="#5a5c77"/>
<circle cx="1160.9" cy="279.0" r="3.4" fill="#5a46be"/>
<circle cx="1039.5" cy="236.8" r="3.4" fill="#5a5c77"/>
<circle cx="952.6" cy="294.7" r="3.4" fill="#b5160b"/>
<circle cx="1140.5" cy="206.1" r="3.4" fill="#5a46be"/>
<circle cx="976.8" cy="341.7" r="3.4" fill="#5a5c77"/>
<circle cx="1057.7" cy="325.8" r="3.4" fill="#5a5c77"/>
<circle cx="941.0" cy="214.3" r="3.4" fill="#5a5c77"/>
<circle cx="1146.7" cy="286.6" r="3.4" fill="#5a46be"/>
<circle cx="1103.9" cy="299.2" r="3.4" fill="#a2ea78"/>
<circle cx="944.1" cy="224.8" r="3.4" fill="#5a5c77"/>
<circle cx="1101.1" cy="263.3" r="3.4" fill="#5a5c77"/>
<circle cx="967.5" cy="274.5" r="3.4" fill="#b5160b"/>
<circle cx="1135.5" cy="302.5" r="3.4" fill="#f15b51"/>
<circle cx="982.0" cy="348.6" r="3.4" fill="#5a5c77"/>
<circle cx="1133.0" cy="385.9" r="3.4" fill="#5a5c77"/>
<circle cx="919.7" cy="361.9" r="3.4" fill="#5a5c77"/>
<circle cx="1023.8" cy="231.6" r="3.4" fill="#d873cc"/>
<circle cx="1005.6" cy="266.3" r="3.4" fill="#b5160b"/>
<circle cx="1067.3" cy="344.0" r="3.4" fill="#5a5c77"/>
<circle cx="984.5" cy="338.6" r="3.4" fill="#92e2ca"/>
<circle cx="946.5" cy="368.9" r="3.4" fill="#5a5c77"/>
<circle cx="1005.9" cy="267.4" r="3.4" fill="#d873cc"/>
<circle cx="1016.7" cy="197.2" r="3.4" fill="#f15b51"/>
<circle cx="941.3" cy="224.7" r="3.4" fill="#d873cc"/>
<circle cx="1086.9" cy="220.8" r="3.4" fill="#d873cc"/>
<circle cx="1090.5" cy="310.8" r="3.4" fill="#5a5c77"/>
<circle cx="1061.8" cy="289.1" r="3.4" fill="#5c2319"/>
<circle cx="906.8" cy="222.7" r="3.4" fill="#92e2ca"/>
<circle cx="1173.2" cy="291.6" r="3.4" fill="#d873cc"/>
<circle cx="955.4" cy="208.5" r="3.4" fill="#5a5c77"/>
<circle cx="914.1" cy="304.6" r="3.4" fill="#f15b51"/>
<circle cx="954.6" cy="250.5" r="3.4" fill="#f15b51"/>
<circle cx="984.6" cy="286.4" r="3.4" fill="#d873cc"/>
<circle cx="1121.5" cy="338.2" r="3.4" fill="#f15b51"/>
<circle cx="1137.3" cy="207.3" r="3.4" fill="#b5160b"/>
<circle cx="1035.9" cy="369.7" r="3.4" fill="#5a5c77"/>
<circle cx="971.3" cy="262.5" r="3.4" fill="#a2ea78"/>
<circle cx="1136.4" cy="222.7" r="3.4" fill="#5a5c77"/>
<circle cx="858.8" cy="293.9" r="3.4" fill="#5a5c77"/>
<circle cx="1102.6" cy="287.3" r="3.4" fill="#5a5c77"/>
<circle cx="1093.5" cy="308.8" r="3.4" fill="#223163"/>
<circle cx="1038.3" cy="175.8" r="3.4" fill="#5a5c77"/>
<circle cx="918.1" cy="319.1" r="3.4" fill="#5a5c77"/>
<circle cx="1090.1" cy="216.7" r="3.4" fill="#5c2319"/>
<circle cx="1088.4" cy="366.6" r="3.4" fill="#5a46be"/>
<circle cx="1027.1" cy="221.7" r="3.4" fill="#b5160b"/>
<circle cx="955.1" cy="328.1" r="3.4" fill="#f15b51"/>
<circle cx="984.7" cy="354.8" r="3.4" fill="#5a5c77"/>
<circle cx="970.7" cy="269.8" r="3.4" fill="#d873cc"/>
<circle cx="989.9" cy="251.8" r="3.4" fill="#5a5c77"/>
<circle cx="1039.6" cy="269.1" r="3.4" fill="#a2ea78"/>
<circle cx="1071.8" cy="254.0" r="3.4" fill="#5a5c77"/>
<circle cx="1112.7" cy="274.7" r="3.4" fill="#5a5c77"/>
<circle cx="1048.2" cy="332.3" r="3.4" fill="#5a5c77"/>
<circle cx="1053.2" cy="335.1" r="3.4" fill="#92e2ca"/>
<circle cx="1079.7" cy="316.3" r="3.4" fill="#d873cc"/>
<circle cx="937.4" cy="268.7" r="3.4" fill="#d873cc"/>
<circle cx="1011.6" cy="168.2" r="3.4" fill="#1a1a1a"/>
<circle cx="1009.0" cy="328.1" r="3.4" fill="#5a5c77"/>
<circle cx="986.8" cy="296.4" r="3.4" fill="#5a5c77"/>
<circle cx="1133.4" cy="218.0" r="3.4" fill="#5a46be"/>
<circle cx="994.7" cy="295.1" r="3.4" fill="#f15b51"/>
<circle cx="1001.8" cy="220.7" r="3.4" fill="#5a5c77"/>
<circle cx="1000.3" cy="337.0" r="3.4" fill="#a2ea78"/>
<circle cx="882.9" cy="312.1" r="3.4" fill="#f15b51"/>
<circle cx="1009.7" cy="365.5" r="3.4" fill="#5a5c77"/>
<circle cx="1094.6" cy="262.9" r="3.4" fill="#5c2319"/>
<circle cx="1136.6" cy="267.7" r="3.4" fill="#a2ea78"/>
<circle cx="1016.9" cy="237.5" r="3.4" fill="#d873cc"/>
<circle cx="1080.5" cy="250.6" r="3.4" fill="#d873cc"/>
<circle cx="1104.9" cy="303.2" r="3.4" fill="#e8c420"/>
<circle cx="1042.4" cy="243.4" r="3.4" fill="#5a46be"/>
<circle cx="1109.5" cy="318.1" r="3.4" fill="#5a46be"/>
<circle cx="975.9" cy="274.1" r="3.4" fill="#92e2ca"/>
<circle cx="889.9" cy="226.1" r="3.4" fill="#d873cc"/>
<circle cx="961.1" cy="263.7" r="3.4" fill="#5c2319"/>
<circle cx="1069.1" cy="324.3" r="3.4" fill="#5a5c77"/>
<circle cx="917.2" cy="219.9" r="3.4" fill="#5c2319"/>
<circle cx="950.1" cy="307.0" r="3.4" fill="#5c2319"/>
<circle cx="948.9" cy="338.0" r="3.4" fill="#b5160b"/>
<circle cx="911.8" cy="252.0" r="3.4" fill="#a2ea78"/>
<circle cx="1080.7" cy="263.8" r="3.4" fill="#b5160b"/>
<circle cx="1070.8" cy="240.0" r="3.4" fill="#5a5c77"/>
<circle cx="968.2" cy="339.1" r="3.4" fill="#5a5c77"/>
<circle cx="997.7" cy="187.9" r="3.4" fill="#5c2319"/>
<circle cx="1174.0" cy="298.3" r="3.4" fill="#5a5c77"/>
<circle cx="909.3" cy="225.8" r="3.4" fill="#92e2ca"/>
<circle cx="1057.5" cy="256.2" r="3.4" fill="#f15b51"/>
<circle cx="1139.2" cy="329.5" r="3.4" fill="#5a5c77"/>
<circle cx="1001.5" cy="327.0" r="3.4" fill="#f15b51"/>
<circle cx="1006.8" cy="211.9" r="3.4" fill="#d873cc"/>
<circle cx="860.8" cy="246.8" r="3.4" fill="#d873cc"/>
<circle cx="966.1" cy="314.3" r="3.4" fill="#d873cc"/>
<circle cx="992.1" cy="230.9" r="3.4" fill="#92e2ca"/>
<circle cx="1069.7" cy="210.0" r="3.4" fill="#f15b51"/>
<circle cx="1042.8" cy="286.7" r="3.4" fill="#d873cc"/>
<circle cx="872.5" cy="284.1" r="3.4" fill="#223163"/>
<circle cx="973.4" cy="308.6" r="3.4" fill="#223163"/>
<circle cx="907.3" cy="331.4" r="3.4" fill="#a2ea78"/>
<circle cx="1095.0" cy="248.8" r="3.4" fill="#d873cc"/>
<circle cx="965.1" cy="256.2" r="3.4" fill="#e8c420"/>
<circle cx="1047.5" cy="218.3" r="3.4" fill="#5a5c77"/>
<circle cx="947.9" cy="247.9" r="3.4" fill="#d873cc"/>
<circle cx="1105.4" cy="279.3" r="3.4" fill="#5a5c77"/>
<circle cx="958.5" cy="369.5" r="3.4" fill="#5a5c77"/>
<circle cx="1071.4" cy="219.9" r="3.4" fill="#5c2319"/>
<circle cx="1003.7" cy="256.5" r="3.4" fill="#92e2ca"/>
<circle cx="1058.5" cy="321.4" r="3.4" fill="#d873cc"/>
<circle cx="1081.0" cy="244.8" r="3.4" fill="#d873cc"/>
<circle cx="1098.2" cy="263.7" r="3.4" fill="#5a5c77"/>
<circle cx="1095.7" cy="327.6" r="3.4" fill="#5a5c77"/>
<circle cx="1018.6" cy="191.4" r="3.4" fill="#5a46be"/>
<circle cx="981.5" cy="246.1" r="3.4" fill="#5c2319"/>
<circle cx="1115.5" cy="262.6" r="3.4" fill="#92e2ca"/>
<circle cx="1000.2" cy="264.3" r="3.4" fill="#d873cc"/>
<circle cx="1073.3" cy="327.8" r="3.4" fill="#d873cc"/>
<circle cx="1086.9" cy="326.3" r="3.4" fill="#5a5c77"/>
<circle cx="1102.7" cy="325.6" r="3.4" fill="#5a5c77"/>
<circle cx="867.8" cy="228.1" r="3.4" fill="#5a5c77"/>
<circle cx="916.9" cy="197.4" r="3.4" fill="#5a5c77"/>
<circle cx="1047.1" cy="332.8" r="3.4" fill="#b5160b"/>
<circle cx="1073.6" cy="255.4" r="3.4" fill="#1a1a1a"/>
<circle cx="1063.5" cy="272.6" r="3.4" fill="#5a5c77"/>
<circle cx="1183.5" cy="262.6" r="3.4" fill="#5a46be"/>
<circle cx="962.4" cy="209.5" r="3.4" fill="#5a5c77"/>
<circle cx="1125.7" cy="327.1" r="3.4" fill="#5a46be"/>
<circle cx="1077.5" cy="282.9" r="3.4" fill="#5a5c77"/>
<circle cx="1079.4" cy="230.3" r="3.4" fill="#223163"/>
<circle cx="1081.1" cy="301.9" r="3.4" fill="#5a5c77"/>
<circle cx="1012.1" cy="371.3" r="3.4" fill="#5a5c77"/>
<circle cx="984.6" cy="320.9" r="3.4" fill="#d873cc"/>
<circle cx="867.7" cy="267.6" r="3.4" fill="#5a5c77"/>
<circle cx="982.3" cy="207.1" r="3.4" fill="#5a5c77"/>
<circle cx="1030.1" cy="327.0" r="3.4" fill="#5a5c77"/>
<circle cx="1120.9" cy="307.3" r="3.4" fill="#223163"/>
<circle cx="984.3" cy="199.1" r="3.4" fill="#5a46be"/>
<circle cx="1099.5" cy="300.2" r="3.4" fill="#5a5c77"/>
<circle cx="950.9" cy="230.4" r="3.4" fill="#d873cc"/>
<circle cx="998.4" cy="295.1" r="3.4" fill="#92e2ca"/>
<circle cx="1070.3" cy="276.2" r="3.4" fill="#a2ea78"/>
<circle cx="1058.2" cy="246.9" r="3.4" fill="#5a5c77"/>
<circle cx="1026.8" cy="216.3" r="3.4" fill="#d873cc"/>
<circle cx="1043.0" cy="333.4" r="3.4" fill="#1a1a1a"/>
<circle cx="1000.9" cy="287.3" r="3.4" fill="#5a5c77"/>
<circle cx="900.1" cy="323.5" r="3.4" fill="#d873cc"/>
<circle cx="916.7" cy="293.1" r="3.4" fill="#5a5c77"/>
<circle cx="1050.0" cy="289.5" r="3.4" fill="#223163"/>
<circle cx="1013.4" cy="238.9" r="3.4" fill="#5a46be"/>
<circle cx="962.9" cy="253.7" r="3.4" fill="#92e2ca"/>
<circle cx="935.7" cy="310.4" r="3.4" fill="#5a5c77"/>
<circle cx="980.6" cy="314.3" r="3.4" fill="#d873cc"/>
<circle cx="1098.2" cy="339.8" r="3.4" fill="#92e2ca"/>
<circle cx="1092.4" cy="298.5" r="3.4" fill="#5c2319"/>
<circle cx="961.9" cy="252.5" r="3.4" fill="#f15b51"/>
<circle cx="1017.5" cy="188.8" r="3.4" fill="#5a5c77"/>
<circle cx="1087.1" cy="255.7" r="3.4" fill="#5a5c77"/>
<circle cx="1039.9" cy="300.0" r="3.4" fill="#92e2ca"/>
<circle cx="1101.1" cy="260.1" r="3.4" fill="#5a5c77"/>
<circle cx="1058.7" cy="245.4" r="3.4" fill="#5a46be"/>
<circle cx="1031.7" cy="214.4" r="3.4" fill="#92e2ca"/>
<circle cx="925.4" cy="246.1" r="3.4" fill="#5a5c77"/>
<circle cx="1046.0" cy="209.3" r="3.4" fill="#d873cc"/>
<circle cx="1135.4" cy="246.5" r="3.4" fill="#92e2ca"/>
<circle cx="1092.0" cy="275.8" r="3.4" fill="#92e2ca"/>
<circle cx="875.7" cy="377.4" r="3.4" fill="#5a5c77"/>
<circle cx="1087.5" cy="304.3" r="3.4" fill="#d873cc"/>
<circle cx="985.3" cy="195.8" r="3.4" fill="#a2ea78"/>
<circle cx="1177.9" cy="298.8" r="3.4" fill="#b5160b"/>
<circle cx="1145.4" cy="318.7" r="3.4" fill="#5a46be"/>
<circle cx="1104.0" cy="265.8" r="3.4" fill="#e8c420"/>
<circle cx="1010.8" cy="257.3" r="3.4" fill="#f15b51"/>
<circle cx="1048.7" cy="360.8" r="3.4" fill="#5a5c77"/>
<circle cx="892.4" cy="284.6" r="3.4" fill="#d873cc"/>
<circle cx="894.9" cy="259.6" r="3.4" fill="#5a5c77"/>
<circle cx="948.2" cy="202.0" r="3.4" fill="#5a46be"/>
<circle cx="1067.6" cy="277.6" r="3.4" fill="#92e2ca"/>
<circle cx="932.2" cy="276.4" r="3.4" fill="#1a1a1a"/>
<circle cx="988.9" cy="267.8" r="3.4" fill="#5a5c77"/>
<circle cx="996.7" cy="291.6" r="3.4" fill="#92e2ca"/>
<circle cx="1090.6" cy="378.7" r="3.4" fill="#5a5c77"/>
<circle cx="1017.4" cy="287.6" r="3.4" fill="#5a5c77"/>
<circle cx="982.2" cy="252.0" r="3.4" fill="#a2ea78"/>
<circle cx="1146.8" cy="278.5" r="3.4" fill="#5a5c77"/>
<circle cx="1083.4" cy="317.9" r="3.4" fill="#a2ea78"/>
<circle cx="1039.5" cy="254.3" r="3.4" fill="#f15b51"/>
<circle cx="1063.3" cy="288.3" r="3.4" fill="#e8c420"/>
<circle cx="1090.6" cy="280.9" r="3.4" fill="#92e2ca"/>
<circle cx="947.0" cy="205.5" r="3.4" fill="#5a5c77"/>
<circle cx="900.6" cy="198.1" r="3.4" fill="#92e2ca"/>
<circle cx="1097.0" cy="295.6" r="3.4" fill="#f15b51"/>
<circle cx="1045.3" cy="164.4" r="3.4" fill="#92e2ca"/>
<circle cx="1020.7" cy="272.6" r="3.4" fill="#e8c420"/>
<circle cx="1037.5" cy="225.2" r="3.4" fill="#d873cc"/>
<circle cx="1186.1" cy="263.8" r="3.4" fill="#d873cc"/>
<circle cx="1043.8" cy="262.9" r="3.4" fill="#d873cc"/>
<circle cx="1104.1" cy="202.3" r="3.4" fill="#d873cc"/>
<circle cx="1097.2" cy="304.9" r="3.4" fill="#5a5c77"/>
<circle cx="1083.3" cy="279.0" r="3.4" fill="#a2ea78"/>
<circle cx="993.1" cy="233.3" r="3.4" fill="#5a5c77"/>
<circle cx="921.9" cy="330.5" r="3.4" fill="#5a5c77"/>
<circle cx="1045.3" cy="243.6" r="3.4" fill="#d873cc"/>
<circle cx="1051.3" cy="345.9" r="3.4" fill="#5c2319"/>
<circle cx="953.8" cy="366.9" r="3.4" fill="#5a5c77"/>
<circle cx="949.4" cy="266.1" r="3.4" fill="#5a5c77"/>
<circle cx="1021.8" cy="302.1" r="3.4" fill="#5a46be"/>
<circle cx="882.3" cy="235.0" r="3.4" fill="#1a1a1a"/>
<circle cx="958.7" cy="274.3" r="3.4" fill="#92e2ca"/>
<circle cx="1090.4" cy="200.7" r="3.4" fill="#a2ea78"/>
<circle cx="963.4" cy="329.3" r="3.4" fill="#d873cc"/>
<circle cx="994.0" cy="314.9" r="3.4" fill="#1a1a1a"/>
<circle cx="1080.5" cy="249.0" r="3.4" fill="#d873cc"/>
<circle cx="941.2" cy="339.2" r="3.4" fill="#a2ea78"/>
<circle cx="1074.0" cy="278.5" r="3.4" fill="#5a5c77"/>
<circle cx="914.9" cy="278.6" r="3.4" fill="#a2ea78"/>
<circle cx="993.0" cy="388.6" r="3.4" fill="#5a5c77"/>
<circle cx="886.4" cy="295.8" r="3.4" fill="#5c2319"/>
<circle cx="1015.8" cy="361.2" r="3.4" fill="#5c2319"/>
<circle cx="1077.7" cy="362.3" r="3.4" fill="#5a5c77"/>
<circle cx="908.4" cy="327.8" r="3.4" fill="#5a5c77"/>
<circle cx="980.7" cy="201.8" r="3.4" fill="#5a5c77"/>
<circle cx="993.8" cy="350.7" r="3.4" fill="#92e2ca"/>
<circle cx="1053.2" cy="217.4" r="3.4" fill="#223163"/>
<circle cx="975.6" cy="303.5" r="3.4" fill="#5a46be"/>
<circle cx="990.3" cy="319.1" r="3.4" fill="#5c2319"/>
<circle cx="1032.7" cy="232.4" r="3.4" fill="#92e2ca"/>
<circle cx="978.0" cy="295.1" r="3.4" fill="#92e2ca"/>
<circle cx="1056.3" cy="262.7" r="3.4" fill="#92e2ca"/>
<circle cx="876.7" cy="327.1" r="3.4" fill="#5a5c77"/>
<circle cx="905.9" cy="350.1" r="3.4" fill="#5a5c77"/>
<circle cx="1107.5" cy="227.5" r="3.4" fill="#1a1a1a"/>
<circle cx="897.9" cy="356.1" r="3.4" fill="#5a5c77"/>
<circle cx="1083.3" cy="342.6" r="3.4" fill="#223163"/>
<circle cx="1097.4" cy="317.3" r="3.4" fill="#92e2ca"/>
<circle cx="896.4" cy="271.4" r="3.4" fill="#e8c420"/>
<circle cx="1031.7" cy="198.2" r="3.4" fill="#a2ea78"/>
<circle cx="1134.9" cy="296.4" r="3.4" fill="#5a5c77"/>
<circle cx="1158.5" cy="322.6" r="3.4" fill="#5a5c77"/>
<circle cx="1136.5" cy="241.8" r="3.4" fill="#5a5c77"/>
<circle cx="1016.7" cy="230.0" r="3.4" fill="#a2ea78"/>
<circle cx="1128.1" cy="275.1" r="3.4" fill="#d873cc"/>
<circle cx="1166.0" cy="281.5" r="3.4" fill="#a2ea78"/>
<circle cx="926.2" cy="329.9" r="3.4" fill="#5a5c77"/>
<circle cx="962.3" cy="224.9" r="3.4" fill="#5a46be"/>
<circle cx="912.5" cy="353.6" r="3.4" fill="#5a5c77"/>
<circle cx="1059.9" cy="203.1" r="3.4" fill="#5a5c77"/>
<circle cx="896.3" cy="363.8" r="3.4" fill="#5a5c77"/>
<circle cx="949.4" cy="255.9" r="3.4" fill="#5a5c77"/>
<circle cx="1107.2" cy="363.4" r="3.4" fill="#5a5c77"/>
<circle cx="909.1" cy="195.0" r="3.4" fill="#d873cc"/>
<circle cx="971.9" cy="282.5" r="3.4" fill="#e8c420"/>
<circle cx="1159.3" cy="229.0" r="3.4" fill="#5a5c77"/>
<circle cx="1060.3" cy="351.8" r="3.4" fill="#5a5c77"/>
<circle cx="1086.9" cy="291.8" r="3.4" fill="#5c2319"/>
<circle cx="1148.2" cy="267.7" r="3.4" fill="#5a46be"/>
<circle cx="1014.5" cy="351.5" r="3.4" fill="#92e2ca"/>
<circle cx="1052.8" cy="300.8" r="3.4" fill="#223163"/>
<circle cx="969.2" cy="356.7" r="3.4" fill="#b5160b"/>
<circle cx="952.4" cy="274.4" r="3.4" fill="#5a5c77"/>
<circle cx="1163.9" cy="297.0" r="3.4" fill="#a2ea78"/>
<circle cx="1021.7" cy="302.0" r="3.4" fill="#223163"/>
<circle cx="1091.4" cy="199.0" r="3.4" fill="#d873cc"/>
<circle cx="979.1" cy="283.0" r="3.4" fill="#5a46be"/>
<circle cx="995.7" cy="256.0" r="3.4" fill="#5a5c77"/>
<circle cx="958.8" cy="221.7" r="3.4" fill="#1a1a1a"/>
<circle cx="1132.4" cy="259.9" r="3.4" fill="#223163"/>
<circle cx="893.8" cy="351.8" r="3.4" fill="#5a5c77"/>
<circle cx="916.0" cy="301.3" r="3.4" fill="#a2ea78"/>
<circle cx="968.1" cy="222.9" r="3.4" fill="#5c2319"/>
<circle cx="931.1" cy="227.6" r="3.4" fill="#5a5c77"/>
<circle cx="962.6" cy="328.2" r="3.4" fill="#5c2319"/>
<circle cx="1078.5" cy="378.9" r="3.4" fill="#5a5c77"/>
<circle cx="980.3" cy="296.6" r="3.4" fill="#1a1a1a"/>
<circle cx="967.2" cy="236.9" r="3.4" fill="#5a5c77"/>
<circle cx="1105.4" cy="207.8" r="3.4" fill="#5c2319"/>
<circle cx="1103.2" cy="249.5" r="3.4" fill="#92e2ca"/>
<circle cx="907.2" cy="256.0" r="3.4" fill="#92e2ca"/>
<circle cx="1063.5" cy="215.9" r="3.4" fill="#223163"/>
<circle cx="1063.4" cy="209.6" r="3.4" fill="#223163"/>
<circle cx="1096.8" cy="331.2" r="3.4" fill="#5a46be"/>
<circle cx="1094.0" cy="294.9" r="3.4" fill="#d873cc"/>
<circle cx="968.2" cy="219.4" r="3.4" fill="#5c2319"/>
<circle cx="973.4" cy="275.6" r="3.4" fill="#5a46be"/>
<circle cx="1086.0" cy="305.4" r="3.4" fill="#223163"/>
<circle cx="1007.3" cy="304.3" r="3.4" fill="#e8c420"/>
<circle cx="983.7" cy="311.5" r="3.4" fill="#f15b51"/>
<circle cx="1137.1" cy="248.3" r="3.4" fill="#5a5c77"/>
<circle cx="970.2" cy="194.6" r="3.4" fill="#5a5c77"/>
<circle cx="929.4" cy="230.8" r="3.4" fill="#92e2ca"/>
<circle cx="941.9" cy="202.5" r="3.4" fill="#a2ea78"/>
<circle cx="1163.6" cy="292.4" r="3.4" fill="#d873cc"/>
<circle cx="992.0" cy="271.6" r="3.4" fill="#d873cc"/>
<circle cx="934.0" cy="277.4" r="3.4" fill="#d873cc"/>
<circle cx="923.0" cy="328.3" r="3.4" fill="#d873cc"/>
<circle cx="979.6" cy="327.4" r="3.4" fill="#223163"/>
<circle cx="1001.2" cy="250.7" r="3.4" fill="#d873cc"/>
<circle cx="1131.8" cy="292.6" r="3.4" fill="#5a5c77"/>
<circle cx="961.6" cy="244.9" r="3.4" fill="#b5160b"/>
<circle cx="975.5" cy="267.0" r="3.4" fill="#e8c420"/>
<circle cx="1026.5" cy="306.1" r="3.4" fill="#5c2319"/>
<circle cx="1083.6" cy="261.3" r="3.4" fill="#a2ea78"/>
<circle cx="917.7" cy="314.6" r="3.4" fill="#223163"/>
<circle cx="963.2" cy="290.6" r="3.4" fill="#223163"/>
<circle cx="1052.4" cy="380.5" r="3.4" fill="#1a1a1a"/>
<circle cx="1098.7" cy="190.9" r="3.4" fill="#5a5c77"/>
<circle cx="1068.6" cy="252.9" r="3.4" fill="#5a46be"/>
<circle cx="1011.5" cy="196.2" r="3.4" fill="#92e2ca"/>
<circle cx="997.3" cy="275.8" r="3.4" fill="#5a46be"/>
<circle cx="1091.1" cy="226.9" r="3.4" fill="#e8c420"/>
<circle cx="956.6" cy="208.0" r="3.4" fill="#5a46be"/>
<circle cx="1032.4" cy="330.2" r="3.4" fill="#5a5c77"/>
<circle cx="1140.2" cy="255.2" r="3.4" fill="#5a46be"/>
<circle cx="1025.5" cy="279.7" r="3.4" fill="#a2ea78"/>
<circle cx="985.1" cy="279.6" r="3.4" fill="#d873cc"/>
<circle cx="947.6" cy="378.8" r="3.4" fill="#5a5c77"/>
<circle cx="965.6" cy="299.7" r="3.4" fill="#d873cc"/>
<circle cx="1082.3" cy="353.7" r="3.4" fill="#5a5c77"/>
<circle cx="1166.1" cy="202.7" r="3.4" fill="#92e2ca"/>
<circle cx="1119.9" cy="306.9" r="3.4" fill="#5a5c77"/>
<circle cx="1072.8" cy="317.5" r="3.4" fill="#92e2ca"/>
<circle cx="1006.1" cy="362.3" r="3.4" fill="#5a5c77"/>
<circle cx="996.1" cy="231.0" r="3.4" fill="#5a5c77"/>
<circle cx="1174.3" cy="247.8" r="3.4" fill="#a2ea78"/>
<circle cx="1078.7" cy="285.2" r="3.4" fill="#d873cc"/>
<circle cx="1070.1" cy="348.0" r="3.4" fill="#f15b51"/>
<circle cx="1079.8" cy="275.8" r="3.4" fill="#92e2ca"/>
<circle cx="1035.5" cy="223.9" r="3.4" fill="#b5160b"/>
<circle cx="948.2" cy="275.5" r="3.4" fill="#5a46be"/>
<circle cx="1109.4" cy="270.3" r="3.4" fill="#92e2ca"/>
<circle cx="914.3" cy="354.3" r="3.4" fill="#5a5c77"/>
<circle cx="905.5" cy="275.5" r="3.4" fill="#5c2319"/>
<circle cx="961.5" cy="218.8" r="3.4" fill="#a2ea78"/>
<circle cx="942.8" cy="244.1" r="3.4" fill="#92e2ca"/>
<circle cx="1076.7" cy="213.8" r="3.4" fill="#5a46be"/>
<circle cx="929.2" cy="216.2" r="3.4" fill="#5c2319"/>
<circle cx="984.3" cy="371.8" r="3.4" fill="#1a1a1a"/>
<circle cx="912.3" cy="335.0" r="3.4" fill="#a2ea78"/>
<circle cx="954.6" cy="275.1" r="3.4" fill="#b5160b"/>
<circle cx="957.9" cy="217.6" r="3.4" fill="#d873cc"/>
<circle cx="879.3" cy="272.7" r="3.4" fill="#d873cc"/>
<circle cx="926.5" cy="334.4" r="3.4" fill="#223163"/>
<circle cx="981.4" cy="338.4" r="3.4" fill="#5a5c77"/>
<circle cx="980.3" cy="155.5" r="3.4" fill="#1a1a1a"/>
<circle cx="940.1" cy="231.1" r="3.4" fill="#a2ea78"/>
<circle cx="1115.2" cy="319.0" r="3.4" fill="#5a5c77"/>
<circle cx="1004.7" cy="301.0" r="3.4" fill="#5a46be"/>
<circle cx="984.8" cy="271.4" r="3.4" fill="#5c2319"/>
<circle cx="1041.7" cy="220.7" r="3.4" fill="#92e2ca"/>
<circle cx="913.5" cy="211.8" r="3.4" fill="#223163"/>
<circle cx="952.3" cy="351.0" r="3.4" fill="#5a5c77"/>
<circle cx="984.2" cy="274.8" r="3.4" fill="#1a1a1a"/>
<circle cx="973.0" cy="261.9" r="3.4" fill="#5a46be"/>
<circle cx="992.2" cy="258.5" r="3.4" fill="#5a5c77"/>
<circle cx="1013.4" cy="326.3" r="3.4" fill="#1a1a1a"/>
<circle cx="900.8" cy="298.1" r="3.4" fill="#92e2ca"/>
<circle cx="992.0" cy="212.9" r="3.4" fill="#e8c420"/>
<circle cx="1162.1" cy="238.5" r="3.4" fill="#5a46be"/>
<circle cx="1056.0" cy="257.7" r="3.4" fill="#1a1a1a"/>
<circle cx="1081.5" cy="330.5" r="3.4" fill="#a2ea78"/>
<circle cx="997.3" cy="246.9" r="3.4" fill="#223163"/>
<circle cx="1170.8" cy="255.1" r="3.4" fill="#5c2319"/>
<circle cx="1151.2" cy="210.7" r="3.4" fill="#5a5c77"/>
<circle cx="1030.4" cy="284.4" r="3.4" fill="#a2ea78"/>
<circle cx="1075.2" cy="351.2" r="3.4" fill="#1a1a1a"/>
<circle cx="1177.1" cy="296.6" r="3.4" fill="#f15b51"/>
<circle cx="1071.4" cy="259.4" r="3.4" fill="#92e2ca"/>
<circle cx="1094.9" cy="228.6" r="3.4" fill="#92e2ca"/>
<circle cx="992.5" cy="178.3" r="3.4" fill="#1a1a1a"/>
<circle cx="1035.2" cy="151.5" r="3.4" fill="#1a1a1a"/>
<circle cx="1105.5" cy="210.1" r="3.4" fill="#a2ea78"/>
<circle cx="1036.3" cy="366.2" r="3.4" fill="#5a5c77"/>
<circle cx="1001.6" cy="317.6" r="3.4" fill="#1a1a1a"/>
<circle cx="1025.2" cy="330.2" r="3.4" fill="#1a1a1a"/>
<circle cx="1103.4" cy="316.3" r="3.4" fill="#92e2ca"/>
<circle cx="1081.1" cy="293.2" r="3.4" fill="#d873cc"/>
<circle cx="913.5" cy="270.4" r="3.4" fill="#a2ea78"/>
<circle cx="1038.6" cy="254.3" r="3.4" fill="#e8c420"/>
<circle cx="1178.5" cy="258.7" r="3.4" fill="#223163"/>
<circle cx="1046.3" cy="217.1" r="3.4" fill="#a2ea78"/>
<circle cx="884.5" cy="244.4" r="3.4" fill="#5a5c77"/>
<circle cx="881.2" cy="249.5" r="3.4" fill="#92e2ca"/>
<circle cx="957.2" cy="313.8" r="3.4" fill="#92e2ca"/>
<circle cx="997.3" cy="261.0" r="3.4" fill="#223163"/>
<circle cx="998.6" cy="344.6" r="3.4" fill="#b5160b"/>
<circle cx="971.3" cy="280.4" r="3.4" fill="#1a1a1a"/>
<circle cx="1028.2" cy="244.1" r="3.4" fill="#5a5c77"/>
<circle cx="1018.4" cy="258.3" r="3.4" fill="#f15b51"/>
<circle cx="1160.9" cy="261.7" r="3.4" fill="#92e2ca"/>
<circle cx="1077.8" cy="275.6" r="3.4" fill="#5a5c77"/>
<circle cx="916.3" cy="233.2" r="3.4" fill="#223163"/>
<circle cx="925.2" cy="343.8" r="3.4" fill="#1a1a1a"/>
<circle cx="914.9" cy="285.7" r="3.4" fill="#223163"/>
<circle cx="873.4" cy="228.2" r="3.4" fill="#92e2ca"/>
<circle cx="930.3" cy="350.6" r="3.4" fill="#1a1a1a"/>
<circle cx="1029.2" cy="319.8" r="3.4" fill="#e8c420"/>
<circle cx="1160.5" cy="254.8" r="3.4" fill="#223163"/>
<circle cx="919.9" cy="333.6" r="3.4" fill="#a2ea78"/>
<circle cx="1160.2" cy="315.1" r="3.4" fill="#d873cc"/>
<circle cx="1168.5" cy="296.9" r="3.4" fill="#5a46be"/>
<circle cx="993.0" cy="263.1" r="3.4" fill="#5c2319"/>
<circle cx="1090.2" cy="289.5" r="3.4" fill="#d873cc"/>
<circle cx="1069.3" cy="361.7" r="3.4" fill="#1a1a1a"/>
<circle cx="949.3" cy="329.6" r="3.4" fill="#1a1a1a"/>
<circle cx="981.6" cy="272.3" r="3.4" fill="#5a46be"/>
<circle cx="1090.7" cy="265.5" r="3.4" fill="#5c2319"/>
<circle cx="934.5" cy="317.0" r="3.4" fill="#5a5c77"/>
<circle cx="1008.4" cy="260.4" r="3.4" fill="#b5160b"/>
<circle cx="1127.7" cy="281.2" r="3.4" fill="#5a5c77"/>
<circle cx="954.4" cy="197.3" r="3.4" fill="#1a1a1a"/>
<circle cx="996.4" cy="168.4" r="3.4" fill="#92e2ca"/>
<circle cx="1018.4" cy="197.0" r="3.4" fill="#5c2319"/>
<circle cx="1047.1" cy="353.5" r="3.4" fill="#92e2ca"/>
<circle cx="900.2" cy="316.1" r="3.4" fill="#a2ea78"/>
<circle cx="1060.7" cy="303.1" r="3.4" fill="#a2ea78"/>
<circle cx="955.9" cy="211.3" r="3.4" fill="#d873cc"/>
<circle cx="920.7" cy="205.0" r="3.4" fill="#d873cc"/>
<circle cx="927.8" cy="170.8" r="3.4" fill="#e8c420"/>
<circle cx="1085.6" cy="242.0" r="3.4" fill="#1a1a1a"/>
<circle cx="892.3" cy="259.8" r="3.4" fill="#5a5c77"/>
<circle cx="938.9" cy="234.1" r="3.4" fill="#5a46be"/>
<circle cx="1140.9" cy="221.5" r="3.4" fill="#a2ea78"/>
<circle cx="1089.5" cy="279.5" r="3.4" fill="#223163"/>
<circle cx="1071.2" cy="308.1" r="3.4" fill="#e8c420"/>
<circle cx="966.5" cy="268.8" r="3.4" fill="#5a5c77"/>
<circle cx="1098.0" cy="263.1" r="3.4" fill="#e8c420"/>
<circle cx="1121.7" cy="367.3" r="3.4" fill="#5a5c77"/>
<circle cx="1059.7" cy="307.2" r="3.4" fill="#92e2ca"/>
<circle cx="903.8" cy="316.4" r="3.4" fill="#92e2ca"/>
<circle cx="1033.5" cy="192.1" r="3.4" fill="#5a46be"/>
<circle cx="1040.0" cy="166.2" r="3.4" fill="#223163"/>
<circle cx="1028.4" cy="256.7" r="3.4" fill="#92e2ca"/>
<circle cx="1025.7" cy="336.9" r="3.4" fill="#d873cc"/>
<circle cx="1063.2" cy="279.2" r="3.4" fill="#223163"/>
<circle cx="1020.6" cy="335.4" r="3.4" fill="#5a5c77"/>
<circle cx="1035.5" cy="308.7" r="3.4" fill="#92e2ca"/>
<circle cx="1059.0" cy="337.1" r="3.4" fill="#e8c420"/>
<circle cx="1089.1" cy="389.5" r="3.4" fill="#1a1a1a"/>
<circle cx="1025.6" cy="215.6" r="3.4" fill="#1a1a1a"/>
<circle cx="1123.1" cy="266.2" r="3.4" fill="#e8c420"/>
<circle cx="1139.4" cy="268.5" r="3.4" fill="#1a1a1a"/>
<circle cx="1138.5" cy="186.7" r="3.4" fill="#1a1a1a"/>
<circle cx="986.9" cy="272.7" r="3.4" fill="#5a5c77"/>
<circle cx="1026.3" cy="210.9" r="3.4" fill="#223163"/>
<circle cx="1108.8" cy="310.3" r="3.4" fill="#a2ea78"/>
<circle cx="1080.1" cy="308.2" r="3.4" fill="#5a5c77"/>
<circle cx="929.3" cy="314.1" r="3.4" fill="#1a1a1a"/>
<circle cx="977.9" cy="249.5" r="3.4" fill="#e8c420"/>
<circle cx="1115.4" cy="337.1" r="3.4" fill="#a2ea78"/>
<circle cx="1130.6" cy="327.5" r="3.4" fill="#a2ea78"/>
<circle cx="1130.8" cy="227.1" r="3.4" fill="#1a1a1a"/>
<circle cx="1023.0" cy="288.3" r="3.4" fill="#d873cc"/>
<circle cx="1063.6" cy="244.7" r="3.4" fill="#1a1a1a"/>
<circle cx="1160.7" cy="285.4" r="3.4" fill="#92e2ca"/>
<circle cx="1058.7" cy="299.8" r="3.4" fill="#e8c420"/>
<circle cx="980.1" cy="247.4" r="3.4" fill="#a2ea78"/>
<circle cx="1122.1" cy="316.3" r="3.4" fill="#92e2ca"/>
<circle cx="1036.1" cy="262.1" r="3.4" fill="#5a46be"/>
<circle cx="1044.2" cy="274.7" r="3.4" fill="#a2ea78"/>
<circle cx="1009.6" cy="362.2" r="3.4" fill="#1a1a1a"/>
<circle cx="864.6" cy="218.8" r="3.4" fill="#f15b51"/>
<circle cx="1009.1" cy="250.3" r="3.4" fill="#92e2ca"/>
<circle cx="999.7" cy="289.5" r="3.4" fill="#5a46be"/>
<circle cx="1038.1" cy="237.1" r="3.4" fill="#e8c420"/>
<circle cx="934.2" cy="300.4" r="3.4" fill="#1a1a1a"/>
<circle cx="989.0" cy="269.5" r="3.4" fill="#5c2319"/>
<circle cx="949.5" cy="252.7" r="3.4" fill="#e8c420"/>
<circle cx="890.0" cy="310.8" r="3.4" fill="#92e2ca"/>
<circle cx="1030.9" cy="242.0" r="3.4" fill="#e8c420"/>
<circle cx="1065.8" cy="202.2" r="3.4" fill="#1a1a1a"/>
<circle cx="1076.6" cy="259.4" r="3.4" fill="#92e2ca"/>
<circle cx="1002.3" cy="215.1" r="3.4" fill="#223163"/>
<circle cx="860.1" cy="280.7" r="3.4" fill="#5a46be"/>
<circle cx="1050.0" cy="279.2" r="3.4" fill="#e8c420"/>
<circle cx="875.5" cy="270.1" r="3.4" fill="#d873cc"/>
<circle cx="1105.6" cy="208.4" r="3.4" fill="#5a5c77"/>
<circle cx="955.4" cy="357.9" r="3.4" fill="#5a5c77"/>
<circle cx="976.5" cy="279.9" r="3.4" fill="#e8c420"/>
<circle cx="1166.2" cy="262.7" r="3.4" fill="#1a1a1a"/>
<circle cx="1083.1" cy="245.3" r="3.4" fill="#e8c420"/>
<circle cx="866.8" cy="268.1" r="3.4" fill="#92e2ca"/>
<circle cx="977.5" cy="264.0" r="3.4" fill="#1a1a1a"/>
<circle cx="1052.3" cy="318.5" r="3.4" fill="#223163"/>
<circle cx="981.2" cy="348.6" r="3.4" fill="#1a1a1a"/>
<circle cx="1045.2" cy="256.2" r="3.4" fill="#223163"/>
<circle cx="996.9" cy="333.1" r="3.4" fill="#5a5c77"/>
<circle cx="889.3" cy="269.1" r="3.4" fill="#e8c420"/>
<circle cx="1076.6" cy="225.5" r="3.4" fill="#92e2ca"/>
<circle cx="969.0" cy="299.9" r="3.4" fill="#5a46be"/>
<circle cx="983.3" cy="320.8" r="3.4" fill="#1a1a1a"/>
<circle cx="902.3" cy="185.5" r="3.4" fill="#1a1a1a"/>
<circle cx="977.3" cy="299.7" r="3.4" fill="#e8c420"/>
<circle cx="896.5" cy="286.2" r="3.4" fill="#92e2ca"/>
<circle cx="967.5" cy="229.1" r="3.4" fill="#f15b51"/>
<circle cx="1158.4" cy="279.0" r="3.4" fill="#e8c420"/>
<circle cx="1021.5" cy="236.8" r="3.4" fill="#e8c420"/>
<circle cx="1046.9" cy="204.8" r="3.4" fill="#5c2319"/>
<circle cx="1107.1" cy="275.7" r="3.4" fill="#5c2319"/>
<circle cx="1105.8" cy="256.4" r="3.4" fill="#5a46be"/>
<circle cx="957.9" cy="226.1" r="3.4" fill="#223163"/>
<circle cx="1048.9" cy="243.0" r="3.4" fill="#1a1a1a"/>
<circle cx="1042.1" cy="267.0" r="3.4" fill="#a2ea78"/>
<circle cx="1137.9" cy="294.2" r="3.4" fill="#e8c420"/>
<circle cx="1018.6" cy="281.6" r="3.4" fill="#92e2ca"/>
<circle cx="976.5" cy="311.8" r="3.4" fill="#92e2ca"/>
<circle cx="964.1" cy="254.4" r="3.4" fill="#e8c420"/>
<circle cx="1016.9" cy="373.1" r="3.4" fill="#1a1a1a"/>
<circle cx="973.6" cy="375.5" r="3.4" fill="#92e2ca"/>
<circle cx="911.4" cy="285.4" r="3.4" fill="#e8c420"/>
<circle cx="1092.2" cy="239.2" r="3.4" fill="#92e2ca"/>
<circle cx="937.2" cy="275.6" r="3.4" fill="#92e2ca"/>
<circle cx="884.0" cy="240.4" r="3.4" fill="#e8c420"/>
<circle cx="1033.8" cy="259.3" r="3.4" fill="#1a1a1a"/>
<circle cx="962.2" cy="221.1" r="3.4" fill="#e8c420"/>
<circle cx="953.6" cy="307.5" r="3.4" fill="#e8c420"/>
<circle cx="1033.4" cy="255.1" r="3.4" fill="#e8c420"/>
<circle cx="1111.9" cy="313.2" r="3.4" fill="#a2ea78"/>
<circle cx="1038.9" cy="244.8" r="3.4" fill="#1a1a1a"/>
<circle cx="984.1" cy="222.2" r="3.4" fill="#223163"/>
<circle cx="1025.6" cy="240.0" r="3.4" fill="#e8c420"/>
<circle cx="919.3" cy="316.2" r="3.4" fill="#e8c420"/>
<circle cx="975.6" cy="261.3" r="3.4" fill="#a2ea78"/>
<circle cx="1029.4" cy="258.5" r="3.4" fill="#5a46be"/>
<circle cx="900.3" cy="234.0" r="3.4" fill="#5a46be"/>
<circle cx="958.1" cy="255.7" r="3.4" fill="#1a1a1a"/>
<circle cx="1049.6" cy="226.1" r="3.4" fill="#a2ea78"/>
<circle cx="1031.6" cy="291.5" r="3.4" fill="#223163"/>
<circle cx="944.3" cy="251.0" r="3.4" fill="#e8c420"/>
<circle cx="861.8" cy="276.3" r="3.4" fill="#a2ea78"/>
<circle cx="935.7" cy="258.1" r="3.4" fill="#5a5c77"/>
<circle cx="1013.9" cy="332.5" r="3.4" fill="#e8c420"/>
<circle cx="1091.5" cy="226.0" r="3.4" fill="#d3d3d3"/>
<circle cx="929.6" cy="282.0" r="3.4" fill="#92e2ca"/>
<circle cx="906.9" cy="297.9" r="3.4" fill="#e8c420"/>
<circle cx="1062.0" cy="332.5" r="3.4" fill="#e8c420"/>
<circle cx="1063.3" cy="227.6" r="3.4" fill="#92e2ca"/>
<circle cx="1091.9" cy="191.5" r="3.4" fill="#5a5c77"/>
<circle cx="1014.1" cy="294.3" r="3.4" fill="#e8c420"/>
<circle cx="1054.0" cy="343.2" r="3.4" fill="#a2ea78"/>
<circle cx="984.0" cy="231.4" r="3.4" fill="#223163"/>
<circle cx="1042.7" cy="276.0" r="3.4" fill="#e8c420"/>
<circle cx="954.8" cy="306.7" r="3.4" fill="#1a1a1a"/>
<circle cx="1066.8" cy="212.9" r="3.4" fill="#1a1a1a"/>
<circle cx="893.6" cy="312.6" r="3.4" fill="#1a1a1a"/>
<circle cx="1068.9" cy="210.0" r="3.4" fill="#1a1a1a"/>
<circle cx="1019.1" cy="305.7" r="3.4" fill="#223163"/>
<circle cx="909.2" cy="237.4" r="3.4" fill="#92e2ca"/>
<circle cx="1040.8" cy="295.5" r="3.4" fill="#e8c420"/>
<circle cx="1037.4" cy="316.4" r="3.4" fill="#1a1a1a"/>
<circle cx="916.3" cy="317.6" r="3.4" fill="#5a46be"/>
<circle cx="965.2" cy="312.4" r="3.4" fill="#1a1a1a"/>
<circle cx="1024.6" cy="349.1" r="3.4" fill="#1a1a1a"/>
<circle cx="1142.6" cy="307.0" r="3.4" fill="#e8c420"/>
<circle cx="1040.5" cy="265.4" r="3.4" fill="#5a46be"/>
<circle cx="1092.3" cy="297.9" r="3.4" fill="#a2ea78"/>
<circle cx="1093.2" cy="199.8" r="3.4" fill="#e8c420"/>
<circle cx="1026.9" cy="213.4" r="3.4" fill="#223163"/>
<circle cx="1012.9" cy="276.0" r="3.4" fill="#1a1a1a"/>
<circle cx="1054.6" cy="231.0" r="3.4" fill="#1a1a1a"/>
<circle cx="953.7" cy="375.1" r="3.4" fill="#1a1a1a"/>
<circle cx="929.7" cy="258.1" r="3.4" fill="#e8c420"/>
<circle cx="1064.8" cy="310.5" r="3.4" fill="#223163"/>
<circle cx="1136.3" cy="337.8" r="3.4" fill="#d873cc"/>
<circle cx="876.0" cy="289.1" r="3.4" fill="#d873cc"/>
<circle cx="1073.3" cy="243.1" r="3.4" fill="#1a1a1a"/>
<circle cx="1089.6" cy="286.5" r="3.4" fill="#a2ea78"/>
<circle cx="898.2" cy="255.3" r="3.4" fill="#223163"/>
<circle cx="1073.8" cy="298.8" r="3.4" fill="#e8c420"/>
<circle cx="1037.1" cy="198.4" r="3.4" fill="#5c2319"/>
<circle cx="973.2" cy="378.9" r="3.4" fill="#5a5c77"/>
<circle cx="998.3" cy="360.4" r="3.4" fill="#1a1a1a"/>
<circle cx="912.0" cy="326.3" r="3.4" fill="#92e2ca"/>
<circle cx="1108.7" cy="236.0" r="3.4" fill="#223163"/>
<circle cx="1004.8" cy="233.7" r="3.4" fill="#d3d3d3"/>
<circle cx="1081.7" cy="344.9" r="3.4" fill="#1a1a1a"/>
<circle cx="981.5" cy="220.7" r="3.4" fill="#5c2319"/>
<circle cx="1007.7" cy="321.2" r="3.4" fill="#92e2ca"/>
<circle cx="929.6" cy="307.8" r="3.4" fill="#5c2319"/>
<circle cx="1017.4" cy="292.4" r="3.4" fill="#92e2ca"/>
<circle cx="929.8" cy="295.6" r="3.4" fill="#1a1a1a"/>
<circle cx="1172.7" cy="235.3" r="3.4" fill="#1a1a1a"/>
<circle cx="1124.0" cy="222.3" r="3.4" fill="#a2ea78"/>
<circle cx="1053.1" cy="224.0" r="3.4" fill="#92e2ca"/>
<circle cx="884.3" cy="299.4" r="3.4" fill="#92e2ca"/>
<circle cx="1004.9" cy="253.2" r="3.4" fill="#223163"/>
<circle cx="955.9" cy="248.1" r="3.4" fill="#92e2ca"/>
<circle cx="925.0" cy="241.5" r="3.4" fill="#5a46be"/>
<circle cx="1014.7" cy="293.4" r="3.4" fill="#5a46be"/>
<circle cx="976.0" cy="216.0" r="3.4" fill="#e8c420"/>
<circle cx="1025.7" cy="290.0" r="3.4" fill="#92e2ca"/>
<circle cx="1133.6" cy="225.3" r="3.4" fill="#223163"/>
<circle cx="1057.3" cy="215.7" r="3.4" fill="#223163"/>
<circle cx="881.6" cy="273.6" r="3.4" fill="#e8c420"/>
<circle cx="1005.1" cy="241.6" r="3.4" fill="#223163"/>
<circle cx="976.2" cy="325.5" r="3.4" fill="#e8c420"/>
<circle cx="1098.6" cy="325.0" r="3.4" fill="#e8c420"/>
<circle cx="977.7" cy="327.2" r="3.4" fill="#92e2ca"/>
<circle cx="901.0" cy="271.0" r="3.4" fill="#223163"/>
<circle cx="1085.5" cy="272.9" r="3.4" fill="#e8c420"/>
<circle cx="968.2" cy="235.4" r="3.4" fill="#92e2ca"/>
<circle cx="1043.5" cy="266.9" r="3.4" fill="#d3d3d3"/>
<circle cx="1052.7" cy="271.1" r="3.4" fill="#e8c420"/>
<circle cx="1114.0" cy="288.3" r="3.4" fill="#e8c420"/>
<circle cx="965.8" cy="328.8" r="3.4" fill="#a2ea78"/>
<circle cx="1077.5" cy="228.7" r="3.4" fill="#1a1a1a"/>
<circle cx="1050.7" cy="258.3" r="3.4" fill="#223163"/>
<circle cx="1115.9" cy="357.4" r="3.4" fill="#5a5c77"/>
<circle cx="1159.0" cy="283.8" r="3.4" fill="#1a1a1a"/>
<circle cx="905.1" cy="251.1" r="3.4" fill="#5a5c77"/>
<circle cx="1060.0" cy="261.3" r="3.4" fill="#e8c420"/>
<circle cx="1021.2" cy="213.7" r="3.4" fill="#d3d3d3"/>
<circle cx="992.6" cy="205.1" r="3.4" fill="#e8c420"/>
<circle cx="1046.0" cy="269.2" r="3.4" fill="#e8c420"/>
<circle cx="1154.0" cy="253.0" r="3.4" fill="#223163"/>
<circle cx="987.4" cy="258.4" r="3.4" fill="#a2ea78"/>
<circle cx="1061.2" cy="303.5" r="3.4" fill="#a2ea78"/>
<circle cx="1117.9" cy="248.3" r="3.4" fill="#e8c420"/>
<circle cx="999.7" cy="332.1" r="3.4" fill="#223163"/>
<circle cx="963.3" cy="329.1" r="3.4" fill="#e8c420"/>
<circle cx="946.0" cy="322.3" r="3.4" fill="#223163"/>
<circle cx="1052.2" cy="333.6" r="3.4" fill="#a2ea78"/>
<circle cx="1085.2" cy="280.3" r="3.4" fill="#e8c420"/>
<circle cx="1036.4" cy="159.5" r="3.4" fill="#1a1a1a"/>
<circle cx="1015.2" cy="323.7" r="3.4" fill="#e8c420"/>
<circle cx="1010.7" cy="222.9" r="3.4" fill="#1a1a1a"/>
<circle cx="1060.2" cy="223.6" r="3.4" fill="#e8c420"/>
<circle cx="1110.0" cy="294.2" r="3.4" fill="#e8c420"/>
<circle cx="905.6" cy="254.7" r="3.4" fill="#1a1a1a"/>
<circle cx="1092.9" cy="226.1" r="3.4" fill="#e8c420"/>
<circle cx="1160.4" cy="278.2" r="3.4" fill="#223163"/>
<circle cx="941.4" cy="229.3" r="3.4" fill="#d3d3d3"/>
<circle cx="900.9" cy="315.7" r="3.4" fill="#e8c420"/>
<circle cx="1138.6" cy="210.5" r="3.4" fill="#d873cc"/>
<circle cx="924.9" cy="309.7" r="3.4" fill="#d3d3d3"/>
<circle cx="1046.5" cy="209.4" r="3.4" fill="#e8c420"/>
<circle cx="1031.2" cy="255.5" r="3.4" fill="#92e2ca"/>
<circle cx="1160.8" cy="240.9" r="3.4" fill="#e8c420"/>
<circle cx="1014.0" cy="311.6" r="3.4" fill="#e8c420"/>
<circle cx="886.7" cy="281.0" r="3.4" fill="#e8c420"/>
<circle cx="1102.2" cy="322.3" r="3.4" fill="#223163"/>
<circle cx="1130.3" cy="296.4" r="3.4" fill="#92e2ca"/>
<circle cx="1016.3" cy="264.8" r="3.4" fill="#1a1a1a"/>
<circle cx="1048.4" cy="281.7" r="3.4" fill="#92e2ca"/>
<circle cx="923.0" cy="254.8" r="3.4" fill="#e8c420"/>
<circle cx="1009.0" cy="221.9" r="3.4" fill="#e8c420"/>
<circle cx="1090.4" cy="318.2" r="3.4" fill="#223163"/>
<circle cx="1122.0" cy="226.0" r="3.4" fill="#e8c420"/>
<circle cx="874.4" cy="273.9" r="3.4" fill="#223163"/>
<circle cx="1000.6" cy="209.9" r="3.4" fill="#e8c420"/>
<circle cx="1013.0" cy="268.4" r="3.4" fill="#92e2ca"/>
<circle cx="1001.6" cy="156.9" r="3.4" fill="#1a1a1a"/>
<circle cx="1010.6" cy="233.6" r="3.4" fill="#92e2ca"/>
<circle cx="1137.3" cy="297.4" r="3.4" fill="#d3d3d3"/>
<circle cx="1025.2" cy="285.1" r="3.4" fill="#223163"/>
<circle cx="1134.5" cy="320.7" r="3.4" fill="#223163"/>
<circle cx="1034.4" cy="253.5" r="3.4" fill="#e8c420"/>
<circle cx="988.2" cy="283.7" r="3.4" fill="#a2ea78"/>
<circle cx="1047.0" cy="324.3" r="3.4" fill="#1a1a1a"/>
<circle cx="966.2" cy="336.9" r="3.4" fill="#92e2ca"/>
<circle cx="943.6" cy="228.5" r="3.4" fill="#e8c420"/>
<circle cx="1182.9" cy="249.1" r="3.4" fill="#e8c420"/>
<circle cx="994.7" cy="322.3" r="3.4" fill="#223163"/>
<circle cx="997.8" cy="264.9" r="3.4" fill="#223163"/>
<circle cx="1108.6" cy="337.0" r="3.4" fill="#5a46be"/>
<circle cx="909.8" cy="293.2" r="3.4" fill="#223163"/>
<circle cx="1073.8" cy="263.5" r="3.4" fill="#d3d3d3"/>
<circle cx="885.2" cy="197.9" r="3.4" fill="#1a1a1a"/>
<circle cx="1002.2" cy="228.5" r="3.4" fill="#e8c420"/>
<circle cx="967.4" cy="262.7" r="3.4" fill="#d3d3d3"/>
<circle cx="1038.4" cy="286.0" r="3.4" fill="#1a1a1a"/>
<circle cx="1005.3" cy="221.6" r="3.4" fill="#223163"/>
<circle cx="1009.7" cy="180.4" r="3.4" fill="#1a1a1a"/>
<circle cx="1103.6" cy="310.6" r="3.4" fill="#223163"/>
<circle cx="1076.8" cy="239.7" r="3.4" fill="#e8c420"/>
<circle cx="961.1" cy="249.7" r="3.4" fill="#e8c420"/>
<circle cx="1046.0" cy="335.1" r="3.4" fill="#1a1a1a"/>
<circle cx="1073.4" cy="313.8" r="3.4" fill="#92e2ca"/>
<circle cx="1047.2" cy="355.0" r="3.4" fill="#223163"/>
<circle cx="1093.8" cy="304.6" r="3.4" fill="#e8c420"/>
<circle cx="965.1" cy="326.3" r="3.4" fill="#e8c420"/>
<circle cx="1150.1" cy="246.8" r="3.4" fill="#e8c420"/>
<circle cx="1096.4" cy="244.3" r="3.4" fill="#92e2ca"/>
<circle cx="1008.3" cy="344.9" r="3.4" fill="#5a46be"/>
<circle cx="944.0" cy="339.9" r="3.4" fill="#223163"/>
<circle cx="939.8" cy="283.4" r="3.4" fill="#e8c420"/>
<circle cx="1015.0" cy="284.1" r="3.4" fill="#223163"/>
<circle cx="1081.8" cy="263.8" r="3.4" fill="#e8c420"/>
<circle cx="1086.9" cy="257.9" r="3.4" fill="#e8c420"/>
<circle cx="989.1" cy="335.3" r="3.4" fill="#223163"/>
<circle cx="1079.5" cy="169.9" r="3.4" fill="#1a1a1a"/>
<circle cx="964.4" cy="303.8" r="3.4" fill="#e8c420"/>
<circle cx="1000.7" cy="232.5" r="3.4" fill="#d3d3d3"/>
<circle cx="1004.4" cy="290.7" r="3.4" fill="#e8c420"/>
<circle cx="1019.2" cy="195.2" r="3.4" fill="#223163"/>
<circle cx="1022.7" cy="333.3" r="3.4" fill="#d3d3d3"/>
<circle cx="958.0" cy="265.4" r="3.4" fill="#5c2319"/>
<circle cx="957.8" cy="233.2" r="3.4" fill="#92e2ca"/>
<circle cx="1039.8" cy="257.0" r="3.4" fill="#d3d3d3"/>
<circle cx="986.9" cy="285.3" r="3.4" fill="#d3d3d3"/>
<circle cx="1110.4" cy="224.8" r="3.4" fill="#5a46be"/>
<circle cx="1024.4" cy="271.3" r="3.4" fill="#e8c420"/>
<circle cx="1112.2" cy="260.4" r="3.4" fill="#e8c420"/>
<circle cx="1122.9" cy="198.4" r="3.4" fill="#1a1a1a"/>
<circle cx="892.8" cy="257.5" r="3.4" fill="#d3d3d3"/>
<circle cx="878.2" cy="220.0" r="3.4" fill="#e8c420"/>
<circle cx="933.2" cy="206.4" r="3.4" fill="#223163"/>
<circle cx="953.0" cy="209.3" r="3.4" fill="#e8c420"/>
<circle cx="998.6" cy="307.8" r="3.4" fill="#e8c420"/>
<circle cx="1099.5" cy="245.4" r="3.4" fill="#a2ea78"/>
<circle cx="1044.0" cy="311.5" r="3.4" fill="#e8c420"/>
<circle cx="952.4" cy="177.0" r="3.4" fill="#223163"/>
<circle cx="1102.0" cy="255.1" r="3.4" fill="#e8c420"/>
<circle cx="961.7" cy="239.0" r="3.4" fill="#e8c420"/>
<circle cx="1078.7" cy="279.9" r="3.4" fill="#e8c420"/>
<circle cx="1151.6" cy="251.1" r="3.4" fill="#1a1a1a"/>
<circle cx="1102.3" cy="272.1" r="3.4" fill="#1a1a1a"/>
<circle cx="1156.9" cy="221.0" r="3.4" fill="#e8c420"/>
<circle cx="1137.0" cy="280.4" r="3.4" fill="#e8c420"/>
<circle cx="993.5" cy="308.4" r="3.4" fill="#d3d3d3"/>
<circle cx="1019.6" cy="375.3" r="3.4" fill="#a2ea78"/>
<circle cx="1084.3" cy="243.5" r="3.4" fill="#92e2ca"/>
<circle cx="957.7" cy="291.5" r="3.4" fill="#a2ea78"/>
<circle cx="1011.9" cy="263.4" r="3.4" fill="#e8c420"/>
<circle cx="1039.8" cy="276.6" r="3.4" fill="#a2ea78"/>
<circle cx="902.9" cy="298.2" r="3.4" fill="#e8c420"/>
<circle cx="1022.2" cy="296.8" r="3.4" fill="#d3d3d3"/>
<circle cx="958.0" cy="358.2" r="3.4" fill="#a2ea78"/>
<circle cx="1130.2" cy="325.1" r="3.4" fill="#d3d3d3"/>
<circle cx="1112.6" cy="215.4" r="3.4" fill="#1a1a1a"/>
<circle cx="921.7" cy="292.2" r="3.4" fill="#e8c420"/>
<circle cx="1055.7" cy="319.9" r="3.4" fill="#223163"/>
<circle cx="1014.9" cy="229.7" r="3.4" fill="#a2ea78"/>
<circle cx="853.4" cy="261.4" r="3.4" fill="#a2ea78"/>
<circle cx="1046.5" cy="219.0" r="3.4" fill="#223163"/>
<circle cx="1032.0" cy="287.0" r="3.4" fill="#e8c420"/>
<circle cx="1015.0" cy="220.5" r="3.4" fill="#1a1a1a"/>
<circle cx="1086.5" cy="210.4" r="3.4" fill="#e8c420"/>
<circle cx="977.7" cy="268.9" r="3.4" fill="#e8c420"/>
<circle cx="1021.6" cy="272.0" r="3.4" fill="#e8c420"/>
<circle cx="1025.2" cy="196.5" r="3.4" fill="#5a46be"/>
<circle cx="887.2" cy="260.4" r="3.4" fill="#223163"/>
<circle cx="1115.6" cy="274.9" r="3.4" fill="#223163"/>
<circle cx="1048.1" cy="271.4" r="3.4" fill="#92e2ca"/>
<circle cx="980.8" cy="196.8" r="3.4" fill="#223163"/>
<circle cx="935.1" cy="217.4" r="3.4" fill="#a2ea78"/>
<circle cx="1070.0" cy="270.9" r="3.4" fill="#e8c420"/>
<circle cx="1055.1" cy="280.3" r="3.4" fill="#d3d3d3"/>
<circle cx="1113.0" cy="219.0" r="3.4" fill="#a2ea78"/>
<circle cx="944.4" cy="232.0" r="3.4" fill="#e8c420"/>
<circle cx="1069.4" cy="218.4" r="3.4" fill="#1a1a1a"/>
<circle cx="969.9" cy="230.5" r="3.4" fill="#a2ea78"/>
<circle cx="1161.7" cy="317.3" r="3.4" fill="#a2ea78"/>
<circle cx="1024.5" cy="186.3" r="3.4" fill="#a2ea78"/>
<circle cx="920.4" cy="335.2" r="3.4" fill="#1a1a1a"/>
<circle cx="916.8" cy="259.6" r="3.4" fill="#e8c420"/>
<circle cx="1110.2" cy="217.5" r="3.4" fill="#223163"/>
<circle cx="1033.7" cy="286.9" r="3.4" fill="#e8c420"/>
<circle cx="1030.0" cy="313.2" r="3.4" fill="#5a5c77"/>
<circle cx="963.1" cy="259.6" r="3.4" fill="#223163"/>
<circle cx="1024.7" cy="301.9" r="3.4" fill="#e8c420"/>
<circle cx="927.8" cy="252.5" r="3.4" fill="#e8c420"/>
<circle cx="1076.9" cy="315.3" r="3.4" fill="#e8c420"/>
<circle cx="1045.3" cy="311.3" r="3.4" fill="#223163"/>
<circle cx="914.2" cy="270.2" r="3.4" fill="#d3d3d3"/>
<circle cx="925.5" cy="322.2" r="3.4" fill="#d3d3d3"/>
<circle cx="994.7" cy="304.8" r="3.4" fill="#a2ea78"/>
<circle cx="985.2" cy="316.1" r="3.4" fill="#1a1a1a"/>
<circle cx="1028.6" cy="298.9" r="3.4" fill="#e8c420"/>
<circle cx="1130.0" cy="241.4" r="3.4" fill="#1a1a1a"/>
<circle cx="1068.2" cy="259.9" r="3.4" fill="#e8c420"/>
<circle cx="937.4" cy="216.3" r="3.4" fill="#92e2ca"/>
<circle cx="1070.4" cy="244.6" r="3.4" fill="#a2ea78"/>
<circle cx="1044.7" cy="303.5" r="3.4" fill="#223163"/>
<circle cx="1122.3" cy="274.8" r="3.4" fill="#223163"/>
<circle cx="993.6" cy="245.0" r="3.4" fill="#e8c420"/>
<circle cx="1156.3" cy="228.5" r="3.4" fill="#d3d3d3"/>
<circle cx="909.1" cy="249.6" r="3.4" fill="#e8c420"/>
<circle cx="1065.6" cy="255.2" r="3.4" fill="#d3d3d3"/>
<circle cx="1104.4" cy="223.0" r="3.4" fill="#e8c420"/>
<circle cx="982.3" cy="261.4" r="3.4" fill="#d3d3d3"/>
<circle cx="928.1" cy="287.3" r="3.4" fill="#223163"/>
<circle cx="1082.1" cy="345.4" r="3.4" fill="#a2ea78"/>
<circle cx="1001.8" cy="195.2" r="3.4" fill="#223163"/>
<circle cx="926.7" cy="250.0" r="3.4" fill="#223163"/>
<circle cx="987.8" cy="294.9" r="3.4" fill="#a2ea78"/>
<circle cx="885.5" cy="256.0" r="3.4" fill="#223163"/>
<circle cx="1066.6" cy="386.4" r="3.4" fill="#e8c420"/>
<circle cx="937.8" cy="235.3" r="3.4" fill="#e8c420"/>
<circle cx="1097.4" cy="269.1" r="3.4" fill="#223163"/>
<circle cx="986.7" cy="350.6" r="3.4" fill="#1a1a1a"/>
<circle cx="1076.5" cy="293.7" r="3.4" fill="#5a46be"/>
<circle cx="1021.6" cy="220.4" r="3.4" fill="#d3d3d3"/>
<circle cx="1115.6" cy="278.2" r="3.4" fill="#223163"/>
<circle cx="972.5" cy="256.8" r="3.4" fill="#e8c420"/>
<circle cx="1060.0" cy="236.0" r="3.4" fill="#e8c420"/>
<circle cx="986.7" cy="267.3" r="3.4" fill="#d3d3d3"/>
<circle cx="869.0" cy="281.4" r="3.4" fill="#e8c420"/>
<circle cx="1034.7" cy="219.1" r="3.4" fill="#223163"/>
<circle cx="1014.1" cy="318.3" r="3.4" fill="#d3d3d3"/>
<circle cx="937.3" cy="232.2" r="3.4" fill="#e8c420"/>
<circle cx="1050.4" cy="254.7" r="3.4" fill="#d3d3d3"/>
<circle cx="935.2" cy="262.9" r="3.4" fill="#e8c420"/>
<circle cx="1090.4" cy="195.4" r="3.4" fill="#1a1a1a"/>
<circle cx="976.0" cy="280.0" r="3.4" fill="#e8c420"/>
<circle cx="961.0" cy="260.7" r="3.4" fill="#92e2ca"/>
<circle cx="892.3" cy="304.8" r="3.4" fill="#1a1a1a"/>
<circle cx="1017.8" cy="276.6" r="3.4" fill="#d3d3d3"/>
<circle cx="1087.1" cy="327.9" r="3.4" fill="#e8c420"/>
<circle cx="1038.6" cy="316.1" r="3.4" fill="#e8c420"/>
<circle cx="862.2" cy="266.5" r="3.4" fill="#d3d3d3"/>
<circle cx="983.5" cy="271.5" r="3.4" fill="#e8c420"/>
<circle cx="916.4" cy="206.7" r="3.4" fill="#92e2ca"/>
<circle cx="1014.3" cy="209.1" r="3.4" fill="#d3d3d3"/>
<circle cx="1064.3" cy="256.8" r="3.4" fill="#a2ea78"/>
<circle cx="1042.7" cy="239.1" r="3.4" fill="#223163"/>
<circle cx="1090.1" cy="258.1" r="3.4" fill="#d3d3d3"/>
<circle cx="1108.0" cy="302.0" r="3.4" fill="#e8c420"/>
<circle cx="1118.0" cy="246.2" r="3.4" fill="#d3d3d3"/>
<circle cx="1045.7" cy="246.2" r="3.4" fill="#d3d3d3"/>
<circle cx="1003.6" cy="248.6" r="3.4" fill="#1a1a1a"/>
<circle cx="1065.0" cy="259.8" r="3.4" fill="#a2ea78"/>
<circle cx="993.5" cy="213.8" r="3.4" fill="#e8c420"/>
<circle cx="898.9" cy="275.0" r="3.4" fill="#1a1a1a"/>
<circle cx="918.3" cy="233.1" r="3.4" fill="#223163"/>
<circle cx="1071.4" cy="319.4" r="3.4" fill="#e8c420"/>
<circle cx="1002.2" cy="284.1" r="3.4" fill="#e8c420"/>
<circle cx="1110.4" cy="228.5" r="3.4" fill="#d3d3d3"/>
<circle cx="1024.1" cy="317.2" r="3.4" fill="#223163"/>
<circle cx="1105.6" cy="318.0" r="3.4" fill="#d3d3d3"/>
<circle cx="976.6" cy="255.9" r="3.4" fill="#e8c420"/>
<circle cx="937.1" cy="192.1" r="3.4" fill="#1a1a1a"/>
<circle cx="1132.2" cy="228.1" r="3.4" fill="#d3d3d3"/>
<circle cx="1062.0" cy="276.8" r="3.4" fill="#92e2ca"/>
<circle cx="1078.8" cy="271.0" r="3.4" fill="#e8c420"/>
<circle cx="938.1" cy="244.1" r="3.4" fill="#e8c420"/>
<circle cx="1151.3" cy="336.8" r="3.4" fill="#1a1a1a"/>
<circle cx="1039.3" cy="321.0" r="3.4" fill="#d3d3d3"/>
<circle cx="1063.2" cy="324.6" r="3.4" fill="#e8c420"/>
<circle cx="909.7" cy="277.7" r="3.4" fill="#d3d3d3"/>
<circle cx="980.2" cy="314.1" r="3.4" fill="#d3d3d3"/>
<circle cx="1049.3" cy="346.1" r="3.4" fill="#a2ea78"/>
<circle cx="1013.6" cy="308.9" r="3.4" fill="#223163"/>
<circle cx="979.1" cy="325.2" r="3.4" fill="#92e2ca"/>
<circle cx="1147.6" cy="238.8" r="3.4" fill="#1a1a1a"/>
<circle cx="1115.1" cy="273.4" r="3.4" fill="#e8c420"/>
<circle cx="917.3" cy="338.0" r="3.4" fill="#223163"/>
<circle cx="982.7" cy="201.6" r="3.4" fill="#e8c420"/>
<circle cx="1128.4" cy="249.3" r="3.4" fill="#223163"/>
<circle cx="927.9" cy="272.2" r="3.4" fill="#e8c420"/>
<circle cx="987.6" cy="263.9" r="3.4" fill="#e8c420"/>
<circle cx="1098.1" cy="294.9" r="3.4" fill="#d3d3d3"/>
<circle cx="1058.6" cy="262.9" r="3.4" fill="#d3d3d3"/>
<circle cx="1039.1" cy="257.0" r="3.4" fill="#d3d3d3"/>
<circle cx="931.9" cy="236.5" r="3.4" fill="#d3d3d3"/>
<circle cx="962.8" cy="244.8" r="3.4" fill="#e8c420"/>
<circle cx="984.6" cy="288.4" r="3.4" fill="#223163"/>
<circle cx="1069.5" cy="329.6" r="3.4" fill="#e8c420"/>
<circle cx="1143.0" cy="246.6" r="3.4" fill="#d3d3d3"/>
<circle cx="948.9" cy="305.9" r="3.4" fill="#92e2ca"/>
<circle cx="877.5" cy="292.5" r="3.4" fill="#d3d3d3"/>
<circle cx="936.6" cy="276.9" r="3.4" fill="#1a1a1a"/>
<circle cx="1094.9" cy="309.9" r="3.4" fill="#e8c420"/>
<circle cx="925.8" cy="241.7" r="3.4" fill="#d3d3d3"/>
<circle cx="1087.1" cy="328.7" r="3.4" fill="#a2ea78"/>
<circle cx="1184.4" cy="295.7" r="3.4" fill="#d3d3d3"/>
<circle cx="1011.7" cy="339.6" r="3.4" fill="#e8c420"/>
<circle cx="1005.9" cy="229.1" r="3.4" fill="#e8c420"/>
<circle cx="1095.4" cy="209.0" r="3.4" fill="#d3d3d3"/>
<circle cx="1052.4" cy="316.1" r="3.4" fill="#d3d3d3"/>
<circle cx="1126.2" cy="253.5" r="3.4" fill="#92e2ca"/>
<circle cx="1048.2" cy="277.5" r="3.4" fill="#e8c420"/>
<circle cx="950.4" cy="296.8" r="3.4" fill="#d3d3d3"/>
<circle cx="958.7" cy="211.9" r="3.4" fill="#e8c420"/>
<circle cx="905.9" cy="249.5" r="3.4" fill="#223163"/>
<circle cx="962.5" cy="326.4" r="3.4" fill="#e8c420"/>
<circle cx="999.1" cy="318.1" r="3.4" fill="#223163"/>
<circle cx="999.0" cy="252.3" r="3.4" fill="#d3d3d3"/>
<circle cx="1011.2" cy="265.1" r="3.4" fill="#d3d3d3"/>
<circle cx="1159.1" cy="231.8" r="3.4" fill="#223163"/>
<circle cx="993.5" cy="301.9" r="3.4" fill="#d3d3d3"/>
<circle cx="982.1" cy="306.0" r="3.4" fill="#d3d3d3"/>
<circle cx="965.9" cy="315.6" r="3.4" fill="#d3d3d3"/>
<circle cx="895.8" cy="287.9" r="3.4" fill="#d3d3d3"/>
<circle cx="1080.8" cy="271.0" r="3.4" fill="#d3d3d3"/>
<circle cx="1004.8" cy="285.2" r="3.4" fill="#1a1a1a"/>
<circle cx="1042.0" cy="241.7" r="3.4" fill="#223163"/>
<circle cx="1013.3" cy="269.1" r="3.4" fill="#d3d3d3"/>
<circle cx="1014.3" cy="344.2" r="3.4" fill="#d3d3d3"/>
<circle cx="962.1" cy="233.9" r="3.4" fill="#92e2ca"/>
<circle cx="1117.3" cy="251.2" r="3.4" fill="#d3d3d3"/>
<circle cx="859.8" cy="241.2" r="3.4" fill="#d3d3d3"/>
<circle cx="996.4" cy="275.2" r="3.4" fill="#1a1a1a"/>
<circle cx="1038.8" cy="213.3" r="3.4" fill="#223163"/>
<circle cx="991.1" cy="300.3" r="3.4" fill="#d3d3d3"/>
<circle cx="1051.0" cy="261.9" r="3.4" fill="#e8c420"/>
<circle cx="1119.3" cy="238.6" r="3.4" fill="#e8c420"/>
<circle cx="1027.6" cy="234.6" r="3.4" fill="#1a1a1a"/>
<circle cx="909.6" cy="244.9" r="3.4" fill="#d3d3d3"/>
<circle cx="1066.6" cy="383.5" r="3.4" fill="#1a1a1a"/>
<circle cx="1012.0" cy="263.0" r="3.4" fill="#1a1a1a"/>
<circle cx="1026.8" cy="322.3" r="3.4" fill="#e8c420"/>
<circle cx="913.6" cy="319.6" r="3.4" fill="#e8c420"/>
<circle cx="1058.3" cy="293.5" r="3.4" fill="#d3d3d3"/>
<circle cx="994.0" cy="238.7" r="3.4" fill="#e8c420"/>
<circle cx="1116.5" cy="329.9" r="3.4" fill="#d3d3d3"/>
<circle cx="974.8" cy="255.9" r="3.4" fill="#d3d3d3"/>
<circle cx="1063.1" cy="235.2" r="3.4" fill="#d3d3d3"/>
<circle cx="1026.5" cy="250.5" r="3.4" fill="#d3d3d3"/>
<circle cx="865.3" cy="282.5" r="3.4" fill="#1a1a1a"/>
<circle cx="952.5" cy="275.9" r="3.4" fill="#e8c420"/>
<circle cx="1027.8" cy="276.0" r="3.4" fill="#e8c420"/>
<circle cx="988.5" cy="190.3" r="3.4" fill="#e8c420"/>
<circle cx="1063.7" cy="306.4" r="3.4" fill="#a2ea78"/>
<circle cx="950.1" cy="230.8" r="3.4" fill="#d3d3d3"/>
<circle cx="1122.8" cy="305.5" r="3.4" fill="#e8c420"/>
<circle cx="1036.7" cy="217.1" r="3.4" fill="#1a1a1a"/>
<circle cx="917.0" cy="249.8" r="3.4" fill="#e8c420"/>
<circle cx="925.6" cy="218.0" r="3.4" fill="#e8c420"/>
<circle cx="1051.0" cy="227.4" r="3.4" fill="#e8c420"/>
<circle cx="1159.6" cy="249.7" r="3.4" fill="#d3d3d3"/>
<circle cx="1187.8" cy="266.4" r="3.4" fill="#d3d3d3"/>
<circle cx="1003.2" cy="203.2" r="3.4" fill="#e8c420"/>
<circle cx="886.8" cy="308.0" r="3.4" fill="#d3d3d3"/>
<circle cx="1065.2" cy="276.5" r="3.4" fill="#d3d3d3"/>
<circle cx="1095.7" cy="338.9" r="3.4" fill="#d3d3d3"/>
<circle cx="1174.0" cy="239.1" r="3.4" fill="#e8c420"/>
<circle cx="992.6" cy="326.8" r="3.4" fill="#e8c420"/>
<circle cx="1105.9" cy="215.4" r="3.4" fill="#d3d3d3"/>
<circle cx="952.2" cy="311.8" r="3.4" fill="#d3d3d3"/>
<circle cx="1013.0" cy="299.7" r="3.4" fill="#d3d3d3"/>
<circle cx="911.3" cy="213.8" r="3.4" fill="#d3d3d3"/>
<circle cx="942.0" cy="210.4" r="3.4" fill="#d3d3d3"/>
<circle cx="965.5" cy="309.3" r="3.4" fill="#d3d3d3"/>
<circle cx="1144.2" cy="311.9" r="3.4" fill="#e8c420"/>
<circle cx="931.6" cy="254.7" r="3.4" fill="#d3d3d3"/>
<circle cx="882.7" cy="261.6" r="3.4" fill="#d3d3d3"/>
<circle cx="1071.9" cy="302.3" r="3.4" fill="#1a1a1a"/>
<circle cx="926.3" cy="289.8" r="3.4" fill="#d3d3d3"/>
<circle cx="959.4" cy="358.3" r="3.4" fill="#e8c420"/>
<circle cx="936.5" cy="292.7" r="3.4" fill="#d3d3d3"/>
<circle cx="1090.4" cy="285.7" r="3.4" fill="#d3d3d3"/>
<circle cx="1025.5" cy="299.0" r="3.4" fill="#e8c420"/>
<circle cx="1144.3" cy="300.4" r="3.4" fill="#d3d3d3"/>
<circle cx="893.4" cy="290.5" r="3.4" fill="#e8c420"/>
<circle cx="943.5" cy="204.3" r="3.4" fill="#d3d3d3"/>
<circle cx="972.8" cy="279.9" r="3.4" fill="#d3d3d3"/>
<circle cx="1166.9" cy="288.8" r="3.4" fill="#e8c420"/>
<circle cx="1034.6" cy="252.2" r="3.4" fill="#1a1a1a"/>
<circle cx="971.4" cy="241.5" r="3.4" fill="#d3d3d3"/>
<circle cx="1147.9" cy="239.4" r="3.4" fill="#e8c420"/>
<circle cx="1028.7" cy="305.3" r="3.4" fill="#d3d3d3"/>
<circle cx="896.7" cy="217.5" r="3.4" fill="#a2ea78"/>
<circle cx="1154.1" cy="278.9" r="3.4" fill="#e8c420"/>
<circle cx="959.5" cy="241.8" r="3.4" fill="#223163"/>
<circle cx="854.1" cy="279.6" r="3.4" fill="#e8c420"/>
<circle cx="1074.4" cy="221.6" r="3.4" fill="#d3d3d3"/>
<circle cx="1065.1" cy="381.8" r="3.4" fill="#d3d3d3"/>
<circle cx="1113.7" cy="314.2" r="3.4" fill="#d3d3d3"/>
<circle cx="1037.7" cy="211.9" r="3.4" fill="#d3d3d3"/>
<circle cx="1064.5" cy="266.5" r="3.4" fill="#223163"/>
<circle cx="1106.0" cy="199.2" r="3.4" fill="#1a1a1a"/>
<circle cx="1007.3" cy="271.7" r="3.4" fill="#d3d3d3"/>
<circle cx="912.2" cy="207.0" r="3.4" fill="#223163"/>
<circle cx="1127.9" cy="297.5" r="3.4" fill="#92e2ca"/>
<circle cx="1133.5" cy="257.4" r="3.4" fill="#223163"/>
<circle cx="911.6" cy="282.3" r="3.4" fill="#92e2ca"/>
<circle cx="1065.5" cy="224.9" r="3.4" fill="#d3d3d3"/>
<circle cx="1023.3" cy="324.9" r="3.4" fill="#e8c420"/>
<circle cx="854.6" cy="278.9" r="3.4" fill="#1a1a1a"/>
<circle cx="951.4" cy="282.8" r="3.4" fill="#d3d3d3"/>
<circle cx="1076.3" cy="246.8" r="3.4" fill="#e8c420"/>
<circle cx="1042.7" cy="230.1" r="3.4" fill="#d3d3d3"/>
<circle cx="1158.1" cy="230.0" r="3.4" fill="#d3d3d3"/>
<circle cx="1024.7" cy="249.0" r="3.4" fill="#d3d3d3"/>
<circle cx="1095.4" cy="312.7" r="3.4" fill="#d3d3d3"/>
<circle cx="1039.5" cy="174.1" r="3.4" fill="#d3d3d3"/>
<circle cx="1059.2" cy="294.5" r="3.4" fill="#223163"/>
<circle cx="860.3" cy="309.2" r="3.4" fill="#223163"/>
<circle cx="1033.9" cy="292.8" r="3.4" fill="#d3d3d3"/>
<circle cx="856.9" cy="286.1" r="3.4" fill="#e8c420"/>
<circle cx="979.1" cy="283.0" r="3.4" fill="#223163"/>
<circle cx="967.2" cy="173.5" r="3.4" fill="#d3d3d3"/>
<circle cx="938.3" cy="181.1" r="3.4" fill="#d3d3d3"/>
<circle cx="937.5" cy="317.0" r="3.4" fill="#d3d3d3"/>
<circle cx="963.2" cy="220.1" r="3.4" fill="#e8c420"/>
<circle cx="1041.4" cy="314.5" r="3.4" fill="#d3d3d3"/>
<circle cx="1009.9" cy="211.7" r="3.4" fill="#d3d3d3"/>
<circle cx="896.8" cy="290.2" r="3.4" fill="#d3d3d3"/>
<circle cx="1012.5" cy="249.0" r="3.4" fill="#e8c420"/>
<circle cx="1019.6" cy="315.3" r="3.4" fill="#d3d3d3"/>
<circle cx="1021.0" cy="372.3" r="3.4" fill="#d3d3d3"/>
<circle cx="974.1" cy="212.9" r="3.4" fill="#e8c420"/>
<circle cx="1034.5" cy="234.5" r="3.4" fill="#d3d3d3"/>
<circle cx="1160.8" cy="240.7" r="3.4" fill="#1a1a1a"/>
<circle cx="1039.9" cy="317.5" r="3.4" fill="#d3d3d3"/>
<circle cx="1040.8" cy="276.1" r="3.4" fill="#d3d3d3"/>
<circle cx="937.8" cy="192.9" r="3.4" fill="#d3d3d3"/>
<circle cx="989.0" cy="203.1" r="3.4" fill="#1a1a1a"/>
<circle cx="977.6" cy="259.2" r="3.4" fill="#d3d3d3"/>
<circle cx="1005.3" cy="266.6" r="3.4" fill="#d3d3d3"/>
<circle cx="1044.8" cy="300.6" r="3.4" fill="#d3d3d3"/>
<circle cx="1015.0" cy="219.1" r="3.4" fill="#e8c420"/>
<circle cx="1035.9" cy="212.4" r="3.4" fill="#d3d3d3"/>
<circle cx="956.1" cy="303.2" r="3.4" fill="#d3d3d3"/>
<circle cx="1036.6" cy="287.1" r="3.4" fill="#d3d3d3"/>
<circle cx="1003.2" cy="265.0" r="3.4" fill="#223163"/>
<circle cx="1106.1" cy="214.6" r="3.4" fill="#d3d3d3"/>
<circle cx="886.3" cy="255.9" r="3.4" fill="#d3d3d3"/>
<circle cx="985.5" cy="240.1" r="3.4" fill="#d3d3d3"/>
<circle cx="1117.8" cy="318.1" r="3.4" fill="#d3d3d3"/>
<circle cx="1026.1" cy="310.8" r="3.4" fill="#d3d3d3"/>
<circle cx="932.9" cy="265.9" r="3.4" fill="#d3d3d3"/>
<circle cx="947.2" cy="346.0" r="3.4" fill="#1a1a1a"/>
<circle cx="938.5" cy="253.8" r="3.4" fill="#e8c420"/>
<circle cx="1066.7" cy="264.1" r="3.4" fill="#e8c420"/>
<circle cx="1170.3" cy="239.7" r="3.4" fill="#d3d3d3"/>
<circle cx="966.7" cy="233.6" r="3.4" fill="#d3d3d3"/>
<circle cx="1133.0" cy="283.6" r="3.4" fill="#223163"/>
<circle cx="992.4" cy="222.4" r="3.4" fill="#d3d3d3"/>
<circle cx="931.6" cy="261.2" r="3.4" fill="#d3d3d3"/>
<circle cx="1050.1" cy="299.1" r="3.4" fill="#e8c420"/>
<circle cx="878.7" cy="305.7" r="3.4" fill="#e8c420"/>
<circle cx="1076.6" cy="320.2" r="3.4" fill="#d3d3d3"/>
<circle cx="1119.7" cy="228.8" r="3.4" fill="#d3d3d3"/>
<circle cx="1018.5" cy="266.2" r="3.4" fill="#d3d3d3"/>
<circle cx="1116.7" cy="293.2" r="3.4" fill="#d3d3d3"/>
<circle cx="1008.3" cy="216.1" r="3.4" fill="#a2ea78"/>
<circle cx="1019.8" cy="272.4" r="3.4" fill="#e8c420"/>
<circle cx="1136.5" cy="297.9" r="3.4" fill="#223163"/>
<circle cx="1051.5" cy="316.2" r="3.4" fill="#e8c420"/>
<circle cx="1119.4" cy="281.3" r="3.4" fill="#d3d3d3"/>
<circle cx="928.1" cy="279.5" r="3.4" fill="#d3d3d3"/>
<circle cx="926.7" cy="330.9" r="3.4" fill="#d3d3d3"/>
<circle cx="986.4" cy="314.5" r="3.4" fill="#e8c420"/>
<circle cx="1054.0" cy="293.7" r="3.4" fill="#e8c420"/>
<circle cx="1024.1" cy="297.0" r="3.4" fill="#e8c420"/>
<circle cx="1042.1" cy="301.2" r="3.4" fill="#1a1a1a"/>
<circle cx="1060.1" cy="222.7" r="3.4" fill="#d3d3d3"/>
<circle cx="892.8" cy="215.3" r="3.4" fill="#d3d3d3"/>
<circle cx="1028.6" cy="262.7" r="3.4" fill="#e8c420"/>
<circle cx="990.8" cy="307.9" r="3.4" fill="#d3d3d3"/>
<circle cx="1100.7" cy="250.1" r="3.4" fill="#d3d3d3"/>
<circle cx="1041.6" cy="282.3" r="3.4" fill="#e8c420"/>
<circle cx="1039.7" cy="259.2" r="3.4" fill="#d3d3d3"/>
<circle cx="874.9" cy="233.8" r="3.4" fill="#d3d3d3"/>
<circle cx="918.0" cy="233.2" r="3.4" fill="#d3d3d3"/>
<circle cx="1138.2" cy="292.2" r="3.4" fill="#d3d3d3"/>
<circle cx="1120.1" cy="298.1" r="3.4" fill="#e8c420"/>
<circle cx="1083.6" cy="280.0" r="3.4" fill="#d3d3d3"/>
<circle cx="991.3" cy="308.0" r="3.4" fill="#d3d3d3"/>
<circle cx="1002.8" cy="309.3" r="3.4" fill="#e8c420"/>
<circle cx="1105.3" cy="238.2" r="3.4" fill="#d3d3d3"/>
<circle cx="1070.9" cy="201.5" r="3.4" fill="#d3d3d3"/>
<circle cx="937.9" cy="225.5" r="3.4" fill="#e8c420"/>
<circle cx="934.6" cy="257.1" r="3.4" fill="#d3d3d3"/>
<circle cx="984.4" cy="239.4" r="3.4" fill="#d3d3d3"/>
<circle cx="934.9" cy="236.7" r="3.4" fill="#d3d3d3"/>
<circle cx="1055.2" cy="265.2" r="3.4" fill="#d3d3d3"/>
<circle cx="1022.9" cy="212.7" r="3.4" fill="#d3d3d3"/>
<circle cx="1071.3" cy="346.5" r="3.4" fill="#d3d3d3"/>
<circle cx="1031.0" cy="309.4" r="3.4" fill="#223163"/>
<circle cx="956.7" cy="331.4" r="3.4" fill="#e8c420"/>
<circle cx="930.4" cy="350.4" r="3.4" fill="#d3d3d3"/>
<circle cx="1059.4" cy="234.7" r="3.4" fill="#d3d3d3"/>
<circle cx="945.5" cy="258.4" r="3.4" fill="#d3d3d3"/>
<circle cx="942.5" cy="311.4" r="3.4" fill="#e8c420"/>
<circle cx="1103.0" cy="265.6" r="3.4" fill="#d3d3d3"/>
<circle cx="938.8" cy="234.3" r="3.4" fill="#e8c420"/>
<circle cx="1075.8" cy="261.8" r="3.4" fill="#e8c420"/>
<circle cx="1013.0" cy="258.5" r="3.4" fill="#d3d3d3"/>
<circle cx="1027.9" cy="274.8" r="3.4" fill="#d3d3d3"/>
<circle cx="1044.3" cy="288.2" r="3.4" fill="#e8c420"/>
<circle cx="987.3" cy="281.8" r="3.4" fill="#d3d3d3"/>
<circle cx="938.1" cy="258.0" r="3.4" fill="#e8c420"/>
<circle cx="1056.6" cy="199.0" r="3.4" fill="#d3d3d3"/>
<circle cx="1008.0" cy="239.9" r="3.4" fill="#e8c420"/>
<circle cx="1053.4" cy="265.5" r="3.4" fill="#1a1a1a"/>
<circle cx="1040.1" cy="340.6" r="3.4" fill="#e8c420"/>
<circle cx="976.7" cy="293.8" r="3.4" fill="#d3d3d3"/>
<circle cx="1153.5" cy="290.3" r="3.4" fill="#d3d3d3"/>
<circle cx="1061.2" cy="281.7" r="3.4" fill="#d3d3d3"/>
<circle cx="1041.4" cy="238.7" r="3.4" fill="#223163"/>
<circle cx="1171.6" cy="299.4" r="3.4" fill="#d3d3d3"/>
<circle cx="965.9" cy="223.8" r="3.4" fill="#d3d3d3"/>
<circle cx="959.0" cy="316.6" r="3.4" fill="#d3d3d3"/>
<circle cx="1096.0" cy="303.9" r="3.4" fill="#d3d3d3"/>
<circle cx="951.7" cy="309.8" r="3.4" fill="#d3d3d3"/>
<circle cx="1109.0" cy="251.3" r="3.4" fill="#d3d3d3"/>
<circle cx="1167.6" cy="236.9" r="3.4" fill="#d3d3d3"/>
<circle cx="1037.5" cy="285.8" r="3.4" fill="#e8c420"/>
<circle cx="1048.4" cy="249.4" r="3.4" fill="#d3d3d3"/>
<circle cx="1013.7" cy="243.0" r="3.4" fill="#d3d3d3"/>
<circle cx="1092.0" cy="237.2" r="3.4" fill="#d3d3d3"/>
<circle cx="847.8" cy="260.0" r="3.4" fill="#d3d3d3"/>
<circle cx="1072.2" cy="230.3" r="3.4" fill="#d3d3d3"/>
<circle cx="1011.4" cy="253.3" r="3.4" fill="#d3d3d3"/>
<circle cx="1174.0" cy="235.2" r="3.4" fill="#d3d3d3"/>
<circle cx="961.1" cy="247.9" r="3.4" fill="#d3d3d3"/>
<circle cx="1140.3" cy="230.4" r="3.4" fill="#e8c420"/>
<circle cx="1071.3" cy="242.4" r="3.4" fill="#d3d3d3"/>
<circle cx="980.9" cy="237.4" r="3.4" fill="#d3d3d3"/>
<circle cx="1038.8" cy="230.7" r="3.4" fill="#d3d3d3"/>
<circle cx="1107.9" cy="305.6" r="3.4" fill="#d3d3d3"/>
<circle cx="1157.8" cy="257.2" r="3.4" fill="#d3d3d3"/>
<circle cx="1111.4" cy="292.7" r="3.4" fill="#d3d3d3"/>
<circle cx="1053.7" cy="311.6" r="3.4" fill="#d3d3d3"/>
<circle cx="1028.9" cy="242.1" r="3.4" fill="#d3d3d3"/>
<circle cx="1047.6" cy="218.5" r="3.4" fill="#d3d3d3"/>
<circle cx="1136.7" cy="221.7" r="3.4" fill="#223163"/>
<circle cx="1029.9" cy="241.5" r="3.4" fill="#d3d3d3"/>
<circle cx="1001.0" cy="193.0" r="3.4" fill="#223163"/>
<circle cx="999.2" cy="242.8" r="3.4" fill="#223163"/>
<circle cx="1125.2" cy="286.8" r="3.4" fill="#d3d3d3"/>
<circle cx="1121.1" cy="318.0" r="3.4" fill="#d3d3d3"/>
<circle cx="1088.2" cy="332.2" r="3.4" fill="#e8c420"/>
<circle cx="895.2" cy="314.6" r="3.4" fill="#d3d3d3"/>
<circle cx="1052.9" cy="228.7" r="3.4" fill="#d3d3d3"/>
<circle cx="902.3" cy="189.0" r="3.4" fill="#223163"/>
<circle cx="956.5" cy="296.4" r="3.4" fill="#d3d3d3"/>
<circle cx="1004.8" cy="258.5" r="3.4" fill="#d3d3d3"/>
<circle cx="1074.9" cy="201.4" r="3.4" fill="#d3d3d3"/>
<circle cx="975.7" cy="250.1" r="3.4" fill="#d3d3d3"/>
<circle cx="949.6" cy="289.8" r="3.4" fill="#d3d3d3"/>
<circle cx="1096.0" cy="314.3" r="3.4" fill="#d3d3d3"/>
<circle cx="1126.7" cy="336.0" r="3.4" fill="#d3d3d3"/>
<circle cx="966.5" cy="223.8" r="3.4" fill="#d3d3d3"/>
<circle cx="907.8" cy="294.6" r="3.4" fill="#223163"/>
<circle cx="1158.2" cy="255.7" r="3.4" fill="#d3d3d3"/>
<circle cx="1142.7" cy="247.9" r="3.4" fill="#d3d3d3"/>
<circle cx="998.4" cy="234.7" r="3.4" fill="#d3d3d3"/>
<circle cx="952.5" cy="267.6" r="3.4" fill="#d3d3d3"/>
<circle cx="869.4" cy="257.9" r="3.4" fill="#d3d3d3"/>
<circle cx="978.4" cy="224.6" r="3.4" fill="#d3d3d3"/>
<circle cx="941.4" cy="213.7" r="3.4" fill="#d3d3d3"/>
<circle cx="1096.6" cy="286.4" r="3.4" fill="#d3d3d3"/>
<circle cx="997.9" cy="295.6" r="3.4" fill="#d3d3d3"/>
<circle cx="1034.6" cy="290.0" r="3.4" fill="#d3d3d3"/>
<circle cx="973.6" cy="309.9" r="3.4" fill="#e8c420"/>
<circle cx="1064.7" cy="237.7" r="3.4" fill="#d3d3d3"/>
<circle cx="1063.7" cy="261.2" r="3.4" fill="#e8c420"/>
<circle cx="873.9" cy="285.9" r="3.4" fill="#d3d3d3"/>
<circle cx="971.5" cy="293.8" r="3.4" fill="#d3d3d3"/>
<circle cx="997.6" cy="203.7" r="3.4" fill="#d3d3d3"/>
<circle cx="923.4" cy="266.6" r="3.4" fill="#d3d3d3"/>
<circle cx="1046.3" cy="305.1" r="3.4" fill="#d3d3d3"/>
<circle cx="1037.4" cy="230.4" r="3.4" fill="#223163"/>
<circle cx="1057.8" cy="172.2" r="3.4" fill="#d3d3d3"/>
<circle cx="1039.2" cy="296.2" r="3.4" fill="#d3d3d3"/>
<circle cx="989.0" cy="233.9" r="3.4" fill="#d3d3d3"/>
<circle cx="1035.8" cy="170.4" r="3.4" fill="#d3d3d3"/>
<circle cx="1031.5" cy="319.2" r="3.4" fill="#d3d3d3"/>
<circle cx="1045.7" cy="249.2" r="3.4" fill="#e8c420"/>
<circle cx="1004.4" cy="234.3" r="3.4" fill="#d3d3d3"/>
<circle cx="1063.6" cy="233.2" r="3.4" fill="#d3d3d3"/>
<circle cx="1115.7" cy="315.1" r="3.4" fill="#d3d3d3"/>
<circle cx="965.8" cy="292.0" r="3.4" fill="#d3d3d3"/>
<circle cx="924.5" cy="259.8" r="3.4" fill="#d3d3d3"/>
<circle cx="926.5" cy="310.8" r="3.4" fill="#e8c420"/>
<circle cx="992.8" cy="303.6" r="3.4" fill="#d3d3d3"/>
<circle cx="1067.9" cy="257.8" r="3.4" fill="#d3d3d3"/>
<circle cx="994.9" cy="280.6" r="3.4" fill="#d3d3d3"/>
<circle cx="903.1" cy="251.0" r="3.4" fill="#d3d3d3"/>
<circle cx="1150.4" cy="314.3" r="3.4" fill="#d3d3d3"/>
<circle cx="987.4" cy="188.9" r="3.4" fill="#d3d3d3"/>
<circle cx="1024.8" cy="235.9" r="3.4" fill="#d3d3d3"/>
<circle cx="1038.0" cy="306.0" r="3.4" fill="#d3d3d3"/>
<circle cx="1062.2" cy="260.1" r="3.4" fill="#223163"/>
<circle cx="1056.3" cy="306.6" r="3.4" fill="#d3d3d3"/>
<circle cx="1097.4" cy="258.8" r="3.4" fill="#d3d3d3"/>
<circle cx="879.9" cy="278.2" r="3.4" fill="#d3d3d3"/>
<circle cx="1050.7" cy="239.2" r="3.4" fill="#d3d3d3"/>
<circle cx="871.7" cy="264.1" r="3.4" fill="#d3d3d3"/>
<circle cx="1000.2" cy="218.7" r="3.4" fill="#d3d3d3"/>
<circle cx="1029.5" cy="235.0" r="3.4" fill="#d3d3d3"/>
<circle cx="979.5" cy="274.8" r="3.4" fill="#d3d3d3"/>
<circle cx="1041.7" cy="202.0" r="3.4" fill="#d3d3d3"/>
<circle cx="1069.3" cy="265.8" r="3.4" fill="#d3d3d3"/>
<circle cx="1015.5" cy="270.0" r="3.4" fill="#d3d3d3"/>
<circle cx="928.5" cy="245.7" r="3.4" fill="#d3d3d3"/>
<circle cx="1101.6" cy="242.2" r="3.4" fill="#d3d3d3"/>
<circle cx="898.4" cy="319.2" r="3.4" fill="#e8c420"/>
<circle cx="889.0" cy="293.6" r="3.4" fill="#d3d3d3"/>
<circle cx="1054.4" cy="230.4" r="3.4" fill="#d3d3d3"/>
<circle cx="939.0" cy="212.3" r="3.4" fill="#d3d3d3"/>
<circle cx="979.2" cy="279.5" r="3.4" fill="#1a1a1a"/>
<circle cx="1006.3" cy="285.8" r="3.4" fill="#d3d3d3"/>
<circle cx="993.8" cy="250.9" r="3.4" fill="#d3d3d3"/>
<circle cx="980.0" cy="332.4" r="3.4" fill="#1a1a1a"/>
<circle cx="924.4" cy="211.9" r="3.4" fill="#d3d3d3"/>
<circle cx="1099.0" cy="228.6" r="3.4" fill="#d3d3d3"/>
<circle cx="1030.7" cy="266.3" r="3.4" fill="#d3d3d3"/>
<circle cx="1070.7" cy="325.1" r="3.4" fill="#d3d3d3"/>
<circle cx="968.7" cy="277.3" r="3.4" fill="#e8c420"/>
<circle cx="975.2" cy="311.1" r="3.4" fill="#d3d3d3"/>
<circle cx="1055.0" cy="312.9" r="3.4" fill="#e8c420"/>
<circle cx="1076.2" cy="272.0" r="3.4" fill="#1a1a1a"/>
<circle cx="1103.7" cy="239.7" r="3.4" fill="#e8c420"/>
<circle cx="1085.6" cy="329.6" r="3.4" fill="#d3d3d3"/>
<circle cx="1143.3" cy="256.0" r="3.4" fill="#d3d3d3"/>
<circle cx="1029.3" cy="246.1" r="3.4" fill="#e8c420"/>
<circle cx="1036.8" cy="233.6" r="3.4" fill="#d3d3d3"/>
<circle cx="1125.9" cy="252.0" r="3.4" fill="#d3d3d3"/>
<circle cx="1033.6" cy="241.3" r="3.4" fill="#223163"/>
<circle cx="903.5" cy="257.0" r="3.4" fill="#d3d3d3"/>
<circle cx="1041.3" cy="282.3" r="3.4" fill="#d3d3d3"/>
<circle cx="974.8" cy="280.0" r="3.4" fill="#d3d3d3"/>
<circle cx="1138.2" cy="234.3" r="3.4" fill="#d3d3d3"/>
<circle cx="919.4" cy="252.0" r="3.4" fill="#d3d3d3"/>
<circle cx="1089.9" cy="289.9" r="3.4" fill="#d3d3d3"/>
<circle cx="1125.3" cy="307.6" r="3.4" fill="#d3d3d3"/>
<circle cx="964.6" cy="230.1" r="3.4" fill="#d3d3d3"/>
<circle cx="904.1" cy="269.3" r="3.4" fill="#d3d3d3"/>
<circle cx="1123.7" cy="245.8" r="3.4" fill="#d3d3d3"/>
<circle cx="1095.2" cy="205.6" r="3.4" fill="#d3d3d3"/>
<circle cx="1018.3" cy="324.0" r="3.4" fill="#d3d3d3"/>
<circle cx="1116.4" cy="309.2" r="3.4" fill="#d3d3d3"/>
<circle cx="1060.4" cy="269.5" r="3.4" fill="#d3d3d3"/>
<circle cx="922.4" cy="315.1" r="3.4" fill="#d3d3d3"/>
<circle cx="1082.6" cy="228.5" r="3.4" fill="#d3d3d3"/>
<circle cx="921.8" cy="317.8" r="3.4" fill="#d3d3d3"/>
<circle cx="1010.0" cy="252.4" r="3.4" fill="#d3d3d3"/>
<circle cx="1046.2" cy="271.2" r="3.4" fill="#d3d3d3"/>
<circle cx="1131.1" cy="287.9" r="3.4" fill="#d3d3d3"/>
<circle cx="1013.6" cy="298.0" r="3.4" fill="#d3d3d3"/>
<circle cx="1045.9" cy="267.0" r="3.4" fill="#e8c420"/>
<circle cx="1093.7" cy="229.4" r="3.4" fill="#d3d3d3"/>
<circle cx="1145.8" cy="280.0" r="3.4" fill="#d3d3d3"/>
<circle cx="898.3" cy="270.4" r="3.4" fill="#d3d3d3"/>
<circle cx="1083.5" cy="246.8" r="3.4" fill="#d3d3d3"/>
<circle cx="1031.0" cy="276.2" r="3.4" fill="#d3d3d3"/>
<circle cx="1088.4" cy="275.8" r="3.4" fill="#d3d3d3"/>
<circle cx="882.9" cy="319.6" r="3.4" fill="#d3d3d3"/>
<circle cx="971.4" cy="284.2" r="3.4" fill="#d3d3d3"/>
<circle cx="1070.9" cy="211.7" r="3.4" fill="#d3d3d3"/>
<circle cx="908.8" cy="239.8" r="3.4" fill="#d3d3d3"/>
<circle cx="949.9" cy="302.0" r="3.4" fill="#e8c420"/>
<circle cx="1103.5" cy="327.9" r="3.4" fill="#e8c420"/>
<circle cx="1132.8" cy="267.4" r="3.4" fill="#e8c420"/>
<circle cx="987.0" cy="265.1" r="3.4" fill="#d3d3d3"/>
<circle cx="1147.2" cy="278.4" r="3.4" fill="#d3d3d3"/>
<circle cx="913.8" cy="236.1" r="3.4" fill="#d3d3d3"/>
<circle cx="959.5" cy="340.8" r="3.4" fill="#d3d3d3"/>
<circle cx="939.6" cy="252.2" r="3.4" fill="#d3d3d3"/>
<circle cx="1085.8" cy="270.2" r="3.4" fill="#d3d3d3"/>
<circle cx="1157.5" cy="283.7" r="3.4" fill="#d3d3d3"/>
<circle cx="915.0" cy="194.1" r="3.4" fill="#1a1a1a"/>
<circle cx="964.9" cy="224.4" r="3.4" fill="#d3d3d3"/>
<circle cx="1021.6" cy="294.4" r="3.4" fill="#d3d3d3"/>
<circle cx="966.9" cy="310.9" r="3.4" fill="#d3d3d3"/>
<circle cx="964.0" cy="236.4" r="3.4" fill="#d3d3d3"/>
<circle cx="955.4" cy="258.5" r="3.4" fill="#d3d3d3"/>
<circle cx="1047.0" cy="270.1" r="3.4" fill="#d3d3d3"/>
<circle cx="998.3" cy="340.4" r="3.4" fill="#d3d3d3"/>
<circle cx="936.5" cy="315.3" r="3.4" fill="#a2ea78"/>
<circle cx="1058.4" cy="336.6" r="3.4" fill="#d3d3d3"/>
<circle cx="1036.3" cy="280.8" r="3.4" fill="#d3d3d3"/>
<circle cx="859.2" cy="283.1" r="3.4" fill="#d3d3d3"/>
<circle cx="982.7" cy="301.8" r="3.4" fill="#d3d3d3"/>
<circle cx="1072.1" cy="292.7" r="3.4" fill="#d3d3d3"/>
<circle cx="1004.0" cy="182.2" r="3.4" fill="#d3d3d3"/>
<circle cx="1107.5" cy="246.5" r="3.4" fill="#d3d3d3"/>
<circle cx="1057.9" cy="238.5" r="3.4" fill="#d3d3d3"/>
<circle cx="1010.5" cy="310.1" r="3.4" fill="#d3d3d3"/>
<circle cx="1013.9" cy="285.8" r="3.4" fill="#d3d3d3"/>
<circle cx="928.8" cy="308.1" r="3.4" fill="#d3d3d3"/>
<circle cx="1120.9" cy="277.7" r="3.4" fill="#d3d3d3"/>
<circle cx="1040.2" cy="225.3" r="3.4" fill="#d3d3d3"/>
<circle cx="1160.0" cy="295.6" r="3.4" fill="#d3d3d3"/>
<circle cx="1027.4" cy="255.3" r="3.4" fill="#d3d3d3"/>
<circle cx="1114.8" cy="244.1" r="3.4" fill="#d3d3d3"/>
<circle cx="854.8" cy="295.6" r="3.4" fill="#d3d3d3"/>
<circle cx="946.7" cy="265.7" r="3.4" fill="#d3d3d3"/>
<circle cx="1172.8" cy="269.3" r="3.4" fill="#d3d3d3"/>
<circle cx="976.6" cy="199.8" r="3.4" fill="#a2ea78"/>
<circle cx="1062.7" cy="335.8" r="3.4" fill="#d3d3d3"/>
<circle cx="1105.4" cy="315.3" r="3.4" fill="#d3d3d3"/>
<circle cx="1102.7" cy="272.0" r="3.4" fill="#d3d3d3"/>
<circle cx="1080.8" cy="215.4" r="3.4" fill="#d3d3d3"/>
<circle cx="1045.6" cy="233.2" r="3.4" fill="#d3d3d3"/>
<circle cx="977.3" cy="304.7" r="3.4" fill="#d3d3d3"/>
<circle cx="887.3" cy="282.2" r="3.4" fill="#d3d3d3"/>
<circle cx="978.8" cy="277.8" r="3.4" fill="#d3d3d3"/>
<circle cx="1107.9" cy="301.0" r="3.4" fill="#d3d3d3"/>
<circle cx="1007.4" cy="238.8" r="3.4" fill="#d3d3d3"/>
<circle cx="1137.1" cy="314.3" r="3.4" fill="#d3d3d3"/>
<circle cx="1049.7" cy="263.7" r="3.4" fill="#d3d3d3"/>
<circle cx="1035.7" cy="225.4" r="3.4" fill="#d3d3d3"/>
<circle cx="1000.0" cy="278.3" r="3.4" fill="#d3d3d3"/>
<circle cx="1010.4" cy="301.5" r="3.4" fill="#d3d3d3"/>
<circle cx="915.5" cy="211.3" r="3.4" fill="#d3d3d3"/>
<circle cx="968.9" cy="273.1" r="3.4" fill="#d3d3d3"/>
<circle cx="1000.6" cy="320.5" r="3.4" fill="#d3d3d3"/>
<circle cx="972.8" cy="288.6" r="3.4" fill="#d3d3d3"/>
<circle cx="1054.7" cy="286.4" r="3.4" fill="#d3d3d3"/>
<circle cx="874.1" cy="264.2" r="3.4" fill="#e8c420"/>
<circle cx="863.5" cy="271.1" r="3.4" fill="#d3d3d3"/>
<circle cx="953.7" cy="251.3" r="3.4" fill="#d3d3d3"/>
<circle cx="938.8" cy="191.6" r="3.4" fill="#d3d3d3"/>
<circle cx="975.9" cy="275.1" r="3.4" fill="#d3d3d3"/>
<circle cx="1157.0" cy="287.1" r="3.4" fill="#d3d3d3"/>
<circle cx="1104.1" cy="255.3" r="3.4" fill="#d3d3d3"/>
<circle cx="1070.6" cy="290.0" r="3.4" fill="#d3d3d3"/>
<circle cx="898.7" cy="269.8" r="3.4" fill="#e8c420"/>
<circle cx="989.3" cy="289.0" r="3.4" fill="#d3d3d3"/>
<circle cx="902.3" cy="249.2" r="3.4" fill="#d3d3d3"/>
<circle cx="1039.9" cy="313.3" r="3.4" fill="#d3d3d3"/>
<circle cx="918.2" cy="311.9" r="3.4" fill="#d3d3d3"/>
<circle cx="909.2" cy="244.6" r="3.4" fill="#d3d3d3"/>
<circle cx="1021.1" cy="329.7" r="3.4" fill="#d3d3d3"/>
<circle cx="1170.6" cy="311.8" r="3.4" fill="#e8c420"/>
<circle cx="1134.5" cy="218.3" r="3.4" fill="#d3d3d3"/>
<circle cx="924.8" cy="300.2" r="3.4" fill="#d3d3d3"/>
<circle cx="1064.9" cy="265.7" r="3.4" fill="#d3d3d3"/>
<circle cx="1048.9" cy="282.9" r="3.4" fill="#d3d3d3"/>
<circle cx="1054.2" cy="227.4" r="3.4" fill="#d3d3d3"/>
<circle cx="965.2" cy="269.1" r="3.4" fill="#d3d3d3"/>
<circle cx="886.1" cy="274.2" r="3.4" fill="#d3d3d3"/>
<circle cx="986.0" cy="247.1" r="3.4" fill="#d3d3d3"/>
<circle cx="893.2" cy="218.8" r="3.4" fill="#d3d3d3"/>
<circle cx="1049.6" cy="241.0" r="3.4" fill="#e8c420"/>
<circle cx="1019.6" cy="231.3" r="3.4" fill="#d3d3d3"/>
<circle cx="998.4" cy="192.3" r="3.4" fill="#d3d3d3"/>
<circle cx="1087.8" cy="298.8" r="3.4" fill="#d3d3d3"/>
<circle cx="1082.0" cy="338.6" r="3.4" fill="#d3d3d3"/>
<circle cx="886.2" cy="294.4" r="3.4" fill="#d3d3d3"/>
<circle cx="970.5" cy="274.0" r="3.4" fill="#d3d3d3"/>
<circle cx="1018.0" cy="240.4" r="3.4" fill="#d3d3d3"/>
<circle cx="1095.5" cy="366.7" r="3.4" fill="#d3d3d3"/>
<circle cx="936.0" cy="250.3" r="3.4" fill="#d3d3d3"/>
<circle cx="1085.1" cy="258.9" r="3.4" fill="#d3d3d3"/>
<circle cx="1055.8" cy="312.7" r="3.4" fill="#d3d3d3"/>
<circle cx="1030.1" cy="268.2" r="3.4" fill="#d3d3d3"/>
<circle cx="964.4" cy="267.9" r="3.4" fill="#d3d3d3"/>
<circle cx="1091.5" cy="241.1" r="3.4" fill="#d3d3d3"/>
<circle cx="1083.1" cy="307.1" r="3.4" fill="#d3d3d3"/>
<circle cx="988.6" cy="218.4" r="3.4" fill="#d3d3d3"/>
<circle cx="1102.0" cy="225.9" r="3.4" fill="#d3d3d3"/>
<circle cx="983.0" cy="248.4" r="3.4" fill="#d3d3d3"/>
<circle cx="1032.6" cy="262.8" r="3.4" fill="#d3d3d3"/>
<circle cx="866.9" cy="257.5" r="3.4" fill="#d3d3d3"/>
<circle cx="844.3" cy="249.4" r="3.4" fill="#d3d3d3"/>
<circle cx="905.2" cy="246.5" r="3.4" fill="#d3d3d3"/>
<circle cx="947.2" cy="333.4" r="3.4" fill="#d3d3d3"/>
<circle cx="1152.9" cy="221.3" r="3.4" fill="#d3d3d3"/>
<circle cx="1081.9" cy="235.1" r="3.4" fill="#d3d3d3"/>
<circle cx="939.9" cy="226.4" r="3.4" fill="#d3d3d3"/>
<circle cx="1054.9" cy="225.5" r="3.4" fill="#d3d3d3"/>
<circle cx="1161.5" cy="268.4" r="3.4" fill="#d3d3d3"/>
<circle cx="991.5" cy="288.7" r="3.4" fill="#d3d3d3"/>
<circle cx="981.2" cy="260.5" r="3.4" fill="#d3d3d3"/>
<circle cx="1049.6" cy="243.6" r="3.4" fill="#d3d3d3"/>
<circle cx="938.0" cy="296.9" r="3.4" fill="#d3d3d3"/>
<circle cx="1070.8" cy="222.9" r="3.4" fill="#e8c420"/>
<circle cx="1133.4" cy="285.6" r="3.4" fill="#d3d3d3"/>
<circle cx="922.1" cy="281.5" r="3.4" fill="#d3d3d3"/>
<circle cx="1019.5" cy="233.6" r="3.4" fill="#d3d3d3"/>
<circle cx="1051.5" cy="293.7" r="3.4" fill="#d3d3d3"/>
<circle cx="1023.2" cy="196.2" r="3.4" fill="#d3d3d3"/>
<circle cx="914.4" cy="315.3" r="3.4" fill="#d3d3d3"/>
<circle cx="904.7" cy="318.5" r="3.4" fill="#d3d3d3"/>
<circle cx="1085.2" cy="280.3" r="3.4" fill="#d3d3d3"/>
<circle cx="958.9" cy="273.0" r="3.4" fill="#d3d3d3"/>
<circle cx="1079.5" cy="283.3" r="3.4" fill="#d3d3d3"/>
<circle cx="1088.2" cy="333.2" r="3.4" fill="#d3d3d3"/>
<circle cx="1038.9" cy="243.4" r="3.4" fill="#d3d3d3"/>
<circle cx="921.3" cy="252.8" r="3.4" fill="#d3d3d3"/>
<circle cx="1112.4" cy="324.6" r="3.4" fill="#d3d3d3"/>
<circle cx="1127.5" cy="238.6" r="3.4" fill="#d3d3d3"/>
<circle cx="939.1" cy="296.4" r="3.4" fill="#d3d3d3"/>
<circle cx="1048.8" cy="227.9" r="3.4" fill="#d3d3d3"/>
<circle cx="1049.7" cy="256.3" r="3.4" fill="#d3d3d3"/>
<circle cx="972.3" cy="295.0" r="3.4" fill="#d3d3d3"/>
<circle cx="1051.6" cy="206.0" r="3.4" fill="#d3d3d3"/>
<circle cx="1056.2" cy="235.7" r="3.4" fill="#d3d3d3"/>
<circle cx="982.0" cy="240.9" r="3.4" fill="#d3d3d3"/>
<circle cx="1099.3" cy="303.1" r="3.4" fill="#d3d3d3"/>
<circle cx="880.4" cy="299.1" r="3.4" fill="#d3d3d3"/>
<circle cx="1002.2" cy="279.4" r="3.4" fill="#d3d3d3"/>
<circle cx="1023.6" cy="242.5" r="3.4" fill="#d3d3d3"/>
<circle cx="981.2" cy="200.5" r="3.4" fill="#d3d3d3"/>
<circle cx="848.2" cy="262.6" r="3.4" fill="#d3d3d3"/>
<circle cx="961.0" cy="330.5" r="3.4" fill="#d3d3d3"/>
<circle cx="1059.0" cy="280.9" r="3.4" fill="#d3d3d3"/>
<circle cx="1020.7" cy="279.3" r="3.4" fill="#d3d3d3"/>
<circle cx="1098.9" cy="287.9" r="3.4" fill="#d3d3d3"/>
<circle cx="1124.0" cy="295.1" r="3.4" fill="#d3d3d3"/>
<circle cx="947.6" cy="224.8" r="3.4" fill="#d3d3d3"/>
<circle cx="1031.0" cy="311.5" r="3.4" fill="#d3d3d3"/>
<circle cx="976.1" cy="269.4" r="3.4" fill="#d3d3d3"/>
<circle cx="972.2" cy="283.2" r="3.4" fill="#d3d3d3"/>
<circle cx="1168.4" cy="246.5" r="3.4" fill="#d3d3d3"/>
<circle cx="919.2" cy="225.0" r="3.4" fill="#d3d3d3"/>
<circle cx="974.4" cy="247.3" r="3.4" fill="#e8c420"/>
<circle cx="954.4" cy="281.9" r="3.4" fill="#d3d3d3"/>
<circle cx="1047.3" cy="296.8" r="3.4" fill="#d3d3d3"/>
<circle cx="966.2" cy="270.5" r="3.4" fill="#d3d3d3"/>
<circle cx="1064.1" cy="283.1" r="3.4" fill="#d3d3d3"/>
<circle cx="925.9" cy="311.2" r="3.4" fill="#d3d3d3"/>
<circle cx="1147.1" cy="282.4" r="3.4" fill="#d3d3d3"/>
<circle cx="1121.4" cy="302.4" r="3.4" fill="#d3d3d3"/>
<circle cx="1009.4" cy="277.8" r="3.4" fill="#d3d3d3"/>
<circle cx="1093.0" cy="247.8" r="3.4" fill="#d3d3d3"/>
<circle cx="1083.9" cy="292.3" r="3.4" fill="#d3d3d3"/>
<circle cx="1096.5" cy="311.6" r="3.4" fill="#d3d3d3"/>
<circle cx="910.1" cy="278.8" r="3.4" fill="#d3d3d3"/>
<circle cx="988.4" cy="217.3" r="3.4" fill="#d3d3d3"/>
<circle cx="882.0" cy="293.4" r="3.4" fill="#d3d3d3"/>
<circle cx="1068.5" cy="263.8" r="3.4" fill="#d3d3d3"/>
<circle cx="1179.7" cy="265.0" r="3.4" fill="#d3d3d3"/>
<circle cx="1123.7" cy="226.2" r="3.4" fill="#d3d3d3"/>
<circle cx="934.9" cy="316.7" r="3.4" fill="#d3d3d3"/>
<circle cx="1093.0" cy="337.9" r="3.4" fill="#d3d3d3"/>
<circle cx="926.9" cy="320.6" r="3.4" fill="#d3d3d3"/>
<circle cx="1049.4" cy="199.8" r="3.4" fill="#d3d3d3"/>
<circle cx="992.6" cy="228.8" r="3.4" fill="#d3d3d3"/>
<circle cx="890.0" cy="316.0" r="3.4" fill="#d3d3d3"/>
<circle cx="977.9" cy="257.1" r="3.4" fill="#d3d3d3"/>
<circle cx="990.2" cy="320.0" r="3.4" fill="#d3d3d3"/>
<circle cx="1160.9" cy="241.8" r="3.4" fill="#d3d3d3"/>
<circle cx="1127.8" cy="327.2" r="3.4" fill="#d3d3d3"/>
<circle cx="1155.2" cy="314.0" r="3.4" fill="#d3d3d3"/>
<circle cx="927.1" cy="242.8" r="3.4" fill="#d3d3d3"/>
<circle cx="1051.6" cy="288.1" r="3.4" fill="#d3d3d3"/>
<circle cx="983.8" cy="273.2" r="3.4" fill="#d3d3d3"/>
<circle cx="1035.2" cy="324.8" r="3.4" fill="#d3d3d3"/>
<circle cx="946.6" cy="277.8" r="3.4" fill="#d3d3d3"/>
<circle cx="903.5" cy="245.0" r="3.4" fill="#d3d3d3"/>
<circle cx="1094.6" cy="304.7" r="3.4" fill="#d3d3d3"/>
<circle cx="1051.3" cy="227.6" r="3.4" fill="#d3d3d3"/>
<circle cx="1003.9" cy="244.3" r="3.4" fill="#d3d3d3"/>
<circle cx="992.1" cy="238.7" r="3.4" fill="#d3d3d3"/>
<circle cx="995.1" cy="121.1" r="3.4" fill="#1a1a1a"/>
<circle cx="1074.3" cy="116.6" r="3.4" fill="#5a46be"/>
<circle cx="1062.6" cy="128.3" r="3.4" fill="#5a5c77"/>
<circle cx="1050.9" cy="136.6" r="3.4" fill="#1a1a1a"/>
<circle cx="1017.1" cy="143.7" r="3.4" fill="#1a1a1a"/>
<circle cx="1011.3" cy="147.6" r="3.4" fill="#5a5c77"/>
<circle cx="1024.5" cy="155.9" r="3.4" fill="#1a1a1a"/>
<circle cx="1031.8" cy="155.9" r="3.4" fill="#92e2ca"/>
<circle cx="1140.3" cy="155.4" r="3.4" fill="#1a1a1a"/>
<circle cx="1096.3" cy="155.9" r="3.4" fill="#5a5c77"/>
<circle cx="1097.8" cy="160.9" r="3.4" fill="#1a1a1a"/>
<circle cx="1083.1" cy="154.8" r="3.4" fill="#5a5c77"/>
<circle cx="1042.1" cy="442.4" r="3.4" fill="#1a1a1a"/>
<circle cx="1093.4" cy="428.0" r="3.4" fill="#5a5c77"/>
<circle cx="1026.7" cy="424.1" r="3.4" fill="#5a46be"/>
<circle cx="1020.8" cy="418.6" r="3.4" fill="#1a1a1a"/>
<circle cx="985.6" cy="411.4" r="3.4" fill="#5a5c77"/>
<circle cx="1002.5" cy="409.7" r="3.4" fill="#5a5c77"/>
<circle cx="833.2" cy="288.6" r="3.4" fill="#92e2ca"/>
<circle cx="838.3" cy="271.5" r="3.4" fill="#e8c420"/>
<circle cx="842.7" cy="274.8" r="3.4" fill="#5a5c77"/>
<circle cx="844.9" cy="305.2" r="3.4" fill="#5c2319"/>
<circle cx="844.1" cy="262.6" r="3.4" fill="#5a5c77"/>
<circle cx="853.7" cy="227.8" r="3.4" fill="#a2ea78"/>
<circle cx="1223.8" cy="229.5" r="3.4" fill="#d3d3d3"/>
<circle cx="1221.6" cy="237.2" r="3.4" fill="#d3d3d3"/>
<circle cx="1201.8" cy="212.3" r="3.4" fill="#d3d3d3"/>
<circle cx="1224.6" cy="270.9" r="3.4" fill="#d3d3d3"/>
<circle cx="1229.0" cy="275.9" r="3.4" fill="#d3d3d3"/>
<circle cx="1221.6" cy="284.2" r="3.4" fill="#d3d3d3"/>
<circle cx="1229.7" cy="289.7" r="3.4" fill="#d3d3d3"/>
<circle cx="1230.4" cy="296.4" r="3.4" fill="#d3d3d3"/>
<circle cx="1214.3" cy="303.6" r="3.4" fill="#d3d3d3"/>
<circle cx="1212.8" cy="259.3" r="3.4" fill="#d3d3d3"/>
<circle cx="1204.0" cy="262.1" r="3.4" fill="#5a5c77"/>
<circle cx="1200.4" cy="269.3" r="3.4" fill="#5a46be"/>
<circle cx="1197.5" cy="256.0" r="3.4" fill="#f15b51"/>
<circle cx="1196.0" cy="316.3" r="3.4" fill="#5a5c77"/>
<circle cx="1183.5" cy="338.9" r="3.4" fill="#5a5c77"/>
<circle cx="1168.9" cy="351.1" r="3.4" fill="#a2ea78"/>
<circle cx="885.2" cy="391.5" r="3.4" fill="#1a1a1a"/>
<circle cx="873.5" cy="345.6" r="3.4" fill="#5a46be"/>
<circle cx="888.9" cy="372.7" r="3.4" fill="#5a46be"/>
<circle cx="897.7" cy="364.4" r="3.4" fill="#1a1a1a"/>
<circle cx="940.2" cy="390.9" r="3.4" fill="#a2ea78"/>
<circle cx="995.9" cy="398.1" r="3.4" fill="#e8c420"/>
<circle cx="1175.5" cy="196.3" r="3.4" fill="#d3d3d3"/>
<circle cx="1154.9" cy="194.6" r="3.4" fill="#5a46be"/>
<circle cx="1137.3" cy="173.6" r="3.4" fill="#5a5c77"/>
<circle cx="1130.7" cy="171.4" r="3.4" fill="#1a1a1a"/>
<circle cx="1152.7" cy="183.6" r="3.4" fill="#d3d3d3"/>
<circle cx="1141.7" cy="183.6" r="3.4" fill="#5a46be"/>
</g>
<line x1="814.7" y1="100.5" x2="814.7" y2="458.8" stroke="#000" stroke-width="1.5" />
<line x1="814.0" y1="458.1" x2="1250.5" y2="458.1" stroke="#000" stroke-width="1.5" />
<line x1="810.5" y1="108.9" x2="814.7" y2="108.9" stroke="#000" stroke-width="1.3" />
<text transform="translate(782.0 112.7) scale(1.04 1)" font-size="18.5" text-anchor="middle" >30</text>
<line x1="810.5" y1="164.2" x2="814.7" y2="164.2" stroke="#000" stroke-width="1.3" />
<text transform="translate(782.0 168.0) scale(1.04 1)" font-size="18.5" text-anchor="middle" >20</text>
<line x1="810.5" y1="219.5" x2="814.7" y2="219.5" stroke="#000" stroke-width="1.3" />
<text transform="translate(782.0 223.3) scale(1.04 1)" font-size="18.5" text-anchor="middle" >10</text>
<line x1="810.5" y1="274.8" x2="814.7" y2="274.8" stroke="#000" stroke-width="1.3" />
<text transform="translate(782.0 278.6) scale(1.04 1)" font-size="18.5" text-anchor="middle" >0</text>
<line x1="810.5" y1="330.1" x2="814.7" y2="330.1" stroke="#000" stroke-width="1.3" />
<text transform="translate(782.0 333.9) scale(1.04 1)" font-size="18.5" text-anchor="middle" >−10</text>
<line x1="810.5" y1="385.4" x2="814.7" y2="385.4" stroke="#000" stroke-width="1.3" />
<text transform="translate(782.0 389.2) scale(1.04 1)" font-size="18.5" text-anchor="middle" >−20</text>
<line x1="810.5" y1="440.7" x2="814.7" y2="440.7" stroke="#000" stroke-width="1.3" />
<text transform="translate(782.0 444.5) scale(1.04 1)" font-size="18.5" text-anchor="middle" >−30</text>
<line x1="872.0" y1="458.1" x2="872.0" y2="462.2" stroke="#000" stroke-width="1.3" />
<text transform="translate(879.9 484.4) scale(1.05 1)" font-size="18.5" text-anchor="middle" >−20</text>
<line x1="945.3" y1="458.1" x2="945.3" y2="462.2" stroke="#000" stroke-width="1.3" />
<text transform="translate(953.5 484.4) scale(1.05 1)" font-size="18.5" text-anchor="middle" >−10</text>
<line x1="1018.6" y1="458.1" x2="1018.6" y2="462.2" stroke="#000" stroke-width="1.3" />
<text transform="translate(1022.0 484.4) scale(1.05 1)" font-size="18.5" text-anchor="middle" >0</text>
<line x1="1091.9" y1="458.1" x2="1091.9" y2="462.2" stroke="#000" stroke-width="1.3" />
<text transform="translate(1096.0 484.4) scale(1.05 1)" font-size="18.5" text-anchor="middle" >10</text>
<line x1="1165.2" y1="458.1" x2="1165.2" y2="462.2" stroke="#000" stroke-width="1.3" />
<text transform="translate(1170.3 484.4) scale(1.05 1)" font-size="18.5" text-anchor="middle" >20</text>
<line x1="1238.5" y1="458.1" x2="1238.5" y2="462.2" stroke="#000" stroke-width="1.3" />
<text transform="translate(1243.8 484.4) scale(1.05 1)" font-size="18.5" text-anchor="middle" >30</text>
<text transform="translate(1050.5 498.5) scale(1.05 1)" font-size="18.5" text-anchor="middle" >PC1</text>
<text transform="translate(759.2,272.3) rotate(-90) scale(1.06 1)" font-size="18.5" text-anchor="middle">PC2</text>
<circle cx="1280.3" cy="145.9" r="3.6" fill="#223163" fill-opacity="0.8"/>
<text transform="translate(1299.4 150.7) scale(1.015 1)" font-size="19" text-anchor="start" >GSE13213</text>
<circle cx="1280.3" cy="170.1" r="3.6" fill="#5a46be" fill-opacity="0.8"/>
<text transform="translate(1299.4 174.9) scale(1.015 1)" font-size="19" text-anchor="start" >GSE14814</text>
<circle cx="1280.3" cy="194.2" r="3.6" fill="#92e2ca" fill-opacity="0.8"/>
<text transform="translate(1299.4 199.0) scale(1.015 1)" font-size="19" text-anchor="start" >GSE26939</text>
<circle cx="1280.3" cy="218.4" r="3.6" fill="#a2ea78" fill-opacity="0.8"/>
<text transform="translate(1299.4 223.2) scale(1.015 1)" font-size="19" text-anchor="start" >GSE30219</text>
<circle cx="1280.3" cy="242.6" r="3.6" fill="#e8c420" fill-opacity="0.8"/>
<text transform="translate(1299.4 247.4) scale(1.015 1)" font-size="19" text-anchor="start" >GSE31210</text>
<circle cx="1280.3" cy="266.8" r="3.6" fill="#5c2319" fill-opacity="0.8"/>
<text transform="translate(1299.4 271.6) scale(1.015 1)" font-size="19" text-anchor="start" >GSE3141</text>
<circle cx="1280.3" cy="290.9" r="3.6" fill="#f15b51" fill-opacity="0.8"/>
<text transform="translate(1299.4 295.7) scale(1.015 1)" font-size="19" text-anchor="start" >GSE37745</text>
<circle cx="1280.3" cy="315.1" r="3.6" fill="#b5160b" fill-opacity="0.8"/>
<text transform="translate(1299.4 319.9) scale(1.015 1)" font-size="19" text-anchor="start" >GSE41271</text>
<circle cx="1280.3" cy="339.3" r="3.6" fill="#d873cc" fill-opacity="0.8"/>
<text transform="translate(1299.4 344.1) scale(1.015 1)" font-size="19" text-anchor="start" >GSE42127</text>
<circle cx="1280.3" cy="363.4" r="3.6" fill="#1a1a1a" fill-opacity="0.8"/>
<text transform="translate(1299.4 368.2) scale(1.015 1)" font-size="19" text-anchor="start" >GSE50081</text>
<circle cx="1280.3" cy="387.6" r="3.6" fill="#5a5c77" fill-opacity="0.8"/>
<text transform="translate(1299.4 392.4) scale(1.015 1)" font-size="19" text-anchor="start" >GSE68465</text>
<circle cx="1280.3" cy="411.8" r="3.6" fill="#d3d3d3" fill-opacity="0.8"/>
<text transform="translate(1299.4 416.6) scale(1.015 1)" font-size="19" text-anchor="start" >TCGA</text>
<path d="M1667.7 73.8L1667.7 2.7L1814.8 2.7L1814.8 72.3M1614.9 85.4L1614.9 73.8L1720.9 73.8L1720.9 78.6M1718.3 85.9L1718.3 78.6L1723.3 78.6L1723.3 101.3M1715.6 91.3L1715.6 85.9L1720.3 85.9L1720.3 101.3M1713.3 101.3L1713.3 91.3L1716.6 91.3L1716.6 101.3M1562.3 101.3L1562.3 85.4L1668.0 85.4L1668.0 87.5M1641.2 90.7L1641.2 87.5L1694.7 87.5L1696.5 88.6L1697.5 90.9L1697.5 101.3M1591.3 94.5L1591.3 90.7L1691.1 90.7L1691.1 101.3M1567.3 101.3L1567.3 94.5L1662.5 94.5L1662.5 96.8M1693.2 89.5L1693.2 101.3M1695.2 91.0L1695.2 101.3M1698.4 95.0L1700.0 97.2L1703.0 99.2L1707.5 100.4L1713.0 100.8M1738.9 79.2L1738.9 72.3L1889.9 72.3L1889.9 76.3M1725.3 101.3L1725.3 79.2L1752.8 79.2L1752.8 85.2M1728.3 101.3L1728.3 85.2L1777.6 85.2L1777.6 88.3M1735.9 93.6L1735.9 88.3L1819.8 88.3L1819.8 90.4M1752.7 93.6L1752.7 90.4L1886.1 90.4L1886.1 101.3M1732.7 101.3L1732.7 93.6L1738.5 93.6L1738.5 95.5M1737.0 101.3L1737.0 95.5L1744.0 95.5L1744.0 98.0M1740.0 101.3L1740.0 98.0L1747.2 98.0L1747.2 101.3M1750.4 101.3L1750.4 93.6L1755.6 93.6L1755.6 95.2M1754.0 101.3L1754.0 95.2L1759.5 95.2L1759.5 97.2M1757.5 101.3L1757.5 97.2L1763.6 97.2L1763.6 99.5M1729.8 101.3L1729.8 90.0L1731.6 90.0L1731.6 101.3M1888.3 101.3L1888.3 76.3L1892.4 76.3L1892.4 83.1M1889.7 101.3L1889.7 83.1L1894.7 83.1L1894.7 86.3M1893.3 101.3L1893.3 86.3L1897.4 86.3L1897.4 101.3M1883.0 101.3L1883.0 94.0L1885.0 94.0L1885.0 101.3" fill="none" stroke="#111" stroke-width="0.95"/>
<path d="M1575.4 101.5L1586.3 99H1635.3L1636.5 96.8H1689.3V101.5Z" fill="#7a7a7a"/>
<path d="M1779 101.6V99.7H1878.8V101.6Z" fill="#777"/>
<path d="M1763.6 101.6V99H1779V101.6Z" fill="#111"/>
<path d="M1560.7 101.7H1561.6V90.5H1560.7ZM1561.6 101.7H1563.4V92.0H1561.6ZM1563.4 101.7H1565.0V96.0H1563.4ZM1565.0 101.7H1566.8V98.5H1565.0ZM1567.6 101.7H1568.8V96.0H1567.6ZM1689.3 101.7H1691.3V93.0H1689.3ZM1691.3 101.7H1694.0V90.5H1691.3ZM1694.0 101.7H1696.2V92.0H1694.0ZM1696.2 101.7H1698.4V95.0H1696.2ZM1713.3 101.7H1715.0V95.0H1713.3ZM1715.6 101.7H1717.0V92.0H1715.6ZM1717.0 101.7H1718.3V96.0H1717.0ZM1722.0 101.7H1725.6V83.6H1722.0ZM1725.6 101.7H1727.2V91.0H1725.6ZM1727.2 101.7H1729.0V95.0H1727.2ZM1729.0 101.7H1732.0V97.5H1729.0ZM1733.0 101.7H1734.5V97.0H1733.0ZM1748.0 101.7H1750.0V98.0H1748.0ZM1751.0 101.7H1752.5V96.5H1751.0ZM1882.4 101.7H1884.0V95.0H1882.4ZM1884.0 101.7H1886.5V92.0H1884.0ZM1886.5 101.7H1888.3V94.0H1886.5ZM1888.3 101.7H1890.0V90.9H1888.3ZM1890.0 101.7H1892.4V92.5H1890.0ZM1892.4 101.7H1893.3V96.0H1892.4ZM1894.7 101.7H1896.0V93.0H1894.7ZM1896.0 101.7H1897.6V95.0H1896.0Z" fill="#0b0b0b"/>
<line x1="1560.6" y1="101.4" x2="1898.0" y2="101.4" stroke="#111" stroke-width="1.3" />
<rect x="1560.1" y="105.2" width="164.8" height="15" fill="#a6cee3"/><rect x="1724.9" y="105.2" width="173.6" height="15" fill="#1f78b4"/>
<pattern id="pv" patternUnits="userSpaceOnUse" width="127" height="8"><rect x="0.0" y="0" width="1.0" height="8" fill="#00f" fill-opacity="0.14"/><rect x="3.5" y="0" width="1.1" height="8" fill="#00f" fill-opacity="0.04"/><rect x="5.9" y="0" width="1.3" height="8" fill="#00f" fill-opacity="0.16"/><rect x="7.7" y="0" width="0.9" height="8" fill="#fff" fill-opacity="0.11"/><rect x="10.2" y="0" width="0.5" height="8" fill="#fff" fill-opacity="0.08"/><rect x="13.2" y="0" width="1.1" height="8" fill="#fff" fill-opacity="0.14"/><rect x="14.9" y="0" width="1.0" height="8" fill="#fff" fill-opacity="0.04"/><rect x="18.2" y="0" width="0.7" height="8" fill="#fff" fill-opacity="0.17"/><rect x="21.2" y="0" width="0.7" height="8" fill="#00f" fill-opacity="0.11"/><rect x="23.8" y="0" width="0.7" height="8" fill="#00f" fill-opacity="0.13"/><rect x="26.9" y="0" width="1.2" height="8" fill="#fff" fill-opacity="0.09"/><rect x="28.8" y="0" width="0.6" height="8" fill="#fff" fill-opacity="0.08"/><rect x="31.1" y="0" width="0.5" height="8" fill="#00f" fill-opacity="0.08"/><rect x="32.7" y="0" width="1.2" height="8" fill="#fff" fill-opacity="0.08"/><rect x="35.2" y="0" width="1.1" height="8" fill="#fff" fill-opacity="0.17"/><rect x="36.6" y="0" width="1.1" height="8" fill="#00f" fill-opacity="0.04"/><rect x="39.8" y="0" width="0.8" height="8" fill="#00f" fill-opacity="0.04"/><rect x="41.0" y="0" width="0.6" height="8" fill="#00f" fill-opacity="0.07"/><rect x="43.7" y="0" width="1.2" height="8" fill="#00f" fill-opacity="0.08"/><rect x="46.1" y="0" width="0.9" height="8" fill="#00f" fill-opacity="0.05"/><rect x="49.0" y="0" width="1.1" height="8" fill="#00f" fill-opacity="0.04"/><rect x="52.6" y="0" width="0.6" height="8" fill="#fff" fill-opacity="0.12"/><rect x="55.6" y="0" width="0.8" height="8" fill="#00f" fill-opacity="0.11"/><rect x="57.4" y="0" width="0.8" height="8" fill="#fff" fill-opacity="0.05"/><rect x="58.8" y="0" width="1.1" height="8" fill="#00f" fill-opacity="0.06"/><rect x="60.3" y="0" width="1.3" height="8" fill="#fff" fill-opacity="0.09"/><rect x="62.4" y="0" width="1.0" height="8" fill="#00f" fill-opacity="0.10"/><rect x="64.7" y="0" width="0.5" height="8" fill="#00f" fill-opacity="0.04"/><rect x="66.6" y="0" width="1.2" height="8" fill="#fff" fill-opacity="0.14"/><rect x="70.3" y="0" width="1.0" height="8" fill="#00f" fill-opacity="0.05"/><rect x="72.6" y="0" width="0.6" height="8" fill="#00f" fill-opacity="0.08"/><rect x="74.6" y="0" width="1.3" height="8" fill="#00f" fill-opacity="0.17"/><rect x="77.2" y="0" width="0.9" height="8" fill="#00f" fill-opacity="0.10"/><rect x="79.1" y="0" width="0.8" height="8" fill="#fff" fill-opacity="0.09"/><rect x="82.5" y="0" width="1.3" height="8" fill="#00f" fill-opacity="0.10"/><rect x="84.8" y="0" width="0.6" height="8" fill="#fff" fill-opacity="0.14"/><rect x="87.7" y="0" width="0.8" height="8" fill="#00f" fill-opacity="0.14"/><rect x="90.4" y="0" width="1.0" height="8" fill="#00f" fill-opacity="0.09"/><rect x="93.3" y="0" width="0.7" height="8" fill="#fff" fill-opacity="0.14"/><rect x="95.9" y="0" width="0.7" height="8" fill="#00f" fill-opacity="0.12"/><rect x="98.3" y="0" width="0.5" height="8" fill="#fff" fill-opacity="0.07"/><rect x="100.6" y="0" width="0.9" height="8" fill="#00f" fill-opacity="0.12"/><rect x="103.6" y="0" width="0.8" height="8" fill="#00f" fill-opacity="0.14"/><rect x="106.6" y="0" width="0.8" height="8" fill="#00f" fill-opacity="0.15"/><rect x="109.3" y="0" width="1.3" height="8" fill="#00f" fill-opacity="0.11"/><rect x="112.1" y="0" width="0.6" height="8" fill="#00f" fill-opacity="0.16"/><rect x="114.1" y="0" width="1.1" height="8" fill="#00f" fill-opacity="0.13"/><rect x="115.9" y="0" width="1.1" height="8" fill="#00f" fill-opacity="0.13"/><rect x="118.3" y="0" width="1.0" height="8" fill="#00f" fill-opacity="0.12"/><rect x="121.2" y="0" width="0.5" height="8" fill="#fff" fill-opacity="0.10"/><rect x="123.5" y="0" width="0.7" height="8" fill="#00f" fill-opacity="0.12"/><rect x="124.6" y="0" width="0.9" height="8" fill="#fff" fill-opacity="0.05"/></pattern>
<pattern id="ph" patternUnits="userSpaceOnUse" width="8" height="127"><rect y="0.0" x="0" height="1.0" width="8" fill="#00f" fill-opacity="0.14"/><rect y="3.5" x="0" height="1.1" width="8" fill="#00f" fill-opacity="0.04"/><rect y="5.9" x="0" height="1.3" width="8" fill="#00f" fill-opacity="0.16"/><rect y="7.7" x="0" height="0.9" width="8" fill="#fff" fill-opacity="0.11"/><rect y="10.2" x="0" height="0.5" width="8" fill="#fff" fill-opacity="0.08"/><rect y="13.2" x="0" height="1.1" width="8" fill="#fff" fill-opacity="0.14"/><rect y="14.9" x="0" height="1.0" width="8" fill="#fff" fill-opacity="0.04"/><rect y="18.2" x="0" height="0.7" width="8" fill="#fff" fill-opacity="0.17"/><rect y="21.2" x="0" height="0.7" width="8" fill="#00f" fill-opacity="0.11"/><rect y="23.8" x="0" height="0.7" width="8" fill="#00f" fill-opacity="0.13"/><rect y="26.9" x="0" height="1.2" width="8" fill="#fff" fill-opacity="0.09"/><rect y="28.8" x="0" height="0.6" width="8" fill="#fff" fill-opacity="0.08"/><rect y="31.1" x="0" height="0.5" width="8" fill="#00f" fill-opacity="0.08"/><rect y="32.7" x="0" height="1.2" width="8" fill="#fff" fill-opacity="0.08"/><rect y="35.2" x="0" height="1.1" width="8" fill="#fff" fill-opacity="0.17"/><rect y="36.6" x="0" height="1.1" width="8" fill="#00f" fill-opacity="0.04"/><rect y="39.8" x="0" height="0.8" width="8" fill="#00f" fill-opacity="0.04"/><rect y="41.0" x="0" height="0.6" width="8" fill="#00f" fill-opacity="0.07"/><rect y="43.7" x="0" height="1.2" width="8" fill="#00f" fill-opacity="0.08"/><rect y="46.1" x="0" height="0.9" width="8" fill="#00f" fill-opacity="0.05"/><rect y="49.0" x="0" height="1.1" width="8" fill="#00f" fill-opacity="0.04"/><rect y="52.6" x="0" height="0.6" width="8" fill="#fff" fill-opacity="0.12"/><rect y="55.6" x="0" height="0.8" width="8" fill="#00f" fill-opacity="0.11"/><rect y="57.4" x="0" height="0.8" width="8" fill="#fff" fill-opacity="0.05"/><rect y="58.8" x="0" height="1.1" width="8" fill="#00f" fill-opacity="0.06"/><rect y="60.3" x="0" height="1.3" width="8" fill="#fff" fill-opacity="0.09"/><rect y="62.4" x="0" height="1.0" width="8" fill="#00f" fill-opacity="0.10"/><rect y="64.7" x="0" height="0.5" width="8" fill="#00f" fill-opacity="0.04"/><rect y="66.6" x="0" height="1.2" width="8" fill="#fff" fill-opacity="0.14"/><rect y="70.3" x="0" height="1.0" width="8" fill="#00f" fill-opacity="0.05"/><rect y="72.6" x="0" height="0.6" width="8" fill="#00f" fill-opacity="0.08"/><rect y="74.6" x="0" height="1.3" width="8" fill="#00f" fill-opacity="0.17"/><rect y="77.2" x="0" height="0.9" width="8" fill="#00f" fill-opacity="0.10"/><rect y="79.1" x="0" height="0.8" width="8" fill="#fff" fill-opacity="0.09"/><rect y="82.5" x="0" height="1.3" width="8" fill="#00f" fill-opacity="0.10"/><rect y="84.8" x="0" height="0.6" width="8" fill="#fff" fill-opacity="0.14"/><rect y="87.7" x="0" height="0.8" width="8" fill="#00f" fill-opacity="0.14"/><rect y="90.4" x="0" height="1.0" width="8" fill="#00f" fill-opacity="0.09"/><rect y="93.3" x="0" height="0.7" width="8" fill="#fff" fill-opacity="0.14"/><rect y="95.9" x="0" height="0.7" width="8" fill="#00f" fill-opacity="0.12"/><rect y="98.3" x="0" height="0.5" width="8" fill="#fff" fill-opacity="0.07"/><rect y="100.6" x="0" height="0.9" width="8" fill="#00f" fill-opacity="0.12"/><rect y="103.6" x="0" height="0.8" width="8" fill="#00f" fill-opacity="0.14"/><rect y="106.6" x="0" height="0.8" width="8" fill="#00f" fill-opacity="0.15"/><rect y="109.3" x="0" height="1.3" width="8" fill="#00f" fill-opacity="0.11"/><rect y="112.1" x="0" height="0.6" width="8" fill="#00f" fill-opacity="0.16"/><rect y="114.1" x="0" height="1.1" width="8" fill="#00f" fill-opacity="0.13"/><rect y="115.9" x="0" height="1.1" width="8" fill="#00f" fill-opacity="0.13"/><rect y="118.3" x="0" height="1.0" width="8" fill="#00f" fill-opacity="0.12"/><rect y="121.2" x="0" height="0.5" width="8" fill="#fff" fill-opacity="0.10"/><rect y="123.5" x="0" height="0.7" width="8" fill="#00f" fill-opacity="0.12"/><rect y="124.6" x="0" height="0.9" width="8" fill="#fff" fill-opacity="0.05"/></pattern>
<clipPath id="hcc"><rect x="1560.0" y="125.6" width="338.6" height="337.2"/></clipPath>
<filter id="hcf" x="-5%" y="-5%" width="110%" height="110%"><feGaussianBlur stdDeviation="0.9"/></filter>
<g clip-path="url(#hcc)"><g filter="url(#hcf)">
<rect x="1552.0" y="117.6" width="354.6" height="353.2" fill="#fff"/>
<rect x="1552.0" y="456.7" width="14.4" height="14.4" fill="#0000ff" fill-opacity="0.85"/>
<rect x="1552.0" y="330.1" width="14.4" height="127.0" fill="#0000ff" fill-opacity="0.88"/>
<rect x="1552.0" y="311.3" width="14.4" height="19.0" fill="#0000ff" fill-opacity="0.85"/>
<rect x="1552.0" y="300.3" width="14.4" height="11.4" fill="#0000ff" fill-opacity="0.90"/>
<rect x="1552.0" y="298.6" width="14.4" height="2.0" fill="#0000ff" fill-opacity="0.90"/>
<rect x="1552.0" y="291.1" width="14.4" height="7.8" fill="#0000ff" fill-opacity="0.16"/>
<rect x="1552.0" y="273.1" width="14.4" height="18.3" fill="#0000ff" fill-opacity="0.16"/>
<rect x="1552.0" y="265.6" width="14.4" height="7.8" fill="#0000ff" fill-opacity="0.16"/>
<rect x="1552.0" y="142.6" width="14.4" height="123.3" fill="#0000ff" fill-opacity="0.16"/>
<rect x="1552.0" y="136.8" width="14.4" height="6.2" fill="#0000ff" fill-opacity="0.16"/>
<rect x="1552.0" y="117.6" width="14.4" height="19.5" fill="#0000ff" fill-opacity="0.40"/>
<rect x="1566.1" y="456.7" width="127.5" height="14.4" fill="#0000ff" fill-opacity="0.88"/>
<rect x="1566.1" y="330.1" width="127.5" height="127.0" fill="#0000ff" fill-opacity="1.00"/>
<rect x="1566.1" y="311.3" width="127.5" height="19.0" fill="#0000ff" fill-opacity="0.93"/>
<rect x="1566.1" y="300.3" width="127.5" height="11.4" fill="#0000ff" fill-opacity="0.90"/>
<rect x="1566.1" y="298.6" width="127.5" height="2.0" fill="#0000ff" fill-opacity="0.92"/>
<rect x="1566.1" y="291.1" width="127.5" height="7.8" fill="#0000ff" fill-opacity="0.12"/>
<rect x="1566.1" y="273.1" width="127.5" height="18.3" fill="#0000ff" fill-opacity="0.14"/>
<rect x="1566.1" y="265.6" width="127.5" height="7.8" fill="#0000ff" fill-opacity="0.02"/>
<rect x="1566.1" y="136.8" width="127.5" height="6.2" fill="#0000ff" fill-opacity="0.06"/>
<rect x="1566.1" y="117.6" width="127.5" height="19.5" fill="#0000ff" fill-opacity="0.30"/>
<rect x="1693.3" y="456.7" width="19.1" height="14.4" fill="#0000ff" fill-opacity="0.85"/>
<rect x="1693.3" y="330.1" width="19.1" height="127.0" fill="#0000ff" fill-opacity="0.93"/>
<rect x="1693.3" y="311.3" width="19.1" height="19.0" fill="#0000ff" fill-opacity="1.00"/>
<rect x="1693.3" y="300.3" width="19.1" height="11.4" fill="#0000ff" fill-opacity="0.90"/>
<rect x="1693.3" y="298.6" width="19.1" height="2.0" fill="#0000ff" fill-opacity="0.90"/>
<rect x="1693.3" y="291.1" width="19.1" height="7.8" fill="#0000ff" fill-opacity="0.12"/>
<rect x="1693.3" y="265.6" width="19.1" height="7.8" fill="#0000ff" fill-opacity="0.04"/>
<rect x="1693.3" y="142.6" width="19.1" height="123.3" fill="#0000ff" fill-opacity="0.12"/>
<rect x="1693.3" y="136.8" width="19.1" height="6.2" fill="#0000ff" fill-opacity="0.15"/>
<rect x="1693.3" y="117.6" width="19.1" height="19.5" fill="#0000ff" fill-opacity="0.35"/>
<rect x="1712.1" y="456.7" width="11.4" height="14.4" fill="#0000ff" fill-opacity="0.90"/>
<rect x="1712.1" y="330.1" width="11.4" height="127.0" fill="#0000ff" fill-opacity="0.90"/>
<rect x="1712.1" y="311.3" width="11.4" height="19.0" fill="#0000ff" fill-opacity="0.90"/>
<rect x="1712.1" y="300.3" width="11.4" height="11.4" fill="#0000ff" fill-opacity="0.95"/>
<rect x="1712.1" y="298.6" width="11.4" height="2.0" fill="#0000ff" fill-opacity="0.90"/>
<rect x="1712.1" y="291.1" width="11.4" height="7.8" fill="#0000ff" fill-opacity="0.20"/>
<rect x="1712.1" y="273.1" width="11.4" height="18.3" fill="#0000ff" fill-opacity="0.15"/>
<rect x="1712.1" y="265.6" width="11.4" height="7.8" fill="#0000ff" fill-opacity="0.15"/>
<rect x="1712.1" y="142.6" width="11.4" height="123.3" fill="#0000ff" fill-opacity="0.20"/>
<rect x="1712.1" y="136.8" width="11.4" height="6.2" fill="#0000ff" fill-opacity="0.25"/>
<rect x="1712.1" y="117.6" width="11.4" height="19.5" fill="#0000ff" fill-opacity="0.40"/>
<rect x="1723.2" y="456.7" width="2.0" height="14.4" fill="#0000ff" fill-opacity="0.90"/>
<rect x="1723.2" y="330.1" width="2.0" height="127.0" fill="#0000ff" fill-opacity="0.92"/>
<rect x="1723.2" y="311.3" width="2.0" height="19.0" fill="#0000ff" fill-opacity="0.90"/>
<rect x="1723.2" y="300.3" width="2.0" height="11.4" fill="#0000ff" fill-opacity="0.90"/>
<rect x="1723.2" y="298.6" width="2.0" height="2.0" fill="#0000ff" fill-opacity="0.90"/>
<rect x="1723.2" y="291.1" width="2.0" height="7.8" fill="#0000ff" fill-opacity="0.05"/>
<rect x="1723.2" y="273.1" width="2.0" height="18.3" fill="#0000ff" fill-opacity="0.05"/>
<rect x="1723.2" y="265.6" width="2.0" height="7.8" fill="#0000ff" fill-opacity="0.05"/>
<rect x="1723.2" y="142.6" width="2.0" height="123.3" fill="#0000ff" fill-opacity="0.05"/>
<rect x="1723.2" y="136.8" width="2.0" height="6.2" fill="#0000ff" fill-opacity="0.05"/>
<rect x="1723.2" y="117.6" width="2.0" height="19.5" fill="#0000ff" fill-opacity="0.05"/>
<rect x="1724.9" y="456.7" width="7.8" height="14.4" fill="#0000ff" fill-opacity="0.16"/>
<rect x="1724.9" y="330.1" width="7.8" height="127.0" fill="#0000ff" fill-opacity="0.12"/>
<rect x="1724.9" y="311.3" width="7.8" height="19.0" fill="#0000ff" fill-opacity="0.12"/>
<rect x="1724.9" y="300.3" width="7.8" height="11.4" fill="#0000ff" fill-opacity="0.20"/>
<rect x="1724.9" y="298.6" width="7.8" height="2.0" fill="#0000ff" fill-opacity="0.05"/>
<rect x="1724.9" y="291.1" width="7.8" height="7.8" fill="#0000ff" fill-opacity="0.92"/>
<rect x="1724.9" y="273.1" width="7.8" height="18.3" fill="#0000ff" fill-opacity="0.90"/>
<rect x="1724.9" y="265.6" width="7.8" height="7.8" fill="#0000ff" fill-opacity="0.90"/>
<rect x="1724.9" y="142.6" width="7.8" height="123.3" fill="#0000ff" fill-opacity="0.90"/>
<rect x="1724.9" y="136.8" width="7.8" height="6.2" fill="#0000ff" fill-opacity="0.90"/>
<rect x="1724.9" y="117.6" width="7.8" height="19.5" fill="#0000ff" fill-opacity="0.80"/>
<rect x="1732.4" y="456.7" width="18.4" height="14.4" fill="#0000ff" fill-opacity="0.16"/>
<rect x="1732.4" y="330.1" width="18.4" height="127.0" fill="#0000ff" fill-opacity="0.14"/>
<rect x="1732.4" y="300.3" width="18.4" height="11.4" fill="#0000ff" fill-opacity="0.15"/>
<rect x="1732.4" y="298.6" width="18.4" height="2.0" fill="#0000ff" fill-opacity="0.05"/>
<rect x="1732.4" y="291.1" width="18.4" height="7.8" fill="#0000ff" fill-opacity="0.90"/>
<rect x="1732.4" y="273.1" width="18.4" height="18.3" fill="#0000ff" fill-opacity="1.00"/>
<rect x="1732.4" y="265.6" width="18.4" height="7.8" fill="#0000ff" fill-opacity="0.90"/>
<rect x="1732.4" y="142.6" width="18.4" height="123.3" fill="#0000ff" fill-opacity="0.93"/>
<rect x="1732.4" y="136.8" width="18.4" height="6.2" fill="#0000ff" fill-opacity="0.90"/>
<rect x="1732.4" y="117.6" width="18.4" height="19.5" fill="#0000ff" fill-opacity="0.82"/>
<rect x="1750.5" y="456.7" width="7.8" height="14.4" fill="#0000ff" fill-opacity="0.16"/>
<rect x="1750.5" y="330.1" width="7.8" height="127.0" fill="#0000ff" fill-opacity="0.02"/>
<rect x="1750.5" y="311.3" width="7.8" height="19.0" fill="#0000ff" fill-opacity="0.04"/>
<rect x="1750.5" y="300.3" width="7.8" height="11.4" fill="#0000ff" fill-opacity="0.15"/>
<rect x="1750.5" y="298.6" width="7.8" height="2.0" fill="#0000ff" fill-opacity="0.05"/>
<rect x="1750.5" y="291.1" width="7.8" height="7.8" fill="#0000ff" fill-opacity="0.90"/>
<rect x="1750.5" y="273.1" width="7.8" height="18.3" fill="#0000ff" fill-opacity="0.90"/>
<rect x="1750.5" y="265.6" width="7.8" height="7.8" fill="#0000ff" fill-opacity="0.90"/>
<rect x="1750.5" y="142.6" width="7.8" height="123.3" fill="#0000ff" fill-opacity="0.95"/>
<rect x="1750.5" y="136.8" width="7.8" height="6.2" fill="#0000ff" fill-opacity="0.90"/>
<rect x="1750.5" y="117.6" width="7.8" height="19.5" fill="#0000ff" fill-opacity="0.90"/>
<rect x="1758.0" y="456.7" width="123.8" height="14.4" fill="#0000ff" fill-opacity="0.16"/>
<rect x="1758.0" y="311.3" width="123.8" height="19.0" fill="#0000ff" fill-opacity="0.12"/>
<rect x="1758.0" y="300.3" width="123.8" height="11.4" fill="#0000ff" fill-opacity="0.20"/>
<rect x="1758.0" y="298.6" width="123.8" height="2.0" fill="#0000ff" fill-opacity="0.05"/>
<rect x="1758.0" y="291.1" width="123.8" height="7.8" fill="#0000ff" fill-opacity="0.90"/>
<rect x="1758.0" y="273.1" width="123.8" height="18.3" fill="#0000ff" fill-opacity="0.93"/>
<rect x="1758.0" y="265.6" width="123.8" height="7.8" fill="#0000ff" fill-opacity="0.95"/>
<rect x="1758.0" y="142.6" width="123.8" height="123.3" fill="#0000ff" fill-opacity="1.00"/>
<rect x="1758.0" y="136.8" width="123.8" height="6.2" fill="#0000ff" fill-opacity="0.93"/>
<rect x="1758.0" y="117.6" width="123.8" height="19.5" fill="#0000ff" fill-opacity="0.86"/>
<rect x="1881.5" y="456.7" width="6.2" height="14.4" fill="#0000ff" fill-opacity="0.16"/>
<rect x="1881.5" y="330.1" width="6.2" height="127.0" fill="#0000ff" fill-opacity="0.06"/>
<rect x="1881.5" y="311.3" width="6.2" height="19.0" fill="#0000ff" fill-opacity="0.15"/>
<rect x="1881.5" y="300.3" width="6.2" height="11.4" fill="#0000ff" fill-opacity="0.25"/>
<rect x="1881.5" y="298.6" width="6.2" height="2.0" fill="#0000ff" fill-opacity="0.05"/>
<rect x="1881.5" y="291.1" width="6.2" height="7.8" fill="#0000ff" fill-opacity="0.90"/>
<rect x="1881.5" y="273.1" width="6.2" height="18.3" fill="#0000ff" fill-opacity="0.90"/>
<rect x="1881.5" y="265.6" width="6.2" height="7.8" fill="#0000ff" fill-opacity="0.90"/>
<rect x="1881.5" y="142.6" width="6.2" height="123.3" fill="#0000ff" fill-opacity="0.93"/>
<rect x="1881.5" y="136.8" width="6.2" height="6.2" fill="#0000ff" fill-opacity="0.90"/>
<rect x="1881.5" y="117.6" width="6.2" height="19.5" fill="#0000ff" fill-opacity="0.85"/>
<rect x="1887.4" y="456.7" width="19.5" height="14.4" fill="#0000ff" fill-opacity="0.40"/>
<rect x="1887.4" y="330.1" width="19.5" height="127.0" fill="#0000ff" fill-opacity="0.30"/>
<rect x="1887.4" y="311.3" width="19.5" height="19.0" fill="#0000ff" fill-opacity="0.35"/>
<rect x="1887.4" y="300.3" width="19.5" height="11.4" fill="#0000ff" fill-opacity="0.40"/>
<rect x="1887.4" y="298.6" width="19.5" height="2.0" fill="#0000ff" fill-opacity="0.05"/>
<rect x="1887.4" y="291.1" width="19.5" height="7.8" fill="#0000ff" fill-opacity="0.80"/>
<rect x="1887.4" y="273.1" width="19.5" height="18.3" fill="#0000ff" fill-opacity="0.82"/>
<rect x="1887.4" y="265.6" width="19.5" height="7.8" fill="#0000ff" fill-opacity="0.90"/>
<rect x="1887.4" y="142.6" width="19.5" height="123.3" fill="#0000ff" fill-opacity="0.86"/>
<rect x="1887.4" y="136.8" width="19.5" height="6.2" fill="#0000ff" fill-opacity="0.85"/>
<rect x="1887.4" y="117.6" width="19.5" height="19.5" fill="#0000ff" fill-opacity="0.90"/>
</g>
<g opacity="0.8">
<rect x="1560.0" y="456.7" width="338.6" height="6.1" fill="url(#pv)"/>
<rect x="1560.0" y="125.6" width="6.1" height="337.2" fill="url(#ph)"/>
<rect x="1560.0" y="311.3" width="338.6" height="18.7" fill="url(#pv)"/>
<rect x="1693.3" y="125.6" width="18.8" height="337.2" fill="url(#ph)"/>
<rect x="1560.0" y="300.3" width="338.6" height="11.1" fill="url(#pv)"/>
<rect x="1712.1" y="125.6" width="11.1" height="337.2" fill="url(#ph)"/>
<rect x="1560.0" y="291.1" width="338.6" height="7.5" fill="url(#pv)"/>
<rect x="1724.9" y="125.6" width="7.5" height="337.2" fill="url(#ph)"/>
<rect x="1560.0" y="273.1" width="338.6" height="18.0" fill="url(#pv)"/>
<rect x="1732.4" y="125.6" width="18.1" height="337.2" fill="url(#ph)"/>
<rect x="1560.0" y="265.6" width="338.6" height="7.5" fill="url(#pv)"/>
<rect x="1750.5" y="125.6" width="7.5" height="337.2" fill="url(#ph)"/>
<rect x="1560.0" y="136.8" width="338.6" height="5.9" fill="url(#pv)"/>
<rect x="1881.5" y="125.6" width="5.9" height="337.2" fill="url(#ph)"/>
<rect x="1560.0" y="125.6" width="338.6" height="11.2" fill="url(#pv)"/>
<rect x="1887.4" y="125.6" width="11.2" height="337.2" fill="url(#ph)"/>
</g>
</g>
<rect x="1937.3" y="50.6" width="43.6" height="44.6" fill="#fff" stroke="#333" stroke-width="1.1" rx="1.2"/>
<rect x="1948.7" y="61.8" width="8.4" height="7.5" fill="#a6cee3" stroke="#2a2a2a" stroke-width="0.9"/><rect x="1948.7" y="76.7" width="8.4" height="7.0" fill="#1f78b4" stroke="#2a2a2a" stroke-width="0.9"/>
<text x="1969.3" y="69.8" font-size="12.7" text-anchor="start" fill="#3a3a3a">1</text>
<text x="1969.3" y="85.0" font-size="12.7" text-anchor="start" fill="#3a3a3a">2</text>
<path d="M967.3 596.8L967.3 555.3L1113.3 555.3L1113.3 596.3M938.2 618.4L938.2 596.8L995.7 596.8L995.7 618.4M1049.7 630.7L1049.7 596.3L1176.8 596.3L1176.8 623.6M886.8 637.4L886.8 618.4L989.4 618.4L989.4 659.4M991.2 659.4L991.2 618.4L1000.2 618.4L1000.2 625.6M994.0 637.2L994.0 625.6L1006.8 625.6L1006.8 629.2M1004.3 644.8L1004.3 629.2L1009.8 629.2L1009.8 636.2M1006.3 659.4L1006.3 636.2L1011.8 636.2L1011.8 643.8M1009.3 659.4L1009.3 643.8L1014.4 643.8L1014.4 650.3M1011.8 659.4L1011.8 650.3L1016.4 650.3L1016.4 659.4M992.7 659.4L992.7 637.2L996.2 637.2L996.2 643.8M994.7 659.4L994.7 643.8L998.7 643.8L998.7 651.3M996.7 659.4L996.7 651.3L1001.3 651.3L1001.3 659.4M1004.3 659.4L1004.3 644.8L1007.3 644.8L1007.3 659.4M853.1 659.4L853.1 637.4L919.6 637.4L920.4 639.2M856.1 659.4L856.1 639.2L983.6 639.2L983.6 645.3M981.1 659.4L981.1 645.3L985.6 645.3L985.6 650.8M985.6 659.4L985.6 650.8L987.6 650.8L987.6 659.4M1016.4 654.0L1019.0 656.5L1023.0 658.0L1030.5 659.0M1031.9 659.4L1031.9 630.7L1068.4 630.7L1068.4 633.4M1035.1 659.4L1035.1 633.4L1101.1 633.4L1101.1 636.7M1038.6 645.3L1038.6 636.7L1164.2 636.7L1164.2 659.4M1036.6 659.4L1036.6 645.3L1041.7 645.3L1041.7 659.4M1059.3 657.4L1158.6 657.4M1172.2 626.3L1172.2 623.6L1181.3 623.6L1181.3 626.3M1166.7 659.4L1166.7 626.3L1185.3 626.3L1185.3 637.4M1182.8 659.4L1182.8 637.4L1187.3 637.4L1187.3 639.4M1185.8 659.4L1185.8 639.4L1190.4 639.4L1190.4 647.3M1189.9 659.4L1189.9 647.3L1198.9 647.3L1198.9 650.3M1190.9 659.4L1190.9 650.3L1208.0 650.3L1208.0 659.4M1160.6 659.4L1160.6 652.8L1163.3 652.8L1163.3 659.4M1180.2 659.4L1180.2 646.0L1183.4 646.0L1183.4 659.4M1183.4 659.4L1183.4 650.0L1186.0 650.0L1186.0 659.4M1208.0 655.0L1208.0 659.4M1198.9 654.0L1198.9 659.4" fill="none" stroke="#111" stroke-width="0.95"/>
<path d="M989.4 618.4V624.1" stroke="#111" stroke-width="1.2" fill="none"/>
<path d="M989.4 659.8H992.4V624.1H989.4ZM1176.3 659.8H1178.3V626.3H1176.3ZM852.1 659.8H854.6V647.3H852.1ZM854.6 659.8H857.0V649.0H854.6ZM857.0 659.8H860.0V650.5H857.0ZM860.0 659.8H863.5V652.0H860.0ZM863.5 659.8H867.0V653.8H863.5ZM867.0 659.8H871.0V655.2H867.0ZM871.0 659.8H875.5V656.3H871.0ZM875.5 659.8H881.8V657.4H875.5ZM980.6 659.8H981.6V651.0H980.6ZM983.0 659.8H984.2V652.0H983.0ZM992.4 659.8H994.0V640.0H992.4ZM994.0 659.8H995.5V648.0H994.0ZM998.7 659.8H1000.0V652.0H998.7ZM1001.3 659.8H1004.3V651.0H1001.3ZM1007.3 659.8H1009.3V652.0H1007.3ZM1009.3 659.8H1011.8V654.0H1009.3ZM1014.4 659.8H1016.4V655.0H1014.4ZM1031.2 659.8H1033.0V638.0H1031.2ZM1033.0 659.8H1035.1V650.0H1033.0ZM1035.1 659.8H1036.6V652.5H1035.1ZM1036.6 659.8H1038.6V648.0H1036.6ZM1041.7 659.8H1044.0V653.0H1041.7ZM1044.0 659.8H1048.0V655.0H1044.0ZM1048.0 659.8H1054.0V656.5H1048.0ZM1054.0 659.8H1062.3V657.8H1054.0ZM1159.6 659.8H1160.6V655.0H1159.6ZM1163.3 659.8H1165.0V640.2H1163.3ZM1165.0 659.8H1166.7V643.0H1165.0ZM1166.7 659.8H1168.5V648.0H1166.7ZM1168.5 659.8H1171.2V653.0H1168.5ZM1171.2 659.8H1173.5V656.0H1171.2ZM1178.3 659.8H1180.2V645.0H1178.3ZM1186.0 659.8H1188.0V650.0H1186.0ZM1188.0 659.8H1190.4V653.0H1188.0ZM1205.5 659.8H1208.5V655.5H1205.5ZM1208.5 659.8H1209.8V657.0H1208.5Z" fill="#0b0b0b"/>
<path d="M858.5 653v4M862 654.5v3M866 655.5v2.5M870 656.5v1.8M874 657.3v1.2" stroke="#fff" stroke-width="0.8" fill="none"/>
<line x1="852.1" y1="659.5" x2="1210.0" y2="659.5" stroke="#111" stroke-width="1.3" />
<rect x="851.7" y="663.5" width="179.3" height="15.3" fill="#a6cee3"/><rect x="1031" y="663.5" width="178.8" height="15.3" fill="#1f78b4"/>
<clipPath id="hec"><rect x="851.7" y="684.7" width="358.3" height="357.3"/></clipPath>
<filter id="hef" x="-5%" y="-5%" width="110%" height="110%"><feGaussianBlur stdDeviation="1.2"/></filter>
<g clip-path="url(#hec)"><g filter="url(#hef)">
<rect x="843.7" y="676.7" width="374.3" height="373.3" fill="#fff"/>
<rect x="843.7" y="1038.8" width="11.5" height="11.5" fill="#0000ff" fill-opacity="1.00"/>
<rect x="843.7" y="914.3" width="11.5" height="124.9" fill="#0000ff" fill-opacity="0.93"/>
<rect x="843.7" y="905.3" width="11.5" height="9.3" fill="#0000ff" fill-opacity="0.79"/>
<rect x="843.7" y="900.0" width="11.5" height="5.6" fill="#0000ff" fill-opacity="0.70"/>
<rect x="843.7" y="890.1" width="11.5" height="10.2" fill="#0000ff" fill-opacity="0.65"/>
<rect x="843.7" y="863.2" width="11.5" height="27.2" fill="#0000ff" fill-opacity="0.47"/>
<rect x="843.7" y="858.2" width="11.5" height="5.3" fill="#0000ff" fill-opacity="0.21"/>
<rect x="843.7" y="734.8" width="11.5" height="123.8" fill="#0000ff" fill-opacity="0.10"/>
<rect x="843.7" y="727.8" width="11.5" height="7.3" fill="#0000ff" fill-opacity="0.19"/>
<rect x="843.7" y="716.3" width="11.5" height="11.8" fill="#0000ff" fill-opacity="0.30"/>
<rect x="843.7" y="708.3" width="11.5" height="8.3" fill="#0000ff" fill-opacity="0.67"/>
<rect x="843.7" y="676.7" width="11.5" height="31.9" fill="#0000ff" fill-opacity="0.47"/>
<rect x="854.9" y="1038.8" width="125.2" height="11.5" fill="#0000ff" fill-opacity="0.93"/>
<rect x="854.9" y="914.3" width="125.2" height="124.9" fill="#0000ff" fill-opacity="1.00"/>
<rect x="854.9" y="905.3" width="125.2" height="9.3" fill="#0000ff" fill-opacity="0.85"/>
<rect x="854.9" y="900.0" width="125.2" height="5.6" fill="#0000ff" fill-opacity="0.75"/>
<rect x="854.9" y="890.1" width="125.2" height="10.2" fill="#0000ff" fill-opacity="0.70"/>
<rect x="854.9" y="863.2" width="125.2" height="27.2" fill="#0000ff" fill-opacity="0.50"/>
<rect x="854.9" y="858.2" width="125.2" height="5.3" fill="#0000ff" fill-opacity="0.12"/>
<rect x="854.9" y="727.8" width="125.2" height="7.3" fill="#0000ff" fill-opacity="0.10"/>
<rect x="854.9" y="716.3" width="125.2" height="11.8" fill="#0000ff" fill-opacity="0.32"/>
<rect x="854.9" y="708.3" width="125.2" height="8.3" fill="#0000ff" fill-opacity="0.72"/>
<rect x="854.9" y="676.7" width="125.2" height="31.9" fill="#0000ff" fill-opacity="0.50"/>
<rect x="979.8" y="1038.8" width="9.3" height="11.5" fill="#0000ff" fill-opacity="0.79"/>
<rect x="979.8" y="914.3" width="9.3" height="124.9" fill="#0000ff" fill-opacity="0.85"/>
<rect x="979.8" y="905.3" width="9.3" height="9.3" fill="#0000ff" fill-opacity="1.00"/>
<rect x="979.8" y="900.0" width="9.3" height="5.6" fill="#0000ff" fill-opacity="0.85"/>
<rect x="979.8" y="890.1" width="9.3" height="10.2" fill="#0000ff" fill-opacity="0.80"/>
<rect x="979.8" y="863.2" width="9.3" height="27.2" fill="#0000ff" fill-opacity="0.70"/>
<rect x="979.8" y="858.2" width="9.3" height="5.3" fill="#0000ff" fill-opacity="0.40"/>
<rect x="979.8" y="734.8" width="9.3" height="123.8" fill="#0000ff" fill-opacity="0.15"/>
<rect x="979.8" y="727.8" width="9.3" height="7.3" fill="#0000ff" fill-opacity="0.20"/>
<rect x="979.8" y="716.3" width="9.3" height="11.8" fill="#0000ff" fill-opacity="0.50"/>
<rect x="979.8" y="708.3" width="9.3" height="8.3" fill="#0000ff" fill-opacity="0.80"/>
<rect x="979.8" y="676.7" width="9.3" height="31.9" fill="#0000ff" fill-opacity="0.78"/>
<rect x="988.8" y="1038.8" width="5.6" height="11.5" fill="#0000ff" fill-opacity="0.70"/>
<rect x="988.8" y="914.3" width="5.6" height="124.9" fill="#0000ff" fill-opacity="0.75"/>
<rect x="988.8" y="905.3" width="5.6" height="9.3" fill="#0000ff" fill-opacity="0.85"/>
<rect x="988.8" y="900.0" width="5.6" height="5.6" fill="#0000ff" fill-opacity="1.00"/>
<rect x="988.8" y="890.1" width="5.6" height="10.2" fill="#0000ff" fill-opacity="0.80"/>
<rect x="988.8" y="863.2" width="5.6" height="27.2" fill="#0000ff" fill-opacity="0.70"/>
<rect x="988.8" y="858.2" width="5.6" height="5.3" fill="#0000ff" fill-opacity="0.40"/>
<rect x="988.8" y="734.8" width="5.6" height="123.8" fill="#0000ff" fill-opacity="0.12"/>
<rect x="988.8" y="727.8" width="5.6" height="7.3" fill="#0000ff" fill-opacity="0.10"/>
<rect x="988.8" y="716.3" width="5.6" height="11.8" fill="#0000ff" fill-opacity="0.15"/>
<rect x="988.8" y="708.3" width="5.6" height="8.3" fill="#0000ff" fill-opacity="0.40"/>
<rect x="988.8" y="676.7" width="5.6" height="31.9" fill="#0000ff" fill-opacity="0.30"/>
<rect x="994.1" y="1038.8" width="10.2" height="11.5" fill="#0000ff" fill-opacity="0.65"/>
<rect x="994.1" y="914.3" width="10.2" height="124.9" fill="#0000ff" fill-opacity="0.70"/>
<rect x="994.1" y="905.3" width="10.2" height="9.3" fill="#0000ff" fill-opacity="0.80"/>
<rect x="994.1" y="900.0" width="10.2" height="5.6" fill="#0000ff" fill-opacity="0.80"/>
<rect x="994.1" y="890.1" width="10.2" height="10.2" fill="#0000ff" fill-opacity="1.00"/>
<rect x="994.1" y="863.2" width="10.2" height="27.2" fill="#0000ff" fill-opacity="0.85"/>
<rect x="994.1" y="858.2" width="10.2" height="5.3" fill="#0000ff" fill-opacity="0.60"/>
<rect x="994.1" y="734.8" width="10.2" height="123.8" fill="#0000ff" fill-opacity="0.38"/>
<rect x="994.1" y="727.8" width="10.2" height="7.3" fill="#0000ff" fill-opacity="0.20"/>
<rect x="994.1" y="716.3" width="10.2" height="11.8" fill="#0000ff" fill-opacity="0.03"/>
<rect x="994.1" y="708.3" width="10.2" height="8.3" fill="#0000ff" fill-opacity="0.30"/>
<rect x="994.1" y="676.7" width="10.2" height="31.9" fill="#0000ff" fill-opacity="0.25"/>
<rect x="1004.0" y="1038.8" width="27.3" height="11.5" fill="#0000ff" fill-opacity="0.47"/>
<rect x="1004.0" y="914.3" width="27.3" height="124.9" fill="#0000ff" fill-opacity="0.50"/>
<rect x="1004.0" y="905.3" width="27.3" height="9.3" fill="#0000ff" fill-opacity="0.70"/>
<rect x="1004.0" y="900.0" width="27.3" height="5.6" fill="#0000ff" fill-opacity="0.70"/>
<rect x="1004.0" y="890.1" width="27.3" height="10.2" fill="#0000ff" fill-opacity="0.85"/>
<rect x="1004.0" y="863.2" width="27.3" height="27.2" fill="#0000ff" fill-opacity="1.00"/>
<rect x="1004.0" y="858.2" width="27.3" height="5.3" fill="#0000ff" fill-opacity="0.90"/>
<rect x="1004.0" y="734.8" width="27.3" height="123.8" fill="#0000ff" fill-opacity="0.65"/>
<rect x="1004.0" y="727.8" width="27.3" height="7.3" fill="#0000ff" fill-opacity="0.45"/>
<rect x="1004.0" y="716.3" width="27.3" height="11.8" fill="#0000ff" fill-opacity="0.25"/>
<rect x="1004.0" y="708.3" width="27.3" height="8.3" fill="#0000ff" fill-opacity="0.15"/>
<rect x="1031.0" y="1038.8" width="5.3" height="11.5" fill="#0000ff" fill-opacity="0.21"/>
<rect x="1031.0" y="914.3" width="5.3" height="124.9" fill="#0000ff" fill-opacity="0.12"/>
<rect x="1031.0" y="905.3" width="5.3" height="9.3" fill="#0000ff" fill-opacity="0.40"/>
<rect x="1031.0" y="900.0" width="5.3" height="5.6" fill="#0000ff" fill-opacity="0.40"/>
<rect x="1031.0" y="890.1" width="5.3" height="10.2" fill="#0000ff" fill-opacity="0.60"/>
<rect x="1031.0" y="863.2" width="5.3" height="27.2" fill="#0000ff" fill-opacity="0.90"/>
<rect x="1031.0" y="858.2" width="5.3" height="5.3" fill="#0000ff" fill-opacity="1.00"/>
<rect x="1031.0" y="734.8" width="5.3" height="123.8" fill="#0000ff" fill-opacity="0.88"/>
<rect x="1031.0" y="727.8" width="5.3" height="7.3" fill="#0000ff" fill-opacity="0.60"/>
<rect x="1031.0" y="716.3" width="5.3" height="11.8" fill="#0000ff" fill-opacity="0.45"/>
<rect x="1031.0" y="708.3" width="5.3" height="8.3" fill="#0000ff" fill-opacity="0.20"/>
<rect x="1031.0" y="676.7" width="5.3" height="31.9" fill="#0000ff" fill-opacity="0.15"/>
<rect x="1036.0" y="1038.8" width="124.1" height="11.5" fill="#0000ff" fill-opacity="0.10"/>
<rect x="1036.0" y="905.3" width="124.1" height="9.3" fill="#0000ff" fill-opacity="0.15"/>
<rect x="1036.0" y="900.0" width="124.1" height="5.6" fill="#0000ff" fill-opacity="0.12"/>
<rect x="1036.0" y="890.1" width="124.1" height="10.2" fill="#0000ff" fill-opacity="0.38"/>
<rect x="1036.0" y="863.2" width="124.1" height="27.2" fill="#0000ff" fill-opacity="0.65"/>
<rect x="1036.0" y="858.2" width="124.1" height="5.3" fill="#0000ff" fill-opacity="0.88"/>
<rect x="1036.0" y="734.8" width="124.1" height="123.8" fill="#0000ff" fill-opacity="1.00"/>
<rect x="1036.0" y="727.8" width="124.1" height="7.3" fill="#0000ff" fill-opacity="0.90"/>
<rect x="1036.0" y="716.3" width="124.1" height="11.8" fill="#0000ff" fill-opacity="0.72"/>
<rect x="1036.0" y="708.3" width="124.1" height="8.3" fill="#0000ff" fill-opacity="0.22"/>
<rect x="1036.0" y="676.7" width="124.1" height="31.9" fill="#0000ff" fill-opacity="0.42"/>
<rect x="1159.8" y="1038.8" width="7.3" height="11.5" fill="#0000ff" fill-opacity="0.19"/>
<rect x="1159.8" y="914.3" width="7.3" height="124.9" fill="#0000ff" fill-opacity="0.10"/>
<rect x="1159.8" y="905.3" width="7.3" height="9.3" fill="#0000ff" fill-opacity="0.20"/>
<rect x="1159.8" y="900.0" width="7.3" height="5.6" fill="#0000ff" fill-opacity="0.10"/>
<rect x="1159.8" y="890.1" width="7.3" height="10.2" fill="#0000ff" fill-opacity="0.20"/>
<rect x="1159.8" y="863.2" width="7.3" height="27.2" fill="#0000ff" fill-opacity="0.45"/>
<rect x="1159.8" y="858.2" width="7.3" height="5.3" fill="#0000ff" fill-opacity="0.60"/>
<rect x="1159.8" y="734.8" width="7.3" height="123.8" fill="#0000ff" fill-opacity="0.90"/>
<rect x="1159.8" y="727.8" width="7.3" height="7.3" fill="#0000ff" fill-opacity="1.00"/>
<rect x="1159.8" y="716.3" width="7.3" height="11.8" fill="#0000ff" fill-opacity="0.90"/>
<rect x="1159.8" y="708.3" width="7.3" height="8.3" fill="#0000ff" fill-opacity="0.50"/>
<rect x="1159.8" y="676.7" width="7.3" height="31.9" fill="#0000ff" fill-opacity="0.70"/>
<rect x="1166.8" y="1038.8" width="11.8" height="11.5" fill="#0000ff" fill-opacity="0.30"/>
<rect x="1166.8" y="914.3" width="11.8" height="124.9" fill="#0000ff" fill-opacity="0.32"/>
<rect x="1166.8" y="905.3" width="11.8" height="9.3" fill="#0000ff" fill-opacity="0.50"/>
<rect x="1166.8" y="900.0" width="11.8" height="5.6" fill="#0000ff" fill-opacity="0.15"/>
<rect x="1166.8" y="890.1" width="11.8" height="10.2" fill="#0000ff" fill-opacity="0.03"/>
<rect x="1166.8" y="863.2" width="11.8" height="27.2" fill="#0000ff" fill-opacity="0.25"/>
<rect x="1166.8" y="858.2" width="11.8" height="5.3" fill="#0000ff" fill-opacity="0.45"/>
<rect x="1166.8" y="734.8" width="11.8" height="123.8" fill="#0000ff" fill-opacity="0.72"/>
<rect x="1166.8" y="727.8" width="11.8" height="7.3" fill="#0000ff" fill-opacity="0.90"/>
<rect x="1166.8" y="716.3" width="11.8" height="11.8" fill="#0000ff" fill-opacity="1.00"/>
<rect x="1166.8" y="708.3" width="11.8" height="8.3" fill="#0000ff" fill-opacity="0.40"/>
<rect x="1166.8" y="676.7" width="11.8" height="31.9" fill="#0000ff" fill-opacity="0.68"/>
<rect x="1178.3" y="1038.8" width="8.3" height="11.5" fill="#0000ff" fill-opacity="0.67"/>
<rect x="1178.3" y="914.3" width="8.3" height="124.9" fill="#0000ff" fill-opacity="0.72"/>
<rect x="1178.3" y="905.3" width="8.3" height="9.3" fill="#0000ff" fill-opacity="0.80"/>
<rect x="1178.3" y="900.0" width="8.3" height="5.6" fill="#0000ff" fill-opacity="0.40"/>
<rect x="1178.3" y="890.1" width="8.3" height="10.2" fill="#0000ff" fill-opacity="0.30"/>
<rect x="1178.3" y="863.2" width="8.3" height="27.2" fill="#0000ff" fill-opacity="0.15"/>
<rect x="1178.3" y="858.2" width="8.3" height="5.3" fill="#0000ff" fill-opacity="0.20"/>
<rect x="1178.3" y="734.8" width="8.3" height="123.8" fill="#0000ff" fill-opacity="0.22"/>
<rect x="1178.3" y="727.8" width="8.3" height="7.3" fill="#0000ff" fill-opacity="0.50"/>
<rect x="1178.3" y="716.3" width="8.3" height="11.8" fill="#0000ff" fill-opacity="0.40"/>
<rect x="1178.3" y="708.3" width="8.3" height="8.3" fill="#0000ff" fill-opacity="1.00"/>
<rect x="1178.3" y="676.7" width="8.3" height="31.9" fill="#0000ff" fill-opacity="0.85"/>
<rect x="1186.3" y="1038.8" width="32.0" height="11.5" fill="#0000ff" fill-opacity="0.47"/>
<rect x="1186.3" y="914.3" width="32.0" height="124.9" fill="#0000ff" fill-opacity="0.50"/>
<rect x="1186.3" y="905.3" width="32.0" height="9.3" fill="#0000ff" fill-opacity="0.78"/>
<rect x="1186.3" y="900.0" width="32.0" height="5.6" fill="#0000ff" fill-opacity="0.30"/>
<rect x="1186.3" y="890.1" width="32.0" height="10.2" fill="#0000ff" fill-opacity="0.25"/>
<rect x="1186.3" y="858.2" width="32.0" height="5.3" fill="#0000ff" fill-opacity="0.15"/>
<rect x="1186.3" y="734.8" width="32.0" height="123.8" fill="#0000ff" fill-opacity="0.42"/>
<rect x="1186.3" y="727.8" width="32.0" height="7.3" fill="#0000ff" fill-opacity="0.70"/>
<rect x="1186.3" y="716.3" width="32.0" height="11.8" fill="#0000ff" fill-opacity="0.68"/>
<rect x="1186.3" y="708.3" width="32.0" height="8.3" fill="#0000ff" fill-opacity="0.85"/>
<rect x="1186.3" y="676.7" width="32.0" height="31.9" fill="#0000ff" fill-opacity="1.00"/>
</g>
<g opacity="0.8">
<rect x="851.7" y="1038.8" width="358.3" height="3.2" fill="url(#pv)"/>
<rect x="851.7" y="684.7" width="3.2" height="357.3" fill="url(#ph)"/>
<rect x="851.7" y="905.3" width="358.3" height="9.0" fill="url(#pv)"/>
<rect x="979.8" y="684.7" width="9.0" height="357.3" fill="url(#ph)"/>
<rect x="851.7" y="900.0" width="358.3" height="5.3" fill="url(#pv)"/>
<rect x="988.8" y="684.7" width="5.3" height="357.3" fill="url(#ph)"/>
<rect x="851.7" y="890.1" width="358.3" height="9.9" fill="url(#pv)"/>
<rect x="994.1" y="684.7" width="9.9" height="357.3" fill="url(#ph)"/>
<rect x="851.7" y="863.2" width="358.3" height="26.9" fill="url(#pv)"/>
<rect x="1004.0" y="684.7" width="27.0" height="357.3" fill="url(#ph)"/>
<rect x="851.7" y="858.2" width="358.3" height="5.0" fill="url(#pv)"/>
<rect x="1031.0" y="684.7" width="5.0" height="357.3" fill="url(#ph)"/>
<rect x="851.7" y="727.8" width="358.3" height="7.0" fill="url(#pv)"/>
<rect x="1159.8" y="684.7" width="7.0" height="357.3" fill="url(#ph)"/>
<rect x="851.7" y="716.3" width="358.3" height="11.5" fill="url(#pv)"/>
<rect x="1166.8" y="684.7" width="11.5" height="357.3" fill="url(#ph)"/>
<rect x="851.7" y="708.3" width="358.3" height="8.0" fill="url(#pv)"/>
<rect x="1178.3" y="684.7" width="8.0" height="357.3" fill="url(#ph)"/>
<rect x="851.7" y="684.7" width="358.3" height="23.6" fill="url(#pv)"/>
<rect x="1186.3" y="684.7" width="23.7" height="357.3" fill="url(#ph)"/>
</g>
</g>
<rect x="1251.4" y="605.5" width="46.5" height="47.6" fill="#fff" stroke="#333" stroke-width="1.1" rx="1.2"/>
<rect x="1263.5" y="617.8" width="9.7" height="7.5" fill="#a6cee3" stroke="#2a2a2a" stroke-width="0.9"/><rect x="1263.5" y="633.5" width="9.7" height="7.9" fill="#1f78b4" stroke="#2a2a2a" stroke-width="0.9"/>
<text x="1285.1" y="625.8" font-size="12.7" text-anchor="start" fill="#3a3a3a">1</text>
<text x="1285.1" y="642.0" font-size="12.7" text-anchor="start" fill="#3a3a3a">2</text>
<path d="M112.7 662.0H117.2V662.3H121.8V662.5H126.3V662.7H130.8V663.0H135.4V663.2H139.4V663.6H143.5V664.1H147.6V664.5H151.7V665.0H155.8V665.4H161.1V666.6H166.4V667.7H171.7V668.9H176.2V670.6H180.7V672.3H185.3V674.5H189.8V676.8H196.6V680.2H201.1V680.6H205.7V680.9H210.2V681.3H213.6V685.9H217.8V686.8H221.9V687.8H226.1V688.8H230.6V689.8H235.2V690.8H239.7V691.8H244.2V692.8H248.8V693.8H253.3V694.5H257.8V695.2H262.4V695.8H266.9V696.5H271.4V697.2H276.7V698.3H282.0V699.5H287.3V700.6H291.9V701.7H296.4V702.9H300.9V704.0H305.5V705.1H311.1V706.8H316.8V708.5H321.3V709.7H325.9V710.8H330.4V711.9H337.2V716.5H341.8V717.1H346.3V717.7H350.8V718.3H355.4V718.6H359.9V718.9H364.4V719.1H369.0V719.4H374.3V720.7H379.6V722.0H384.9V723.3H389.4V725.0H393.9V726.7H398.0V727.2H402.1V727.8H406.2V728.3H410.3V728.9H414.3V729.4H419.6V730.0H424.9V730.6H430.2V731.2H434.7V732.9H439.3V734.6H443.8V735.0H448.4V735.4H452.9V735.8H457.4V738.7H461.6V738.9H465.7V739.0H469.9V739.2H474.1V739.3H478.2V739.5H482.4V739.6H487.7V741.0H493.0V742.3H498.3V743.7H502.8V744.2H507.3V744.8H511.9V745.3H516.4V748.2H522.1V749.0H527.7V749.8" fill="none" stroke="#9a5fd0" stroke-width="3.3" stroke-linejoin="miter"/>
<path d="M114.7 665.5v-9.6M110.6 660.7h8.2M122.4 665.9v-9.6M118.3 661.1h8.2M130.3 666.3v-9.6M126.2 661.5h8.2M138.5 666.9v-9.6M134.4 662.1h8.2M146.3 667.8v-9.6M142.2 663.0h8.2M154.1 668.7v-9.6M150.0 663.9h8.2M162.0 670.2v-9.6M157.9 665.4h8.2M169.5 671.8v-9.6M165.4 667.0h8.2M177.3 674.4v-9.6M173.2 669.6h8.2M185.2 677.9v-9.6M181.1 673.1h8.2M193.3 681.9v-9.6M189.2 677.1h8.2M200.7 683.9v-9.6M196.6 679.1h8.2M208.3 684.6v-9.6M204.2 679.8h8.2M215.7 689.8v-9.6M211.6 685.0h8.2M223.8 691.7v-9.6M219.7 686.9h8.2M231.8 693.5v-9.6M227.7 688.7h8.2M239.1 695.1v-9.6M235.0 690.3h8.2M247.4 696.9v-9.6M243.3 692.1h8.2M255.7 698.2v-9.6M251.6 693.4h8.2M263.6 699.4v-9.6M259.5 694.6h8.2M271.5 700.6v-9.6M267.4 695.8h8.2M279.0 702.2v-9.6M274.9 697.4h8.2M286.3 703.8v-9.6M282.2 699.0h8.2M294.1 705.7v-9.6M290.0 700.9h8.2M301.5 707.6v-9.6M297.4 702.8h8.2M309.0 709.6v-9.6M304.9 704.8h8.2M316.5 711.9v-9.6M312.4 707.1h8.2M323.9 713.7v-9.6M319.8 708.9h8.2M331.6 716.2v-9.6M327.5 711.4h8.2M339.4 720.2v-9.6M335.3 715.4h8.2M347.5 721.3v-9.6M343.4 716.5h8.2M355.3 722.0v-9.6M351.2 717.2h8.2M363.3 722.5v-9.6M359.2 717.7h8.2M371.1 723.3v-9.6M367.0 718.5h8.2M379.0 725.3v-9.6M374.9 720.5h8.2M386.8 727.4v-9.6M382.7 722.6h8.2M394.4 730.1v-9.6M390.3 725.3h8.2M402.7 731.3v-9.6M398.6 726.5h8.2M411.0 732.4v-9.6M406.9 727.6h8.2M419.1 733.4v-9.6M415.0 728.6h8.2M427.1 734.3v-9.6M423.0 729.5h8.2M434.7 736.3v-9.6M430.6 731.5h8.2M442.3 738.3v-9.6M438.2 733.5h8.2M449.8 738.9v-9.6M445.7 734.1h8.2M457.2 742.0v-9.6M453.1 737.2h8.2M465.3 742.4v-9.6M461.2 737.6h8.2M473.0 742.7v-9.6M468.9 737.9h8.2M481.1 743.0v-9.6M477.0 738.2h8.2M488.8 744.7v-9.6M484.7 739.9h8.2M497.1 746.8v-9.6M493.0 742.0h8.2M505.2 747.9v-9.6M501.1 743.1h8.2M512.5 749.1v-9.6M508.4 744.3h8.2M520.0 752.1v-9.6M515.9 747.3h8.2" fill="none" stroke="#9a5fd0" stroke-width="1.3"/>
<path d="M112.7 662.0H117.2V662.6H121.8V663.2H126.3V663.7H130.8V664.3H136.5V666.0H142.2V667.7H147.8V670.0H153.5V672.3H158.0V673.8H162.6V675.3H167.1V676.8H173.9V682.5H179.6V684.7H185.3V687.0H189.8V688.1H194.3V689.3H198.9V690.4H204.5V692.7H210.2V694.9H213.6V698.3H217.8V699.5H221.9V700.6H226.1V701.7H230.6V703.3H235.2V704.8H239.7V706.3H244.2V708.5H248.8V710.8H253.3V712.3H257.8V713.8H262.4V715.3H266.9V717.6H271.4V719.9H276.0V721.3H280.5V722.7H285.1V724.1H289.6V725.6H294.1V727.8H298.7V730.1H303.2V730.7H307.7V731.2H312.3V731.8H316.8V732.4H322.1V733.1H327.4V733.9H332.7V734.6H338.4V736.9H344.0V739.2H348.6V740.3H353.1V741.4H357.6V742.6H362.9V744.1H368.2V745.6H373.5V747.1H378.0V749.4H382.6V751.6H387.1V756.2H393.9V758.9H398.5V759.6H403.0V760.4H407.5V761.1H412.1V761.8H416.6V762.4H421.1V762.9H425.7V763.5H430.2V764.0H434.7V764.6H441.6V768.6H445.6V769.1H449.7V769.6H453.8V770.0H457.9V770.5H462.0V770.9H466.5V771.8H471.0V772.6H475.6V773.5H480.1V774.3H484.6V774.8H489.2V775.2H493.7V775.7H498.3V776.1H502.8V776.5H507.3V776.9H511.9V777.3H517.2V777.3H522.4V777.3H527.7V777.3" fill="none" stroke="#b3ae33" stroke-width="3.3" stroke-linejoin="miter"/>
<path d="M114.7 665.7v-9.6M110.6 660.9h8.2M122.5 666.7v-9.6M118.4 661.9h8.2M130.7 667.7v-9.6M126.6 662.9h8.2M138.4 670.0v-9.6M134.3 665.2h8.2M145.8 672.6v-9.6M141.7 667.8h8.2M153.7 675.7v-9.6M149.6 670.9h8.2M161.8 678.4v-9.6M157.7 673.6h8.2M169.4 682.1v-9.6M165.3 677.3h8.2M176.8 687.0v-9.6M172.7 682.2h8.2M184.4 690.1v-9.6M180.3 685.3h8.2M192.7 692.2v-9.6M188.6 687.4h8.2M200.7 694.5v-9.6M196.6 689.7h8.2M208.1 697.5v-9.6M204.0 692.7h8.2M215.7 702.3v-9.6M211.6 697.5h8.2M223.1 704.3v-9.6M219.0 699.5h8.2M230.4 706.6v-9.6M226.3 701.8h8.2M238.5 709.3v-9.6M234.4 704.5h8.2M246.0 712.8v-9.6M241.9 708.0h8.2M253.9 715.9v-9.6M249.8 711.1h8.2M261.6 718.5v-9.6M257.5 713.7h8.2M269.1 722.1v-9.6M265.0 717.3h8.2M277.2 725.1v-9.6M273.1 720.3h8.2M284.6 727.4v-9.6M280.5 722.6h8.2M292.5 730.4v-9.6M288.4 725.6h8.2M299.9 733.6v-9.6M295.8 728.8h8.2M307.7 734.6v-9.6M303.6 729.8h8.2M315.2 735.6v-9.6M311.1 730.8h8.2M322.7 736.6v-9.6M318.6 731.8h8.2M331.0 737.8v-9.6M326.9 733.0h8.2M339.1 740.6v-9.6M335.0 735.8h8.2M346.7 743.2v-9.6M342.6 738.4h8.2M354.9 745.3v-9.6M350.8 740.5h8.2M362.4 747.3v-9.6M358.3 742.5h8.2M370.1 749.5v-9.6M366.0 744.7h8.2M378.3 752.9v-9.6M374.2 748.1h8.2M386.2 758.7v-9.6M382.1 753.9h8.2M393.6 762.2v-9.6M389.5 757.4h8.2M401.9 763.6v-9.6M397.8 758.8h8.2M409.4 764.8v-9.6M405.3 760.0h8.2M417.0 765.8v-9.6M412.9 761.0h8.2M425.0 766.8v-9.6M420.9 762.0h8.2M432.7 767.7v-9.6M428.6 762.9h8.2M440.3 771.3v-9.6M436.2 766.5h8.2M447.6 772.7v-9.6M443.5 767.9h8.2M455.0 773.5v-9.6M450.9 768.7h8.2M462.9 774.5v-9.6M458.8 769.7h8.2M470.5 775.9v-9.6M466.4 771.1h8.2M478.4 777.4v-9.6M474.3 772.6h8.2M486.0 778.3v-9.6M481.9 773.5h8.2M493.8 779.1v-9.6M489.7 774.3h8.2M502.0 779.8v-9.6M497.9 775.0h8.2M509.8 780.5v-9.6M505.7 775.7h8.2M517.7 780.7v-9.6M513.6 775.9h8.2" fill="none" stroke="#b3ae33" stroke-width="1.3"/>
<path d="M1568.0 663.9H1572.6V664.7H1577.1V665.6H1581.6V666.4H1586.2V667.3H1590.7V668.3H1595.2V669.3H1599.8V670.3H1604.3V671.3H1608.8V672.3H1613.4V673.1H1617.9V673.9H1622.5V674.7H1627.0V675.5H1631.5V676.3H1637.2V679.4H1642.9V682.5H1647.4V684.0H1651.9V685.5H1656.5V687.0H1661.0V687.8H1665.5V688.5H1670.1V689.3H1675.4V689.8H1680.7V690.3H1686.0V690.9H1690.5V694.9H1695.8V696.1H1701.1V697.2H1706.4V698.3H1710.9V699.6H1715.4V700.9H1720.0V702.2H1724.5V703.2H1729.1V704.2H1733.6V705.1H1738.9V706.3H1744.2V707.4H1749.5V708.5H1754.8V709.4H1760.1V710.4H1765.3V711.3H1770.6V711.9H1775.9V712.5H1781.2V713.1H1785.8V715.9H1790.3V718.7H1797.1V723.3H1801.6V724.0H1806.2V724.8H1810.7V725.5H1815.2V726.2H1819.3V727.2H1823.4V728.2H1827.5V729.2H1831.6V730.2H1835.7V731.2H1840.9V731.6H1846.2V732.0H1851.5V732.4H1856.1V732.9H1860.6V733.5H1865.1V734.1H1869.7V734.6H1875.3V735.8H1881.0V736.9H1885.6V739.2H1890.1V741.4H1894.6V741.8H1899.2V742.2H1903.7V742.6H1908.2V743.0H1912.8V743.5H1917.3V744.0H1921.8V744.5H1926.4V745.0H1930.9V745.5H1935.5V746.0H1940.0V746.5H1944.5V747.0H1949.1V747.6H1954.4V748.3H1959.6V749.1H1964.9V749.8H1969.5V750.4H1974.0V751.0H1978.5V751.6" fill="none" stroke="#3a77c2" stroke-width="3.3" stroke-linejoin="miter"/>
<path d="M1570.0 667.6v-9.6M1565.9 662.8h8.2M1577.5 669.0v-9.6M1573.4 664.2h8.2M1585.0 670.4v-9.6M1580.9 665.6h8.2M1593.2 672.2v-9.6M1589.1 667.4h8.2M1601.3 674.0v-9.6M1597.2 669.2h8.2M1608.8 675.7v-9.6M1604.7 670.9h8.2M1616.3 677.0v-9.6M1612.2 672.2h8.2M1624.4 678.4v-9.6M1620.3 673.6h8.2M1632.6 680.3v-9.6M1628.5 675.5h8.2M1640.1 684.4v-9.6M1636.0 679.6h8.2M1648.4 687.7v-9.6M1644.3 682.9h8.2M1656.5 690.4v-9.6M1652.4 685.6h8.2M1664.4 691.7v-9.6M1660.3 686.9h8.2M1672.2 692.9v-9.6M1668.1 688.1h8.2M1679.6 693.6v-9.6M1675.5 688.8h8.2M1686.9 695.1v-9.6M1682.8 690.3h8.2M1695.2 699.3v-9.6M1691.1 694.5h8.2M1702.7 700.9v-9.6M1698.6 696.1h8.2M1710.7 703.0v-9.6M1706.6 698.2h8.2M1718.3 705.1v-9.6M1714.2 700.3h8.2M1726.4 707.0v-9.6M1722.3 702.2h8.2M1734.3 708.7v-9.6M1730.2 703.9h8.2M1741.9 710.3v-9.6M1737.8 705.5h8.2M1749.4 711.9v-9.6M1745.3 707.1h8.2M1757.4 713.3v-9.6M1753.3 708.5h8.2M1764.7 714.6v-9.6M1760.6 709.8h8.2M1772.3 715.5v-9.6M1768.2 710.7h8.2M1780.1 716.4v-9.6M1776.0 711.6h8.2M1788.3 720.9v-9.6M1784.2 716.1h8.2M1796.2 726.1v-9.6M1792.1 721.3h8.2M1803.8 727.8v-9.6M1799.7 723.0h8.2M1812.0 729.1v-9.6M1807.9 724.3h8.2M1819.5 730.7v-9.6M1815.4 725.9h8.2M1826.8 732.5v-9.6M1822.7 727.7h8.2M1834.4 734.3v-9.6M1830.3 729.5h8.2M1842.1 735.1v-9.6M1838.0 730.3h8.2M1849.5 735.6v-9.6M1845.4 730.8h8.2M1857.0 736.4v-9.6M1852.9 731.6h8.2M1864.6 737.4v-9.6M1860.5 732.6h8.2M1872.5 738.6v-9.6M1868.4 733.8h8.2M1879.9 740.1v-9.6M1875.8 735.3h8.2M1887.6 743.6v-9.6M1883.5 738.8h8.2M1895.8 745.3v-9.6M1891.7 740.5h8.2M1904.1 746.1v-9.6M1900.0 741.3h8.2M1912.0 746.8v-9.6M1907.9 742.0h8.2M1920.0 747.7v-9.6M1915.9 742.9h8.2M1927.9 748.6v-9.6M1923.8 743.8h8.2M1935.3 749.4v-9.6M1931.2 744.6h8.2M1942.7 750.2v-9.6M1938.6 745.4h8.2M1950.0 751.1v-9.6M1945.9 746.3h8.2M1958.2 752.3v-9.6M1954.1 747.5h8.2M1966.2 753.4v-9.6M1962.1 748.6h8.2M1974.5 754.5v-9.6M1970.4 749.7h8.2" fill="none" stroke="#3a77c2" stroke-width="1.3"/>
<path d="M1568.0 663.9H1572.6V664.8H1577.1V665.8H1581.6V666.8H1586.2V667.7H1590.2V668.8H1594.3V669.8H1598.4V670.8H1602.5V671.9H1606.6V672.9H1611.9V674.6H1617.2V676.3H1622.5V677.9H1629.3V682.5H1634.9V684.7H1640.6V687.0H1645.1V690.4H1649.7V693.8H1654.2V694.9H1658.7V696.1H1663.3V697.2H1667.8V701.7H1672.4V703.3H1676.9V704.8H1681.4V706.3H1686.7V707.6H1692.0V709.0H1697.3V710.4H1701.8V711.6H1706.4V712.9H1710.9V714.2H1715.4V717.0H1720.0V719.9H1724.5V721.4H1729.1V722.9H1733.6V724.4H1738.1V725.6H1742.7V726.7H1747.2V727.8H1754.0V733.0H1759.7V734.7H1765.3V736.4H1769.9V737.3H1774.4V738.1H1779.0V739.0H1783.5V739.8H1788.0V742.1H1792.6V744.4H1796.6V744.9H1800.7V745.5H1804.8V746.0H1808.9V746.6H1813.0V747.1H1818.6V749.4H1824.3V751.6H1828.9V754.5H1833.4V757.3H1837.9V757.9H1842.5V758.4H1847.0V759.0H1851.5V759.6H1856.8V761.3H1862.1V763.1H1867.4V764.8H1872.7V765.8H1878.0V766.9H1883.3V768.0H1887.8V768.7H1892.4V769.4H1896.9V770.2H1901.4V770.9H1906.0V771.5H1910.5V772.0H1915.0V772.6H1919.6V773.2H1924.1V773.6H1928.6V774.1H1933.2V774.5H1937.7V775.0H1942.3V775.5H1946.8V775.7H1951.3V776.0H1955.9V776.3H1960.4V776.6H1964.9V777.3H1969.5V777.9H1974.0V778.6H1978.5V779.3" fill="none" stroke="#c5322f" stroke-width="3.3" stroke-linejoin="miter"/>
<path d="M1570.0 667.7v-9.6M1565.9 662.9h8.2M1578.0 669.4v-9.6M1573.9 664.6h8.2M1585.7 671.0v-9.6M1581.6 666.2h8.2M1593.8 673.1v-9.6M1589.7 668.3h8.2M1601.4 675.0v-9.6M1597.3 670.2h8.2M1609.7 677.3v-9.6M1605.6 672.5h8.2M1617.1 679.6v-9.6M1613.0 674.8h8.2M1624.9 683.0v-9.6M1620.8 678.2h8.2M1632.9 687.3v-9.6M1628.8 682.5h8.2M1641.1 690.8v-9.6M1637.0 686.0h8.2M1649.2 696.8v-9.6M1645.1 692.0h8.2M1657.2 699.1v-9.6M1653.1 694.3h8.2M1665.3 702.6v-9.6M1661.2 697.8h8.2M1673.5 707.0v-9.6M1669.4 702.2h8.2M1681.1 709.6v-9.6M1677.0 704.8h8.2M1689.1 711.7v-9.6M1685.0 706.9h8.2M1697.3 713.8v-9.6M1693.2 709.0h8.2M1705.5 716.1v-9.6M1701.4 711.3h8.2M1713.2 719.1v-9.6M1709.1 714.3h8.2M1721.3 723.7v-9.6M1717.2 718.9h8.2M1729.5 726.4v-9.6M1725.4 721.6h8.2M1737.3 728.8v-9.6M1733.2 724.0h8.2M1745.3 730.7v-9.6M1741.2 725.9h8.2M1753.0 735.6v-9.6M1748.9 730.8h8.2M1760.8 738.5v-9.6M1756.7 733.7h8.2M1768.7 740.5v-9.6M1764.6 735.7h8.2M1776.1 741.9v-9.6M1772.0 737.1h8.2M1784.1 743.5v-9.6M1780.0 738.7h8.2M1792.4 747.7v-9.6M1788.3 742.9h8.2M1800.5 748.8v-9.6M1796.4 744.0h8.2M1808.6 749.9v-9.6M1804.5 745.1h8.2M1816.3 751.8v-9.6M1812.2 747.0h8.2M1824.3 755.0v-9.6M1820.2 750.2h8.2M1832.2 759.9v-9.6M1828.1 755.1h8.2M1839.9 761.5v-9.6M1835.8 756.7h8.2M1848.1 762.5v-9.6M1844.0 757.7h8.2M1855.4 764.3v-9.6M1851.3 759.5h8.2M1863.5 766.9v-9.6M1859.4 762.1h8.2M1870.8 768.9v-9.6M1866.7 764.1h8.2M1878.7 770.5v-9.6M1874.6 765.7h8.2M1886.5 771.9v-9.6M1882.4 767.1h8.2M1894.0 773.1v-9.6M1889.9 768.3h8.2M1902.0 774.4v-9.6M1897.9 769.6h8.2M1909.8 775.4v-9.6M1905.7 770.6h8.2M1917.7 776.4v-9.6M1913.6 771.6h8.2M1926.0 777.2v-9.6M1921.9 772.4h8.2M1933.5 778.0v-9.6M1929.4 773.2h8.2M1940.8 778.7v-9.6M1936.7 773.9h8.2M1948.4 779.2v-9.6M1944.3 774.4h8.2M1956.4 779.7v-9.6M1952.3 774.9h8.2M1963.9 780.5v-9.6M1959.8 775.7h8.2M1971.4 781.6v-9.6M1967.3 776.8h8.2" fill="none" stroke="#c5322f" stroke-width="1.3"/>
<line x1="98.2" y1="650.2" x2="98.2" y2="915.9" stroke="#000" stroke-width="1.5" />
<line x1="97.5" y1="915.2" x2="528.4" y2="915.2" stroke="#000" stroke-width="1.5" />
<line x1="93.6" y1="662.4" x2="98.2" y2="662.4" stroke="#000" stroke-width="1.3" />
<text transform="translate(87.3 668.8) scale(1.04 1)" font-size="18.4" text-anchor="end" >1.00</text>
<line x1="93.6" y1="722.4" x2="98.2" y2="722.4" stroke="#000" stroke-width="1.3" />
<text transform="translate(87.3 728.8) scale(1.04 1)" font-size="18.4" text-anchor="end" >0.75</text>
<line x1="93.6" y1="782.4" x2="98.2" y2="782.4" stroke="#000" stroke-width="1.3" />
<text transform="translate(87.3 788.8) scale(1.04 1)" font-size="18.4" text-anchor="end" >0.50</text>
<line x1="93.6" y1="842.6" x2="98.2" y2="842.6" stroke="#000" stroke-width="1.3" />
<text transform="translate(87.3 849.0) scale(1.04 1)" font-size="18.4" text-anchor="end" >0.25</text>
<line x1="93.6" y1="903.0" x2="98.2" y2="903.0" stroke="#000" stroke-width="1.3" />
<text transform="translate(87.3 909.4) scale(1.04 1)" font-size="18.4" text-anchor="end" >0.00</text>
<line x1="117.9" y1="915.2" x2="117.9" y2="919.5" stroke="#000" stroke-width="1.3" />
<line x1="196.0" y1="915.2" x2="196.0" y2="919.5" stroke="#000" stroke-width="1.3" />
<line x1="274.1" y1="915.2" x2="274.1" y2="919.5" stroke="#000" stroke-width="1.3" />
<line x1="352.3" y1="915.2" x2="352.3" y2="919.5" stroke="#000" stroke-width="1.3" />
<line x1="430.4" y1="915.2" x2="430.4" y2="919.5" stroke="#000" stroke-width="1.3" />
<line x1="508.5" y1="915.2" x2="508.5" y2="919.5" stroke="#000" stroke-width="1.3" />
<text transform="translate(32.3,810.4) rotate(-90) scale(1.03 1)" font-size="18.4" text-anchor="middle">Survival probability</text>
<text transform="translate(147.0 868.0) scale(1.045 1)" font-size="18.4" text-anchor="start" >p = 0.0017</text>
<line x1="189.7" y1="611.9" x2="210.5" y2="611.9" stroke="#9a5fd0" stroke-width="2.8" />
<line x1="199.9" y1="604.5" x2="199.9" y2="613.3" stroke="#9a5fd0" stroke-width="1.2" />
<line x1="195.6" y1="609.2" x2="204.2" y2="609.2" stroke="#9a5fd0" stroke-width="1.2" />
<text transform="translate(219.2 616.2) scale(1.045 1)" font-size="18.4" text-anchor="start" >Subtype_M</text>
<line x1="349.7" y1="611.9" x2="370.5" y2="611.9" stroke="#b3ae33" stroke-width="2.8" />
<line x1="360.1" y1="604.5" x2="360.1" y2="613.3" stroke="#b3ae33" stroke-width="1.2" />
<line x1="355.8" y1="609.2" x2="364.4" y2="609.2" stroke="#b3ae33" stroke-width="1.2" />
<text transform="translate(377.8 616.2) scale(1.045 1)" font-size="18.4" text-anchor="start" >Subtype_O</text>
<text transform="translate(97.6 999.1) scale(1.045 1)" font-size="18.4" text-anchor="start" >Number at risk</text>
<line x1="98.2" y1="1014.0" x2="98.2" y2="1049.7" stroke="#000" stroke-width="1.4" />
<line x1="97.5" y1="1049.0" x2="528.4" y2="1049.0" stroke="#000" stroke-width="1.4" />
<rect x="52.3" y="1013" width="34.1" height="5.7" fill="#9a5fd0"/><rect x="52.3" y="1028.9" width="34.1" height="5.7" fill="#b3ae33"/>
<text transform="translate(116.9 1030.2) scale(1.04 1)" font-size="18.4" text-anchor="middle" >525</text>
<text transform="translate(116.9 1046.5) scale(1.04 1)" font-size="18.4" text-anchor="middle" >552</text>
<line x1="117.9" y1="1049.0" x2="117.9" y2="1053.3" stroke="#000" stroke-width="1.3" />
<text transform="translate(118.7 1081.7) scale(1.04 1)" font-size="18.4" text-anchor="middle" >0</text>
<text transform="translate(195.0 1030.2) scale(1.04 1)" font-size="18.4" text-anchor="middle" >418</text>
<text transform="translate(195.0 1046.5) scale(1.04 1)" font-size="18.4" text-anchor="middle" >425</text>
<line x1="196.0" y1="1049.0" x2="196.0" y2="1053.3" stroke="#000" stroke-width="1.3" />
<text transform="translate(196.8 1081.7) scale(1.04 1)" font-size="18.4" text-anchor="middle" >1</text>
<text transform="translate(273.1 1030.2) scale(1.04 1)" font-size="18.4" text-anchor="middle" >357</text>
<text transform="translate(273.1 1046.5) scale(1.04 1)" font-size="18.4" text-anchor="middle" >347</text>
<line x1="274.1" y1="1049.0" x2="274.1" y2="1053.3" stroke="#000" stroke-width="1.3" />
<text transform="translate(274.9 1081.7) scale(1.04 1)" font-size="18.4" text-anchor="middle" >2</text>
<text transform="translate(351.3 1030.2) scale(1.04 1)" font-size="18.4" text-anchor="middle" >295</text>
<text transform="translate(351.3 1046.5) scale(1.04 1)" font-size="18.4" text-anchor="middle" >282</text>
<line x1="352.3" y1="1049.0" x2="352.3" y2="1053.3" stroke="#000" stroke-width="1.3" />
<text transform="translate(353.1 1081.7) scale(1.04 1)" font-size="18.4" text-anchor="middle" >3</text>
<text transform="translate(429.4 1030.2) scale(1.04 1)" font-size="18.4" text-anchor="middle" >235</text>
<text transform="translate(429.4 1046.5) scale(1.04 1)" font-size="18.4" text-anchor="middle" >218</text>
<line x1="430.4" y1="1049.0" x2="430.4" y2="1053.3" stroke="#000" stroke-width="1.3" />
<text transform="translate(431.2 1081.7) scale(1.04 1)" font-size="18.4" text-anchor="middle" >4</text>
<text transform="translate(507.5 1030.2) scale(1.04 1)" font-size="18.4" text-anchor="middle" >178</text>
<text transform="translate(507.5 1046.5) scale(1.04 1)" font-size="18.4" text-anchor="middle" >163</text>
<line x1="508.5" y1="1049.0" x2="508.5" y2="1053.3" stroke="#000" stroke-width="1.3" />
<text transform="translate(509.3 1081.7) scale(1.04 1)" font-size="18.4" text-anchor="middle" >5</text>
<text transform="translate(252.6 1105.0) scale(1.045 1)" font-size="18.4" text-anchor="start" >Time in years</text>
<line x1="1552.7" y1="650.2" x2="1552.7" y2="913.4" stroke="#000" stroke-width="1.5" />
<line x1="1552.0" y1="912.7" x2="1979.2" y2="912.7" stroke="#000" stroke-width="1.5" />
<line x1="1548.1" y1="662.4" x2="1552.7" y2="662.4" stroke="#000" stroke-width="1.3" />
<text transform="translate(1536.0 668.8) scale(1.04 1)" font-size="18.4" text-anchor="end" >1.00</text>
<line x1="1548.1" y1="722.0" x2="1552.7" y2="722.0" stroke="#000" stroke-width="1.3" />
<text transform="translate(1536.0 728.4) scale(1.04 1)" font-size="18.4" text-anchor="end" >0.75</text>
<line x1="1548.1" y1="781.6" x2="1552.7" y2="781.6" stroke="#000" stroke-width="1.3" />
<text transform="translate(1536.0 788.0) scale(1.04 1)" font-size="18.4" text-anchor="end" >0.50</text>
<line x1="1548.1" y1="841.3" x2="1552.7" y2="841.3" stroke="#000" stroke-width="1.3" />
<text transform="translate(1536.0 847.7) scale(1.04 1)" font-size="18.4" text-anchor="end" >0.25</text>
<line x1="1548.1" y1="900.9" x2="1552.7" y2="900.9" stroke="#000" stroke-width="1.3" />
<text transform="translate(1536.0 907.3) scale(1.04 1)" font-size="18.4" text-anchor="end" >0.00</text>
<line x1="1573.0" y1="912.7" x2="1573.0" y2="916.9" stroke="#000" stroke-width="1.3" />
<line x1="1650.2" y1="912.7" x2="1650.2" y2="916.9" stroke="#000" stroke-width="1.3" />
<line x1="1727.4" y1="912.7" x2="1727.4" y2="916.9" stroke="#000" stroke-width="1.3" />
<line x1="1804.5" y1="912.7" x2="1804.5" y2="916.9" stroke="#000" stroke-width="1.3" />
<line x1="1881.5" y1="912.7" x2="1881.5" y2="916.9" stroke="#000" stroke-width="1.3" />
<line x1="1958.6" y1="912.7" x2="1958.6" y2="916.9" stroke="#000" stroke-width="1.3" />
<text transform="translate(1481.7,808.5) rotate(-90) scale(1.03 1)" font-size="18.4" text-anchor="middle">Survival probability</text>
<text transform="translate(1600.8 864.1) scale(1.045 1)" font-size="18.4" text-anchor="start" >p = 0.00086</text>
<line x1="1645.2" y1="612.7" x2="1666.0" y2="612.7" stroke="#3a77c2" stroke-width="2.8" />
<line x1="1655.6" y1="605.3" x2="1655.6" y2="614.1" stroke="#3a77c2" stroke-width="1.2" />
<line x1="1651.3" y1="610.0" x2="1659.9" y2="610.0" stroke="#3a77c2" stroke-width="1.2" />
<text transform="translate(1675.2 617.2) scale(1.045 1)" font-size="18.4" text-anchor="start" >Subtype_H</text>
<line x1="1801.2" y1="612.7" x2="1822.0" y2="612.7" stroke="#c5322f" stroke-width="2.8" />
<line x1="1811.6" y1="605.3" x2="1811.6" y2="614.1" stroke="#c5322f" stroke-width="1.2" />
<line x1="1807.3" y1="610.0" x2="1815.9" y2="610.0" stroke="#c5322f" stroke-width="1.2" />
<text transform="translate(1829.7 617.2) scale(1.045 1)" font-size="18.4" text-anchor="start" >Subtype_P</text>
<text transform="translate(1552.0 996.8) scale(1.045 1)" font-size="18.4" text-anchor="start" >Number at risk</text>
<line x1="1552.7" y1="1010.0" x2="1552.7" y2="1045.9" stroke="#000" stroke-width="1.4" />
<line x1="1552.0" y1="1045.2" x2="1979.2" y2="1045.2" stroke="#000" stroke-width="1.4" />
<rect x="1507" y="1009.3" width="34.1" height="5.7" fill="#3a77c2"/><rect x="1507" y="1025.2" width="34.1" height="5.7" fill="#c5322f"/>
<text transform="translate(1572.0 1026.7) scale(1.04 1)" font-size="18.4" text-anchor="middle" >540</text>
<text transform="translate(1572.0 1042.6) scale(1.04 1)" font-size="18.4" text-anchor="middle" >537</text>
<line x1="1573.0" y1="1045.2" x2="1573.0" y2="1049.4" stroke="#000" stroke-width="1.3" />
<text transform="translate(1572.7 1071.5) scale(1.04 1)" font-size="18.4" text-anchor="middle" >0</text>
<text transform="translate(1649.2 1026.7) scale(1.04 1)" font-size="18.4" text-anchor="middle" >425</text>
<text transform="translate(1649.2 1042.6) scale(1.04 1)" font-size="18.4" text-anchor="middle" >421</text>
<line x1="1650.2" y1="1045.2" x2="1650.2" y2="1049.4" stroke="#000" stroke-width="1.3" />
<text transform="translate(1649.9 1071.5) scale(1.04 1)" font-size="18.4" text-anchor="middle" >1</text>
<text transform="translate(1726.4 1026.7) scale(1.04 1)" font-size="18.4" text-anchor="middle" >357</text>
<text transform="translate(1726.4 1042.6) scale(1.04 1)" font-size="18.4" text-anchor="middle" >339</text>
<line x1="1727.4" y1="1045.2" x2="1727.4" y2="1049.4" stroke="#000" stroke-width="1.3" />
<text transform="translate(1727.1 1071.5) scale(1.04 1)" font-size="18.4" text-anchor="middle" >2</text>
<text transform="translate(1803.5 1026.7) scale(1.04 1)" font-size="18.4" text-anchor="middle" >298</text>
<text transform="translate(1803.5 1042.6) scale(1.04 1)" font-size="18.4" text-anchor="middle" >275</text>
<line x1="1804.5" y1="1045.2" x2="1804.5" y2="1049.4" stroke="#000" stroke-width="1.3" />
<text transform="translate(1804.2 1071.5) scale(1.04 1)" font-size="18.4" text-anchor="middle" >3</text>
<text transform="translate(1880.5 1026.7) scale(1.04 1)" font-size="18.4" text-anchor="middle" >250</text>
<text transform="translate(1880.5 1042.6) scale(1.04 1)" font-size="18.4" text-anchor="middle" >215</text>
<line x1="1881.5" y1="1045.2" x2="1881.5" y2="1049.4" stroke="#000" stroke-width="1.3" />
<text transform="translate(1881.2 1071.5) scale(1.04 1)" font-size="18.4" text-anchor="middle" >4</text>
<text transform="translate(1957.6 1026.7) scale(1.04 1)" font-size="18.4" text-anchor="middle" >192</text>
<text transform="translate(1957.6 1042.6) scale(1.04 1)" font-size="18.4" text-anchor="middle" >172</text>
<line x1="1958.6" y1="1045.2" x2="1958.6" y2="1049.4" stroke="#000" stroke-width="1.3" />
<text transform="translate(1958.3 1071.5) scale(1.04 1)" font-size="18.4" text-anchor="middle" >5</text>
<text transform="translate(1706.8 1094.0) scale(1.045 1)" font-size="18.4" text-anchor="start" >Time in years</text>
</svg></body></html>
